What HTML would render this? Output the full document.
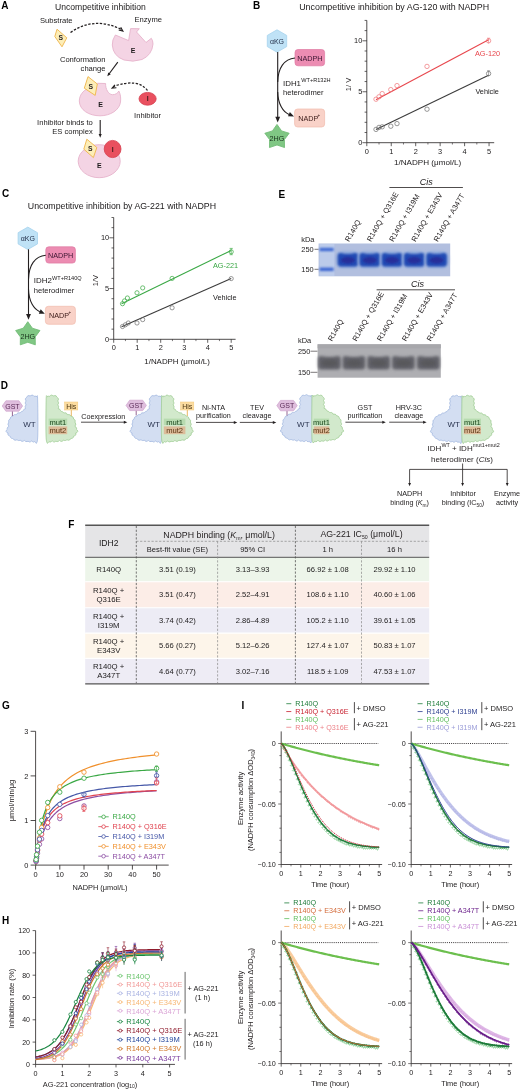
<!DOCTYPE html>
<html><head><meta charset="utf-8"><style>
html,body{margin:0;padding:0;background:#fff;}
body{width:520px;height:1090px;overflow:hidden;}
svg{display:block;filter:blur(0.3px);font-family:"Liberation Sans",sans-serif;}
</style></head><body>
<svg width="520" height="1090" viewBox="0 0 520 1090">
<rect width="520" height="1090" fill="#fff"/>
<text x="1.20" y="9.00" font-size="10" text-anchor="start" fill="#000" font-weight="bold" font-style="normal" >A</text>
<text x="55.00" y="10.20" font-size="8.6" text-anchor="start" fill="#1c1a1b" font-weight="normal" font-style="normal" >Uncompetitive inhibition</text>
<text x="40.00" y="23.20" font-size="7.6" text-anchor="start" fill="#1c1a1b" font-weight="normal" font-style="normal" >Substrate</text>
<text x="134.50" y="22.30" font-size="7.6" text-anchor="start" fill="#1c1a1b" font-weight="normal" font-style="normal" >Enzyme</text>
<path d="M57.0,29.2 L66.8,37.8 L62.0,46.8 L54.8,36.5 Z" fill="#fdeeb8" stroke="#eeb44a" stroke-width="0.9" />
<text x="60.80" y="40.40" font-size="6.8" text-anchor="middle" fill="#231f20" font-weight="bold" font-style="normal" >S</text>
<path d="M70.5,32.5 Q94,16 121.5,29.5" fill="none" stroke="#231f20" stroke-width="1.25" stroke-dasharray="2.4,1.5"/>
<path d="M118.72,29.99 L122.80,31.00 L120.69,27.37" fill="none" stroke="#231f20" stroke-width="1.2" />
<path d="M115.4,35 Q112,40 112.3,45 Q113,56 124,60 Q133,62.5 142,59.5 Q152,55 153,44 Q153,40.5 151.3,38.3 L146,42.5 L136.5,32 L139.3,28.7 L130.6,28.6 L128.6,40.6 Z" fill="#f4d4e4" stroke="#e6b3cc" stroke-width="0.9" />
<text x="133.00" y="53.30" font-size="7" text-anchor="middle" fill="#1c1a1b" font-weight="bold" font-style="normal" >E</text>
<text x="105.50" y="62.00" font-size="7.6" text-anchor="end" fill="#1c1a1b" font-weight="normal" font-style="normal" >Conformation</text>
<text x="105.50" y="70.60" font-size="7.6" text-anchor="end" fill="#1c1a1b" font-weight="normal" font-style="normal" >change</text>
<line x1="117.80" y1="62.20" x2="108.60" y2="74.50" stroke="#231f20" stroke-width="1.1" />
<path d="M108.25,72.41 L107.30,76.30 L110.75,74.28 Z" fill="#231f20" stroke="none"/>
<path d="M79.3,101 C79.5,95 83,91 87,89 L96.6,84 Q97,83.3 98,83.3 L105.6,83.5 C105.3,89 108.5,94.6 112.5,94.7 C115.5,94.8 117.8,93 118.8,91 C120.5,94 121,98 120.5,102 C119.5,110 110.5,115.8 100,115.8 C89,115.8 79.5,110 79.3,101 Z" fill="#f4d4e4" stroke="#e6b3cc" stroke-width="0.9" />
<path d="M88.0,76.6 L97.3,84.0 L95.2,95.4 L84.3,88.2 Z" fill="#fdeeb8" stroke="#eeb44a" stroke-width="0.9" />
<text x="90.80" y="88.60" font-size="6.8" text-anchor="middle" fill="#231f20" font-weight="bold" font-style="normal" >S</text>
<text x="100.50" y="106.80" font-size="7" text-anchor="middle" fill="#1c1a1b" font-weight="bold" font-style="normal" >E</text>
<path d="M147.5,90.5 Q138,78 114,86.3" fill="none" stroke="#231f20" stroke-width="1.25" stroke-dasharray="2.4,1.5"/>
<path d="M114.93,84.81 L112.20,88.00 L116.39,87.73" fill="none" stroke="#231f20" stroke-width="1.2" />
<ellipse cx="147.6" cy="98.8" rx="8.6" ry="6.4" fill="#e9505f" stroke="#d63c4c" stroke-width="0.8"/>
<text x="147.60" y="101.30" font-size="6.8" text-anchor="middle" fill="#3a1a1a" font-weight="bold" font-style="normal" >I</text>
<text x="147.60" y="118.00" font-size="7.6" text-anchor="middle" fill="#1c1a1b" font-weight="normal" font-style="normal" >Inhibitor</text>
<text x="92.80" y="125.20" font-size="7.6" text-anchor="end" fill="#1c1a1b" font-weight="normal" font-style="normal" >Inhibitor binds to</text>
<text x="92.80" y="134.00" font-size="7.6" text-anchor="end" fill="#1c1a1b" font-weight="normal" font-style="normal" >ES complex</text>
<line x1="100.20" y1="120.00" x2="100.20" y2="135.30" stroke="#231f20" stroke-width="1.1" />
<path d="M98.64,134.12 L100.20,137.80 L101.76,134.12 Z" fill="#231f20" stroke="none"/>
<ellipse cx="99.2" cy="161.2" rx="21" ry="16.5" fill="#f4d4e4" stroke="#e6b3cc" stroke-width="0.9"/>
<path d="M86.8,139.2 L96.8,147.5 L93.4,157.6 L83.8,149.2 Z" fill="#fdeeb8" stroke="#eeb44a" stroke-width="0.9" />
<text x="90.20" y="150.60" font-size="6.8" text-anchor="middle" fill="#231f20" font-weight="bold" font-style="normal" >S</text>
<ellipse cx="112.6" cy="149" rx="8.4" ry="8.6" fill="#e9505f" stroke="#d63c4c" stroke-width="0.8"/>
<text x="112.60" y="151.50" font-size="6.8" text-anchor="middle" fill="#3a1a1a" font-weight="bold" font-style="normal" >I</text>
<text x="99.40" y="168.20" font-size="7" text-anchor="middle" fill="#1c1a1b" font-weight="bold" font-style="normal" >E</text>
<text x="253.00" y="9.20" font-size="10" text-anchor="start" fill="#000" font-weight="bold" font-style="normal" >B</text>
<text x="299.20" y="9.50" font-size="8.9" text-anchor="start" fill="#1c1a1b" font-weight="normal" font-style="normal" >Uncompetitive inhibition by AG-120 with NADPH</text>
<path d="M277.00,29.80 L286.70,35.40 L286.70,46.60 L277.00,52.20 L267.30,46.60 L267.30,35.40 Z" fill="#bfe2f6" stroke="#a6d3ee" stroke-width="0.8" />
<text x="277.00" y="43.60" font-size="7" text-anchor="middle" fill="#1f2a44" font-weight="normal" font-style="normal" >αKG</text>
<rect x="295.00" y="49.50" width="29.60" height="16.30" rx="3" fill="#ec8cb2" stroke="#df78a2" stroke-width="0.7"/>
<text x="309.80" y="60.60" font-size="7.2" text-anchor="middle" fill="#3a1530" font-weight="normal" font-style="normal" >NADPH</text>
<line x1="277.70" y1="52.00" x2="277.70" y2="117.00" stroke="#231f20" stroke-width="1.1" />
<path d="M275.29,116.69 L277.70,122.40 L280.11,116.69 Z" fill="#231f20" stroke="none"/>
<path d="M295.00,58.00 C284.00,59.00 278.00,68.00 277.70,82.00" fill="none" stroke="#231f20" stroke-width="1.1" />
<path d="M277.70,92.00 C278.00,104.00 283.00,112.00 289.00,114.40" fill="none" stroke="#231f20" stroke-width="1.1" />
<path d="M288.00,116.35 L294.00,116.40 L289.86,112.06 Z" fill="#231f20" stroke="none"/>
<text x="283.00" y="86.00" font-size="7.9" text-anchor="start" fill="#1c1a1b" font-weight="normal" font-style="normal" >IDH1</text>
<text x="301.20" y="82.20" font-size="5.6" text-anchor="start" fill="#1c1a1b" font-weight="normal" font-style="normal" >WT+R132H</text>
<text x="283.00" y="95.40" font-size="7.6" text-anchor="start" fill="#1c1a1b" font-weight="normal" font-style="normal" >heterodimer</text>
<rect x="294.60" y="109.00" width="30.00" height="18.00" rx="3" fill="#f9d2c8" stroke="#f1bcae" stroke-width="0.7"/>
<text x="308.20" y="120.60" font-size="7.2" text-anchor="middle" fill="#3a1a18" font-weight="normal" font-style="normal" >NADP</text>
<text x="317.60" y="116.80" font-size="4.6" text-anchor="start" fill="#3a1a18" font-weight="normal" font-style="normal" >+</text>
<path d="M277.00,124.40 L281.58,130.89 L289.17,133.24 L284.42,139.61 L284.52,147.56 L277.00,145.00 L269.48,147.56 L269.58,139.61 L264.83,133.24 L272.42,130.89 Z" fill="#80c784" stroke="#6bb970" stroke-width="0.8" stroke-linejoin="round"/>
<text x="277.00" y="141.20" font-size="7.2" text-anchor="middle" fill="#17301a" font-weight="normal" font-style="normal" >2HG</text>
<line x1="366.80" y1="142.70" x2="366.80" y2="20.42" stroke="#231f20" stroke-width="0.8" />
<line x1="362.50" y1="142.70" x2="366.80" y2="142.70" stroke="#231f20" stroke-width="0.7" />
<line x1="364.60" y1="132.51" x2="366.80" y2="132.51" stroke="#231f20" stroke-width="0.7" />
<line x1="364.60" y1="122.32" x2="366.80" y2="122.32" stroke="#231f20" stroke-width="0.7" />
<line x1="364.60" y1="112.13" x2="366.80" y2="112.13" stroke="#231f20" stroke-width="0.7" />
<line x1="364.60" y1="101.94" x2="366.80" y2="101.94" stroke="#231f20" stroke-width="0.7" />
<line x1="362.50" y1="91.75" x2="366.80" y2="91.75" stroke="#231f20" stroke-width="0.7" />
<line x1="364.60" y1="81.56" x2="366.80" y2="81.56" stroke="#231f20" stroke-width="0.7" />
<line x1="364.60" y1="71.37" x2="366.80" y2="71.37" stroke="#231f20" stroke-width="0.7" />
<line x1="364.60" y1="61.18" x2="366.80" y2="61.18" stroke="#231f20" stroke-width="0.7" />
<line x1="364.60" y1="50.99" x2="366.80" y2="50.99" stroke="#231f20" stroke-width="0.7" />
<line x1="362.50" y1="40.80" x2="366.80" y2="40.80" stroke="#231f20" stroke-width="0.7" />
<line x1="364.60" y1="30.61" x2="366.80" y2="30.61" stroke="#231f20" stroke-width="0.7" />
<line x1="364.60" y1="20.42" x2="366.80" y2="20.42" stroke="#231f20" stroke-width="0.7" />
<text x="362.30" y="145.30" font-size="7.4" text-anchor="end" fill="#1c1a1b" font-weight="normal" font-style="normal" >0</text>
<text x="362.30" y="94.35" font-size="7.4" text-anchor="end" fill="#1c1a1b" font-weight="normal" font-style="normal" >5</text>
<text x="362.30" y="43.40" font-size="7.4" text-anchor="end" fill="#1c1a1b" font-weight="normal" font-style="normal" >10</text>
<line x1="366.80" y1="142.70" x2="494.20" y2="142.70" stroke="#231f20" stroke-width="0.8" />
<line x1="366.80" y1="142.70" x2="366.80" y2="146.20" stroke="#231f20" stroke-width="0.7" />
<text x="366.80" y="153.50" font-size="7.4" text-anchor="middle" fill="#1c1a1b" font-weight="normal" font-style="normal" >0</text>
<line x1="391.25" y1="142.70" x2="391.25" y2="146.20" stroke="#231f20" stroke-width="0.7" />
<text x="391.25" y="153.50" font-size="7.4" text-anchor="middle" fill="#1c1a1b" font-weight="normal" font-style="normal" >1</text>
<line x1="415.70" y1="142.70" x2="415.70" y2="146.20" stroke="#231f20" stroke-width="0.7" />
<text x="415.70" y="153.50" font-size="7.4" text-anchor="middle" fill="#1c1a1b" font-weight="normal" font-style="normal" >2</text>
<line x1="440.15" y1="142.70" x2="440.15" y2="146.20" stroke="#231f20" stroke-width="0.7" />
<text x="440.15" y="153.50" font-size="7.4" text-anchor="middle" fill="#1c1a1b" font-weight="normal" font-style="normal" >3</text>
<line x1="464.60" y1="142.70" x2="464.60" y2="146.20" stroke="#231f20" stroke-width="0.7" />
<text x="464.60" y="153.50" font-size="7.4" text-anchor="middle" fill="#1c1a1b" font-weight="normal" font-style="normal" >4</text>
<line x1="489.05" y1="142.70" x2="489.05" y2="146.20" stroke="#231f20" stroke-width="0.7" />
<text x="489.05" y="153.50" font-size="7.4" text-anchor="middle" fill="#1c1a1b" font-weight="normal" font-style="normal" >5</text>
<line x1="379.03" y1="142.70" x2="379.03" y2="144.50" stroke="#231f20" stroke-width="0.6" />
<line x1="403.48" y1="142.70" x2="403.48" y2="144.50" stroke="#231f20" stroke-width="0.6" />
<line x1="427.93" y1="142.70" x2="427.93" y2="144.50" stroke="#231f20" stroke-width="0.6" />
<line x1="452.38" y1="142.70" x2="452.38" y2="144.50" stroke="#231f20" stroke-width="0.6" />
<line x1="476.82" y1="142.70" x2="476.82" y2="144.50" stroke="#231f20" stroke-width="0.6" />
<text x="427.60" y="165.30" font-size="8.1" text-anchor="middle" fill="#1c1a1b" font-weight="normal" font-style="normal" >1/NADPH (μmol/L)</text>
<text transform="translate(351.40,84.40) rotate(-90)" font-size="7.6" text-anchor="middle" fill="#231f20">1/ V</text>
<line x1="376.00" y1="129.60" x2="488.60" y2="75.20" stroke="#3c3c3c" stroke-width="1.1" />
<line x1="376.00" y1="99.80" x2="488.60" y2="39.80" stroke="#e8464c" stroke-width="1.1" />
<circle cx="376.00" cy="129.40" r="2.2" fill="none" stroke="#6d6d6d" stroke-width="0.7" />
<circle cx="379.00" cy="127.40" r="2.2" fill="none" stroke="#6d6d6d" stroke-width="0.7" />
<circle cx="382.20" cy="126.80" r="2.2" fill="none" stroke="#6d6d6d" stroke-width="0.7" />
<circle cx="390.80" cy="126.20" r="2.2" fill="none" stroke="#6d6d6d" stroke-width="0.7" />
<circle cx="397.00" cy="123.60" r="2.2" fill="none" stroke="#6d6d6d" stroke-width="0.7" />
<circle cx="427.00" cy="109.20" r="2.2" fill="none" stroke="#6d6d6d" stroke-width="0.7" />
<circle cx="488.60" cy="73.60" r="2.2" fill="none" stroke="#6d6d6d" stroke-width="0.7" />
<circle cx="376.00" cy="99.20" r="2.2" fill="none" stroke="#ee7277" stroke-width="0.7" />
<circle cx="379.00" cy="96.80" r="2.2" fill="none" stroke="#ee7277" stroke-width="0.7" />
<circle cx="382.20" cy="93.60" r="2.2" fill="none" stroke="#ee7277" stroke-width="0.7" />
<circle cx="390.80" cy="89.60" r="2.2" fill="none" stroke="#ee7277" stroke-width="0.7" />
<circle cx="397.00" cy="85.60" r="2.2" fill="none" stroke="#ee7277" stroke-width="0.7" />
<circle cx="427.00" cy="66.40" r="2.2" fill="none" stroke="#ee7277" stroke-width="0.7" />
<circle cx="488.60" cy="40.80" r="2.2" fill="none" stroke="#ee7277" stroke-width="0.7" />
<line x1="488.60" y1="70.80" x2="488.60" y2="76.40" stroke="#6d6d6d" stroke-width="0.6" />
<line x1="487.00" y1="70.80" x2="490.20" y2="70.80" stroke="#6d6d6d" stroke-width="0.6" />
<line x1="488.60" y1="38.20" x2="488.60" y2="43.40" stroke="#ee7277" stroke-width="0.6" />
<line x1="487.00" y1="38.20" x2="490.20" y2="38.20" stroke="#ee7277" stroke-width="0.6" />
<text x="475.00" y="56.20" font-size="7.3" text-anchor="start" fill="#e8464c" font-weight="normal" font-style="normal" >AG-120</text>
<text x="475.40" y="94.20" font-size="7.3" text-anchor="start" fill="#1c1a1b" font-weight="normal" font-style="normal" >Vehicle</text>
<text x="2.00" y="197.40" font-size="10" text-anchor="start" fill="#000" font-weight="bold" font-style="normal" >C</text>
<text x="27.80" y="208.90" font-size="8.8" text-anchor="start" fill="#1c1a1b" font-weight="normal" font-style="normal" >Uncompetitive inhibition by AG-221 with NADPH</text>
<path d="M27.80,227.10 L37.50,232.70 L37.50,243.90 L27.80,249.50 L18.10,243.90 L18.10,232.70 Z" fill="#bfe2f6" stroke="#a6d3ee" stroke-width="0.8" />
<text x="27.80" y="240.90" font-size="7" text-anchor="middle" fill="#1f2a44" font-weight="normal" font-style="normal" >αKG</text>
<rect x="45.80" y="246.80" width="29.60" height="16.30" rx="3" fill="#ec8cb2" stroke="#df78a2" stroke-width="0.7"/>
<text x="60.60" y="257.90" font-size="7.2" text-anchor="middle" fill="#3a1530" font-weight="normal" font-style="normal" >NADPH</text>
<line x1="28.50" y1="249.30" x2="28.50" y2="314.30" stroke="#231f20" stroke-width="1.1" />
<path d="M26.09,313.99 L28.50,319.70 L30.91,313.99 Z" fill="#231f20" stroke="none"/>
<path d="M45.80,255.30 C34.80,256.30 28.80,265.30 28.50,279.30" fill="none" stroke="#231f20" stroke-width="1.1" />
<path d="M28.50,289.30 C28.80,301.30 33.80,309.30 39.80,311.70" fill="none" stroke="#231f20" stroke-width="1.1" />
<path d="M38.80,313.65 L44.80,313.70 L40.66,309.36 Z" fill="#231f20" stroke="none"/>
<text x="33.80" y="283.30" font-size="7.9" text-anchor="start" fill="#1c1a1b" font-weight="normal" font-style="normal" >IDH2</text>
<text x="52.00" y="279.50" font-size="5.6" text-anchor="start" fill="#1c1a1b" font-weight="normal" font-style="normal" >WT+R140Q</text>
<text x="33.80" y="292.70" font-size="7.6" text-anchor="start" fill="#1c1a1b" font-weight="normal" font-style="normal" >heterodimer</text>
<rect x="45.40" y="306.30" width="30.00" height="18.00" rx="3" fill="#f9d2c8" stroke="#f1bcae" stroke-width="0.7"/>
<text x="59.00" y="317.90" font-size="7.2" text-anchor="middle" fill="#3a1a18" font-weight="normal" font-style="normal" >NADP</text>
<text x="68.40" y="314.10" font-size="4.6" text-anchor="start" fill="#3a1a18" font-weight="normal" font-style="normal" >+</text>
<path d="M27.80,321.70 L32.38,328.19 L39.97,330.54 L35.22,336.91 L35.32,344.86 L27.80,342.30 L20.28,344.86 L20.38,336.91 L15.63,330.54 L23.22,328.19 Z" fill="#80c784" stroke="#6bb970" stroke-width="0.8" stroke-linejoin="round"/>
<text x="27.80" y="338.50" font-size="7.2" text-anchor="middle" fill="#17301a" font-weight="normal" font-style="normal" >2HG</text>
<line x1="113.70" y1="339.30" x2="113.70" y2="217.50" stroke="#231f20" stroke-width="0.8" />
<line x1="109.40" y1="339.30" x2="113.70" y2="339.30" stroke="#231f20" stroke-width="0.7" />
<line x1="111.50" y1="329.15" x2="113.70" y2="329.15" stroke="#231f20" stroke-width="0.7" />
<line x1="111.50" y1="319.00" x2="113.70" y2="319.00" stroke="#231f20" stroke-width="0.7" />
<line x1="111.50" y1="308.85" x2="113.70" y2="308.85" stroke="#231f20" stroke-width="0.7" />
<line x1="111.50" y1="298.70" x2="113.70" y2="298.70" stroke="#231f20" stroke-width="0.7" />
<line x1="109.40" y1="288.55" x2="113.70" y2="288.55" stroke="#231f20" stroke-width="0.7" />
<line x1="111.50" y1="278.40" x2="113.70" y2="278.40" stroke="#231f20" stroke-width="0.7" />
<line x1="111.50" y1="268.25" x2="113.70" y2="268.25" stroke="#231f20" stroke-width="0.7" />
<line x1="111.50" y1="258.10" x2="113.70" y2="258.10" stroke="#231f20" stroke-width="0.7" />
<line x1="111.50" y1="247.95" x2="113.70" y2="247.95" stroke="#231f20" stroke-width="0.7" />
<line x1="109.40" y1="237.80" x2="113.70" y2="237.80" stroke="#231f20" stroke-width="0.7" />
<line x1="111.50" y1="227.65" x2="113.70" y2="227.65" stroke="#231f20" stroke-width="0.7" />
<line x1="111.50" y1="217.50" x2="113.70" y2="217.50" stroke="#231f20" stroke-width="0.7" />
<text x="109.20" y="341.90" font-size="7.4" text-anchor="end" fill="#1c1a1b" font-weight="normal" font-style="normal" >0</text>
<text x="109.20" y="291.15" font-size="7.4" text-anchor="end" fill="#1c1a1b" font-weight="normal" font-style="normal" >5</text>
<text x="109.20" y="240.40" font-size="7.4" text-anchor="end" fill="#1c1a1b" font-weight="normal" font-style="normal" >10</text>
<line x1="113.70" y1="339.30" x2="235.60" y2="339.30" stroke="#231f20" stroke-width="0.8" />
<line x1="113.70" y1="339.30" x2="113.70" y2="342.80" stroke="#231f20" stroke-width="0.7" />
<text x="113.70" y="350.10" font-size="7.4" text-anchor="middle" fill="#1c1a1b" font-weight="normal" font-style="normal" >0</text>
<line x1="137.20" y1="339.30" x2="137.20" y2="342.80" stroke="#231f20" stroke-width="0.7" />
<text x="137.20" y="350.10" font-size="7.4" text-anchor="middle" fill="#1c1a1b" font-weight="normal" font-style="normal" >1</text>
<line x1="160.70" y1="339.30" x2="160.70" y2="342.80" stroke="#231f20" stroke-width="0.7" />
<text x="160.70" y="350.10" font-size="7.4" text-anchor="middle" fill="#1c1a1b" font-weight="normal" font-style="normal" >2</text>
<line x1="184.20" y1="339.30" x2="184.20" y2="342.80" stroke="#231f20" stroke-width="0.7" />
<text x="184.20" y="350.10" font-size="7.4" text-anchor="middle" fill="#1c1a1b" font-weight="normal" font-style="normal" >3</text>
<line x1="207.70" y1="339.30" x2="207.70" y2="342.80" stroke="#231f20" stroke-width="0.7" />
<text x="207.70" y="350.10" font-size="7.4" text-anchor="middle" fill="#1c1a1b" font-weight="normal" font-style="normal" >4</text>
<line x1="231.20" y1="339.30" x2="231.20" y2="342.80" stroke="#231f20" stroke-width="0.7" />
<text x="231.20" y="350.10" font-size="7.4" text-anchor="middle" fill="#1c1a1b" font-weight="normal" font-style="normal" >5</text>
<line x1="125.45" y1="339.30" x2="125.45" y2="341.10" stroke="#231f20" stroke-width="0.6" />
<line x1="148.95" y1="339.30" x2="148.95" y2="341.10" stroke="#231f20" stroke-width="0.6" />
<line x1="172.45" y1="339.30" x2="172.45" y2="341.10" stroke="#231f20" stroke-width="0.6" />
<line x1="195.95" y1="339.30" x2="195.95" y2="341.10" stroke="#231f20" stroke-width="0.6" />
<line x1="219.45" y1="339.30" x2="219.45" y2="341.10" stroke="#231f20" stroke-width="0.6" />
<text x="177.10" y="364.30" font-size="7.9" text-anchor="middle" fill="#1c1a1b" font-weight="normal" font-style="normal" >1/NADPH (μmol/L)</text>
<text transform="translate(98.20,280.60) rotate(-90)" font-size="7.6" text-anchor="middle" fill="#231f20">1/V</text>
<line x1="121.60" y1="326.80" x2="231.20" y2="278.60" stroke="#3c3c3c" stroke-width="1.1" />
<line x1="121.60" y1="303.70" x2="231.20" y2="250.40" stroke="#3aa845" stroke-width="1.1" />
<circle cx="122.50" cy="326.50" r="2.1" fill="none" stroke="#6d6d6d" stroke-width="0.7" />
<circle cx="125.40" cy="324.80" r="2.1" fill="none" stroke="#6d6d6d" stroke-width="0.7" />
<circle cx="128.30" cy="323.00" r="2.1" fill="none" stroke="#6d6d6d" stroke-width="0.7" />
<circle cx="137.00" cy="323.00" r="2.1" fill="none" stroke="#6d6d6d" stroke-width="0.7" />
<circle cx="142.70" cy="319.60" r="2.1" fill="none" stroke="#6d6d6d" stroke-width="0.7" />
<circle cx="172.10" cy="307.80" r="2.1" fill="none" stroke="#6d6d6d" stroke-width="0.7" />
<circle cx="231.20" cy="278.60" r="2.1" fill="none" stroke="#6d6d6d" stroke-width="0.7" />
<circle cx="122.50" cy="303.70" r="2.1" fill="none" stroke="#49b050" stroke-width="0.8" />
<circle cx="124.50" cy="300.90" r="2.1" fill="none" stroke="#49b050" stroke-width="0.8" />
<circle cx="127.40" cy="298.00" r="2.1" fill="none" stroke="#49b050" stroke-width="0.8" />
<circle cx="137.00" cy="292.80" r="2.1" fill="none" stroke="#49b050" stroke-width="0.8" />
<circle cx="142.70" cy="287.90" r="2.1" fill="none" stroke="#49b050" stroke-width="0.8" />
<circle cx="172.10" cy="278.40" r="2.1" fill="none" stroke="#49b050" stroke-width="0.8" />
<circle cx="231.20" cy="251.80" r="2.1" fill="none" stroke="#49b050" stroke-width="0.8" />
<line x1="231.20" y1="248.40" x2="231.20" y2="254.70" stroke="#49b050" stroke-width="0.7" />
<line x1="229.60" y1="248.40" x2="232.80" y2="248.40" stroke="#49b050" stroke-width="0.7" />
<line x1="229.60" y1="254.70" x2="232.80" y2="254.70" stroke="#49b050" stroke-width="0.7" />
<text x="213.00" y="267.50" font-size="7.3" text-anchor="start" fill="#3aa845" font-weight="normal" font-style="normal" >AG-221</text>
<text x="213.00" y="300.10" font-size="7.3" text-anchor="start" fill="#1c1a1b" font-weight="normal" font-style="normal" >Vehicle</text>
<text x="278.50" y="198.00" font-size="10" text-anchor="start" fill="#000" font-weight="bold" font-style="normal" >E</text>
<text transform="translate(349.10,242.20) rotate(-60)" font-size="7.5" fill="#231f20">R140Q</text>
<text transform="translate(370.90,242.20) rotate(-60)" font-size="7.5" fill="#231f20">R140Q + Q316E</text>
<text transform="translate(393.20,242.20) rotate(-60)" font-size="7.5" fill="#231f20">R140Q + I319M</text>
<text transform="translate(415.40,242.20) rotate(-60)" font-size="7.5" fill="#231f20">R140Q + E343V</text>
<text transform="translate(437.80,242.20) rotate(-60)" font-size="7.5" fill="#231f20">R140Q + A347T</text>
<line x1="389.40" y1="187.50" x2="462.90" y2="187.50" stroke="#231f20" stroke-width="0.8" />
<text x="426.30" y="184.60" font-size="9" text-anchor="middle" fill="#1c1a1b" font-weight="normal" font-style="italic" >Cis</text>
<text x="301.30" y="242.20" font-size="7.4" text-anchor="start" fill="#1c1a1b" font-weight="normal" font-style="normal" >kDa</text>
<text x="301.30" y="252.00" font-size="7.4" text-anchor="start" fill="#1c1a1b" font-weight="normal" font-style="normal" >250</text>
<text x="301.30" y="272.00" font-size="7.4" text-anchor="start" fill="#1c1a1b" font-weight="normal" font-style="normal" >150</text>
<line x1="314.50" y1="249.30" x2="318.80" y2="249.30" stroke="#231f20" stroke-width="0.6" />
<line x1="314.50" y1="269.30" x2="318.80" y2="269.30" stroke="#231f20" stroke-width="0.6" />
<defs><filter id="blur1" x="-20%" y="-50%" width="140%" height="200%"><feGaussianBlur stdDeviation="0.9"/></filter><filter id="blur2" x="-20%" y="-50%" width="140%" height="200%"><feGaussianBlur stdDeviation="1.5"/></filter></defs>
<rect x="318.6" y="243.5" width="131.6" height="32.8" fill="#b2bfdf"/>
<rect x="319.4" y="244" width="15" height="32" fill="#bccbea"/>
<rect x="319.6" y="247.9" width="14" height="3.2" fill="#3e68d2" filter="url(#blur1)"/>
<rect x="319.6" y="267.6" width="14" height="3.4" fill="#3e68d2" filter="url(#blur1)"/>
<rect x="336.1" y="251.6" width="23.6" height="16.4" rx="6" fill="#8ea9dc" filter="url(#blur2)"/>
<path d="M337.7,256 Q337.7,253 340.7,253 Q347.9,255.2 355.1,253 Q358.1,253 358.1,256 L358.1,263 Q358.1,266.4 355.1,266.4 L340.7,266.4 Q337.7,266.4 337.7,263 Z" fill="#214cb4" filter="url(#blur1)"/>
<ellipse cx="347.9" cy="260.2" rx="7" ry="3.2" fill="#272e9a" filter="url(#blur1)"/>
<rect x="357.9" y="251.6" width="23.6" height="16.4" rx="6" fill="#8ea9dc" filter="url(#blur2)"/>
<path d="M359.5,256 Q359.5,253 362.5,253 Q369.7,255.2 376.9,253 Q379.9,253 379.9,256 L379.9,263 Q379.9,266.4 376.9,266.4 L362.5,266.4 Q359.5,266.4 359.5,263 Z" fill="#214cb4" filter="url(#blur1)"/>
<ellipse cx="369.7" cy="260.2" rx="7" ry="3.2" fill="#272e9a" filter="url(#blur1)"/>
<rect x="380.2" y="251.6" width="23.6" height="16.4" rx="6" fill="#8ea9dc" filter="url(#blur2)"/>
<path d="M381.8,256 Q381.8,253 384.8,253 Q392.0,255.2 399.2,253 Q402.2,253 402.2,256 L402.2,263 Q402.2,266.4 399.2,266.4 L384.8,266.4 Q381.8,266.4 381.8,263 Z" fill="#214cb4" filter="url(#blur1)"/>
<ellipse cx="392.0" cy="260.2" rx="7" ry="3.2" fill="#272e9a" filter="url(#blur1)"/>
<rect x="402.4" y="251.6" width="23.6" height="16.4" rx="6" fill="#8ea9dc" filter="url(#blur2)"/>
<path d="M404.0,256 Q404.0,253 407.0,253 Q414.2,255.2 421.4,253 Q424.4,253 424.4,256 L424.4,263 Q424.4,266.4 421.4,266.4 L407.0,266.4 Q404.0,266.4 404.0,263 Z" fill="#214cb4" filter="url(#blur1)"/>
<ellipse cx="414.2" cy="260.2" rx="7" ry="3.2" fill="#272e9a" filter="url(#blur1)"/>
<rect x="424.8" y="251.6" width="23.6" height="16.4" rx="6" fill="#8ea9dc" filter="url(#blur2)"/>
<path d="M426.4,256 Q426.4,253 429.4,253 Q436.6,255.2 443.8,253 Q446.8,253 446.8,256 L446.8,263 Q446.8,266.4 443.8,266.4 L429.4,266.4 Q426.4,266.4 426.4,263 Z" fill="#214cb4" filter="url(#blur1)"/>
<ellipse cx="436.6" cy="260.2" rx="7" ry="3.2" fill="#272e9a" filter="url(#blur1)"/>
<text transform="translate(331.90,341.80) rotate(-60)" font-size="7.5" fill="#231f20">R140Q</text>
<text transform="translate(356.40,341.80) rotate(-60)" font-size="7.5" fill="#231f20">R140Q + Q316E</text>
<text transform="translate(381.10,341.80) rotate(-60)" font-size="7.5" fill="#231f20">R140Q + I319M</text>
<text transform="translate(405.90,341.80) rotate(-60)" font-size="7.5" fill="#231f20">R140Q + E343V</text>
<text transform="translate(430.80,341.80) rotate(-60)" font-size="7.5" fill="#231f20">R140Q + A347T</text>
<line x1="376.60" y1="289.80" x2="455.00" y2="289.80" stroke="#231f20" stroke-width="0.8" />
<text x="417.50" y="286.60" font-size="9" text-anchor="middle" fill="#1c1a1b" font-weight="normal" font-style="italic" >Cis</text>
<text x="298.00" y="343.00" font-size="7.4" text-anchor="start" fill="#1c1a1b" font-weight="normal" font-style="normal" >kDa</text>
<text x="298.00" y="353.80" font-size="7.4" text-anchor="start" fill="#1c1a1b" font-weight="normal" font-style="normal" >250</text>
<text x="298.00" y="375.00" font-size="7.4" text-anchor="start" fill="#1c1a1b" font-weight="normal" font-style="normal" >150</text>
<line x1="310.50" y1="351.20" x2="317.60" y2="351.20" stroke="#231f20" stroke-width="0.6" />
<line x1="310.50" y1="372.30" x2="317.60" y2="372.30" stroke="#231f20" stroke-width="0.6" />
<rect x="317.6" y="344.3" width="123.2" height="33.4" fill="#aeaeb2"/>
<rect x="317.6" y="344.3" width="123.2" height="4" fill="#a7a7ab"/>
<path d="M318.1,359 Q318.1,356 321.1,356 Q329.4,358.2 337.7,356 Q340.7,356 340.7,359 L340.7,366 Q340.7,369.4 337.7,369.4 L321.1,369.4 Q318.1,369.4 318.1,366 Z" fill="#606168" filter="url(#blur2)"/>
<ellipse cx="329.4" cy="363.2" rx="8" ry="3.4" fill="#58585b" filter="url(#blur2)"/>
<path d="M342.6,359 Q342.6,356 345.6,356 Q353.9,358.2 362.2,356 Q365.2,356 365.2,359 L365.2,366 Q365.2,369.4 362.2,369.4 L345.6,369.4 Q342.6,369.4 342.6,366 Z" fill="#606168" filter="url(#blur2)"/>
<ellipse cx="353.9" cy="363.2" rx="8" ry="3.4" fill="#58585b" filter="url(#blur2)"/>
<path d="M367.3,359 Q367.3,356 370.3,356 Q378.6,358.2 386.9,356 Q389.9,356 389.9,359 L389.9,366 Q389.9,369.4 386.9,369.4 L370.3,369.4 Q367.3,369.4 367.3,366 Z" fill="#606168" filter="url(#blur2)"/>
<ellipse cx="378.6" cy="363.2" rx="8" ry="3.4" fill="#58585b" filter="url(#blur2)"/>
<path d="M392.1,359 Q392.1,356 395.1,356 Q403.4,358.2 411.7,356 Q414.7,356 414.7,359 L414.7,366 Q414.7,369.4 411.7,369.4 L395.1,369.4 Q392.1,369.4 392.1,366 Z" fill="#606168" filter="url(#blur2)"/>
<ellipse cx="403.4" cy="363.2" rx="8" ry="3.4" fill="#58585b" filter="url(#blur2)"/>
<path d="M417.0,359 Q417.0,356 420.0,356 Q428.3,358.2 436.6,356 Q439.6,356 439.6,359 L439.6,366 Q439.6,369.4 436.6,369.4 L420.0,369.4 Q417.0,369.4 417.0,366 Z" fill="#606168" filter="url(#blur2)"/>
<ellipse cx="428.3" cy="363.2" rx="8" ry="3.4" fill="#58585b" filter="url(#blur2)"/>
<text x="0.80" y="388.60" font-size="10" text-anchor="start" fill="#000" font-weight="bold" font-style="normal" >D</text>
<path d="M37.60,398.90 L37.62,399.90 L37.65,400.90 L37.67,401.90 L37.69,402.90 L37.71,403.90 L37.72,404.90 L37.74,405.90 L37.75,406.90 L37.76,407.90 L37.78,408.90 L37.79,409.90 L37.80,410.90 L37.81,411.90 L37.82,412.90 L37.83,413.90 L37.84,414.90 L37.84,415.90 L37.85,416.90 L37.86,417.90 L37.86,418.90 L37.87,419.90 L37.87,420.90 L37.87,421.90 L37.87,422.90 L37.87,423.90 L37.87,424.90 L37.87,425.90 L37.86,426.90 L37.86,427.90 L37.85,428.90 L37.84,429.90 L37.83,430.90 L37.82,431.90 L37.80,432.90 L37.78,433.90 L37.75,434.90 L37.73,435.90 L37.69,436.90 L37.64,437.89 L37.58,438.89 L37.48,439.89 L37.34,440.88 L37.11,441.84 L36.33,443.42 L35.37,442.27 L34.77,441.52 L33.84,442.11 L32.70,441.80 L32.01,440.97 L31.16,441.10 L30.39,441.80 L29.25,441.95 L28.13,441.31 L27.02,441.49 L25.96,441.55 L25.14,441.11 L24.25,440.36 L23.29,441.10 L22.23,441.38 L21.13,440.91 L20.25,440.23 L19.12,440.54 L18.27,440.49 L17.40,440.05 L16.35,439.93 L15.13,440.26 L14.10,439.86 L13.42,438.90 L12.45,438.49 L11.32,438.26 L10.60,437.47 L10.31,436.29 L9.31,435.83 L8.35,435.28 L7.92,434.21 L8.09,432.97 L6.98,432.59 L6.07,431.57 L6.46,430.14 L7.29,429.35 L7.21,428.19 L7.74,427.15 L8.57,426.72 L8.81,425.92 L8.13,425.03 L8.01,423.98 L8.64,422.87 L8.72,421.82 L8.57,420.69 L9.07,419.74 L10.12,419.07 L10.44,417.97 L10.86,417.01 L11.65,416.42 L12.95,416.23 L13.62,415.16 L14.50,414.59 L15.54,414.61 L16.57,414.58 L17.08,413.52 L17.98,412.87 L19.17,412.92 L20.18,412.78 L20.90,411.96 L21.53,411.60 L22.58,411.38 L23.24,410.55 L23.77,409.55 L24.52,409.09 L25.52,408.76 L25.37,407.78 L25.12,406.80 L25.42,405.86 L26.15,404.89 L25.48,403.87 L25.26,402.86 L25.64,401.89 L26.07,400.89 L25.45,399.86 L25.40,398.79 L26.15,397.75 L27.03,396.92 L27.68,395.87 L28.91,395.60 L29.95,395.97 L30.93,395.63 L32.01,395.08 L33.19,395.39 L33.98,396.32 L35.04,396.23 L36.18,396.21 L36.00,396.87 L36.94,396.23 L37.36,395.67 L37.49,396.66 Z" fill="#d3def2" stroke="#a9bde2" stroke-width="0.9" stroke-linejoin="round"/>
<line x1="12.40" y1="411.00" x2="12.40" y2="416.00" stroke="#7a3f78" stroke-width="0.8" />
<path d="M2.20,406.00 L5.90,400.80 L18.90,400.80 L22.60,406.00 L18.90,411.20 L5.90,411.20 Z" fill="#dfbedd" stroke="#cfa3cd" stroke-width="0.7" />
<text x="12.40" y="408.50" font-size="7" text-anchor="middle" fill="#5b2b58" font-weight="normal" font-style="normal" >GST</text>
<text x="29.40" y="426.50" font-size="8" text-anchor="middle" fill="#2a3450" font-weight="normal" font-style="normal" >WT</text>
<path d="M46.20,398.90 L46.18,399.90 L46.15,400.90 L46.13,401.90 L46.11,402.90 L46.09,403.90 L46.08,404.90 L46.06,405.90 L46.05,406.90 L46.04,407.90 L46.02,408.90 L46.01,409.90 L46.00,410.90 L45.99,411.90 L45.98,412.90 L45.97,413.90 L45.96,414.90 L45.96,415.90 L45.95,416.90 L45.94,417.90 L45.94,418.90 L45.93,419.90 L45.93,420.90 L45.93,421.90 L45.93,422.90 L45.93,423.90 L45.93,424.90 L45.93,425.90 L45.94,426.90 L45.94,427.90 L45.95,428.90 L45.96,429.90 L45.97,430.90 L45.98,431.90 L46.00,432.90 L46.02,433.90 L46.05,434.90 L46.07,435.90 L46.11,436.90 L46.16,437.89 L46.22,438.89 L46.32,439.89 L46.46,440.88 L46.69,441.84 L47.47,443.42 L48.43,442.27 L49.03,441.52 L49.96,442.11 L51.10,441.80 L51.79,440.97 L52.64,441.10 L53.41,441.80 L54.55,441.95 L55.67,441.31 L56.78,441.49 L57.84,441.55 L58.66,441.11 L59.55,440.36 L60.51,441.10 L61.57,441.38 L62.67,440.91 L63.55,440.23 L64.68,440.54 L65.53,440.49 L66.40,440.05 L67.45,439.93 L68.67,440.26 L69.70,439.86 L70.38,438.90 L71.35,438.49 L72.48,438.26 L73.20,437.47 L73.49,436.29 L74.49,435.83 L75.45,435.28 L75.88,434.21 L75.71,432.97 L76.82,432.59 L77.73,431.57 L77.34,430.14 L76.51,429.35 L76.59,428.19 L76.06,427.15 L75.23,426.72 L74.99,425.92 L75.67,425.03 L75.79,423.98 L75.16,422.87 L75.08,421.82 L75.23,420.69 L74.73,419.74 L73.68,419.07 L73.36,417.97 L72.94,417.01 L72.15,416.42 L70.85,416.23 L70.18,415.16 L69.30,414.59 L68.26,414.61 L67.23,414.58 L66.72,413.52 L65.82,412.87 L64.63,412.92 L63.62,412.78 L62.90,411.96 L62.27,411.60 L61.22,411.38 L60.56,410.55 L60.03,409.55 L59.28,409.09 L58.28,408.76 L58.43,407.78 L58.68,406.80 L58.38,405.86 L57.65,404.89 L58.32,403.87 L58.54,402.86 L58.16,401.89 L57.73,400.89 L58.35,399.86 L58.40,398.79 L57.65,397.75 L56.77,396.92 L56.12,395.87 L54.89,395.60 L53.85,395.97 L52.87,395.63 L51.79,395.08 L50.61,395.39 L49.82,396.32 L48.76,396.23 L47.62,396.21 L47.80,396.87 L46.86,396.23 L46.44,395.67 L46.31,396.66 Z" fill="#d2e9cc" stroke="#a6d09c" stroke-width="0.9" stroke-linejoin="round"/>
<line x1="71.30" y1="410.00" x2="71.30" y2="416.00" stroke="#e5a43a" stroke-width="0.8" />
<rect x="64.60" y="402.00" width="13.2" height="8" fill="#fcdca0" stroke="#f3c878" stroke-width="0.5"/>
<text x="71.20" y="408.50" font-size="7" text-anchor="middle" fill="#4a3410" font-weight="normal" font-style="normal" >His</text>
<rect x="48.60" y="418.6" width="18.6" height="6.4" fill="#b7dbb0"/>
<rect x="48.60" y="426.4" width="18.6" height="7.8" fill="#dcbc9a"/>
<text x="57.90" y="424.80" font-size="7.6" text-anchor="middle" fill="#1f4a22" font-weight="normal" font-style="normal" >mut1</text>
<text x="57.90" y="433.10" font-size="7.6" text-anchor="middle" fill="#5b3614" font-weight="normal" font-style="normal" >mut2</text>
<text x="103.30" y="419.40" font-size="7.2" text-anchor="middle" fill="#1c1a1b" font-weight="normal" font-style="normal" >Coexpression</text>
<line x1="81.00" y1="422.20" x2="124.50" y2="422.20" stroke="#231f20" stroke-width="0.8" />
<path d="M123.80,423.68 L127.30,422.20 L123.80,420.72 Z" fill="#231f20" stroke="none"/>
<path d="M161.60,398.90 L161.62,399.90 L161.65,400.90 L161.67,401.90 L161.69,402.90 L161.71,403.90 L161.72,404.90 L161.74,405.90 L161.75,406.90 L161.76,407.90 L161.78,408.90 L161.79,409.90 L161.80,410.90 L161.81,411.90 L161.82,412.90 L161.83,413.90 L161.84,414.90 L161.84,415.90 L161.85,416.90 L161.86,417.90 L161.86,418.90 L161.87,419.90 L161.87,420.90 L161.87,421.90 L161.87,422.90 L161.87,423.90 L161.87,424.90 L161.87,425.90 L161.86,426.90 L161.86,427.90 L161.85,428.90 L161.84,429.90 L161.83,430.90 L161.82,431.90 L161.80,432.90 L161.78,433.90 L161.75,434.90 L161.73,435.90 L161.69,436.90 L161.64,437.89 L161.58,438.89 L161.48,439.89 L161.34,440.88 L161.11,441.84 L160.33,443.42 L159.37,442.27 L158.77,441.52 L157.84,442.11 L156.70,441.80 L156.01,440.97 L155.16,441.10 L154.39,441.80 L153.25,441.95 L152.13,441.31 L151.02,441.49 L149.96,441.55 L149.14,441.11 L148.25,440.36 L147.29,441.10 L146.23,441.38 L145.13,440.91 L144.25,440.23 L143.12,440.54 L142.27,440.49 L141.40,440.05 L140.35,439.93 L139.13,440.26 L138.10,439.86 L137.42,438.90 L136.45,438.49 L135.32,438.26 L134.60,437.47 L134.31,436.29 L133.31,435.83 L132.35,435.28 L131.92,434.21 L132.09,432.97 L130.98,432.59 L130.07,431.57 L130.46,430.14 L131.29,429.35 L131.21,428.19 L131.74,427.15 L132.57,426.72 L132.81,425.92 L132.13,425.03 L132.01,423.98 L132.64,422.87 L132.72,421.82 L132.57,420.69 L133.07,419.74 L134.12,419.07 L134.44,417.97 L134.86,417.01 L135.65,416.42 L136.95,416.23 L137.62,415.16 L138.50,414.59 L139.54,414.61 L140.57,414.58 L141.08,413.52 L141.98,412.87 L143.17,412.92 L144.18,412.78 L144.90,411.96 L145.53,411.60 L146.58,411.38 L147.24,410.55 L147.77,409.55 L148.52,409.09 L149.52,408.76 L149.37,407.78 L149.12,406.80 L149.42,405.86 L150.15,404.89 L149.48,403.87 L149.26,402.86 L149.64,401.89 L150.07,400.89 L149.45,399.86 L149.40,398.79 L150.15,397.75 L151.03,396.92 L151.68,395.87 L152.91,395.60 L153.95,395.97 L154.93,395.63 L156.01,395.08 L157.19,395.39 L157.98,396.32 L159.04,396.23 L160.18,396.21 L160.00,396.87 L160.94,396.23 L161.36,395.67 L161.49,396.66 Z" fill="#d3def2" stroke="#a9bde2" stroke-width="0.9" stroke-linejoin="round"/>
<path d="M161.60,398.90 L161.58,399.90 L161.55,400.90 L161.53,401.90 L161.51,402.90 L161.49,403.90 L161.48,404.90 L161.46,405.90 L161.45,406.90 L161.44,407.90 L161.42,408.90 L161.41,409.90 L161.40,410.90 L161.39,411.90 L161.38,412.90 L161.37,413.90 L161.36,414.90 L161.36,415.90 L161.35,416.90 L161.34,417.90 L161.34,418.90 L161.33,419.90 L161.33,420.90 L161.33,421.90 L161.33,422.90 L161.33,423.90 L161.33,424.90 L161.33,425.90 L161.34,426.90 L161.34,427.90 L161.35,428.90 L161.36,429.90 L161.37,430.90 L161.38,431.90 L161.40,432.90 L161.42,433.90 L161.45,434.90 L161.47,435.90 L161.51,436.90 L161.56,437.89 L161.62,438.89 L161.72,439.89 L161.86,440.88 L162.09,441.84 L162.87,443.42 L163.83,442.27 L164.43,441.52 L165.36,442.11 L166.50,441.80 L167.19,440.97 L168.04,441.10 L168.81,441.80 L169.95,441.95 L171.07,441.31 L172.18,441.49 L173.24,441.55 L174.06,441.11 L174.95,440.36 L175.91,441.10 L176.97,441.38 L178.07,440.91 L178.95,440.23 L180.08,440.54 L180.93,440.49 L181.80,440.05 L182.85,439.93 L184.07,440.26 L185.10,439.86 L185.78,438.90 L186.75,438.49 L187.88,438.26 L188.60,437.47 L188.89,436.29 L189.89,435.83 L190.85,435.28 L191.28,434.21 L191.11,432.97 L192.22,432.59 L193.13,431.57 L192.74,430.14 L191.91,429.35 L191.99,428.19 L191.46,427.15 L190.63,426.72 L190.39,425.92 L191.07,425.03 L191.19,423.98 L190.56,422.87 L190.48,421.82 L190.63,420.69 L190.13,419.74 L189.08,419.07 L188.76,417.97 L188.34,417.01 L187.55,416.42 L186.25,416.23 L185.58,415.16 L184.70,414.59 L183.66,414.61 L182.63,414.58 L182.12,413.52 L181.22,412.87 L180.03,412.92 L179.02,412.78 L178.30,411.96 L177.67,411.60 L176.62,411.38 L175.96,410.55 L175.43,409.55 L174.68,409.09 L173.68,408.76 L173.83,407.78 L174.08,406.80 L173.78,405.86 L173.05,404.89 L173.72,403.87 L173.94,402.86 L173.56,401.89 L173.13,400.89 L173.75,399.86 L173.80,398.79 L173.05,397.75 L172.17,396.92 L171.52,395.87 L170.29,395.60 L169.25,395.97 L168.27,395.63 L167.19,395.08 L166.01,395.39 L165.22,396.32 L164.16,396.23 L163.02,396.21 L163.20,396.87 L162.26,396.23 L161.84,395.67 L161.71,396.66 Z" fill="#d2e9cc" stroke="#a6d09c" stroke-width="0.9" stroke-linejoin="round"/>
<line x1="136.20" y1="410.40" x2="136.20" y2="415.40" stroke="#7a3f78" stroke-width="0.8" />
<path d="M126.00,405.40 L129.70,400.20 L142.70,400.20 L146.40,405.40 L142.70,410.60 L129.70,410.60 Z" fill="#dfbedd" stroke="#cfa3cd" stroke-width="0.7" />
<text x="136.20" y="407.90" font-size="7" text-anchor="middle" fill="#5b2b58" font-weight="normal" font-style="normal" >GST</text>
<line x1="187.30" y1="410.00" x2="187.30" y2="416.00" stroke="#e5a43a" stroke-width="0.8" />
<rect x="180.60" y="402.00" width="13.2" height="8" fill="#fcdca0" stroke="#f3c878" stroke-width="0.5"/>
<text x="187.20" y="408.50" font-size="7" text-anchor="middle" fill="#4a3410" font-weight="normal" font-style="normal" >His</text>
<text x="153.70" y="426.50" font-size="8" text-anchor="middle" fill="#2a3450" font-weight="normal" font-style="normal" >WT</text>
<rect x="163.80" y="418.6" width="21.6" height="6.4" fill="#b7dbb0"/>
<rect x="163.80" y="426.4" width="21.6" height="7.8" fill="#dcbc9a"/>
<text x="174.60" y="424.80" font-size="7.6" text-anchor="middle" fill="#1f4a22" font-weight="normal" font-style="normal" >mut1</text>
<text x="174.60" y="433.10" font-size="7.6" text-anchor="middle" fill="#5b3614" font-weight="normal" font-style="normal" >mut2</text>
<text x="213.50" y="410.20" font-size="7.2" text-anchor="middle" fill="#1c1a1b" font-weight="normal" font-style="normal" >Ni-NTA</text>
<text x="213.50" y="417.80" font-size="7.2" text-anchor="middle" fill="#1c1a1b" font-weight="normal" font-style="normal" >purification</text>
<line x1="196.00" y1="422.40" x2="234.50" y2="422.40" stroke="#231f20" stroke-width="0.8" />
<path d="M233.80,423.88 L237.30,422.40 L233.80,420.92 Z" fill="#231f20" stroke="none"/>
<text x="257.00" y="410.20" font-size="7.2" text-anchor="middle" fill="#1c1a1b" font-weight="normal" font-style="normal" >TEV</text>
<text x="257.00" y="417.80" font-size="7.2" text-anchor="middle" fill="#1c1a1b" font-weight="normal" font-style="normal" >cleavage</text>
<line x1="239.80" y1="422.40" x2="273.50" y2="422.40" stroke="#231f20" stroke-width="0.8" />
<path d="M272.80,423.88 L276.30,422.40 L272.80,420.92 Z" fill="#231f20" stroke="none"/>
<path d="M312.00,398.50 L312.02,399.50 L312.05,400.50 L312.07,401.50 L312.09,402.50 L312.11,403.50 L312.12,404.50 L312.14,405.50 L312.15,406.50 L312.16,407.50 L312.18,408.50 L312.19,409.50 L312.20,410.50 L312.21,411.50 L312.22,412.50 L312.23,413.50 L312.24,414.50 L312.24,415.50 L312.25,416.50 L312.26,417.50 L312.26,418.50 L312.27,419.50 L312.27,420.50 L312.27,421.50 L312.27,422.50 L312.27,423.50 L312.27,424.50 L312.27,425.50 L312.26,426.50 L312.26,427.50 L312.25,428.50 L312.24,429.50 L312.23,430.50 L312.22,431.50 L312.20,432.50 L312.18,433.50 L312.15,434.50 L312.13,435.50 L312.09,436.50 L312.04,437.49 L311.98,438.49 L311.88,439.49 L311.74,440.48 L311.51,441.44 L310.73,443.02 L309.77,441.87 L309.17,441.12 L308.24,441.71 L307.10,441.40 L306.41,440.57 L305.56,440.70 L304.79,441.40 L303.65,441.55 L302.53,440.91 L301.42,441.09 L300.36,441.15 L299.54,440.71 L298.65,439.96 L297.69,440.70 L296.63,440.98 L295.53,440.51 L294.65,439.83 L293.52,440.14 L292.67,440.09 L291.80,439.65 L290.75,439.53 L289.53,439.86 L288.50,439.46 L287.82,438.50 L286.85,438.09 L285.72,437.86 L285.00,437.07 L284.71,435.89 L283.71,435.43 L282.75,434.88 L282.32,433.81 L282.49,432.57 L281.38,432.19 L280.47,431.17 L280.86,429.74 L281.69,428.95 L281.61,427.79 L282.14,426.75 L282.97,426.32 L283.21,425.52 L282.53,424.63 L282.41,423.58 L283.04,422.47 L283.12,421.42 L282.97,420.29 L283.47,419.34 L284.52,418.67 L284.84,417.57 L285.26,416.61 L286.05,416.02 L287.35,415.83 L288.02,414.76 L288.90,414.19 L289.94,414.21 L290.97,414.18 L291.48,413.12 L292.38,412.47 L293.57,412.52 L294.58,412.38 L295.30,411.56 L295.93,411.20 L296.98,410.98 L297.64,410.15 L298.17,409.15 L298.92,408.69 L299.92,408.36 L299.77,407.38 L299.52,406.40 L299.82,405.46 L300.55,404.49 L299.88,403.47 L299.66,402.46 L300.04,401.49 L300.47,400.49 L299.85,399.46 L299.80,398.39 L300.55,397.35 L301.43,396.52 L302.08,395.47 L303.31,395.20 L304.35,395.57 L305.33,395.23 L306.41,394.68 L307.59,394.99 L308.38,395.92 L309.44,395.83 L310.58,395.81 L310.40,396.47 L311.34,395.83 L311.76,395.27 L311.89,396.26 Z" fill="#d3def2" stroke="#a9bde2" stroke-width="0.9" stroke-linejoin="round"/>
<path d="M312.00,398.50 L311.98,399.50 L311.95,400.50 L311.93,401.50 L311.91,402.50 L311.89,403.50 L311.88,404.50 L311.86,405.50 L311.85,406.50 L311.84,407.50 L311.82,408.50 L311.81,409.50 L311.80,410.50 L311.79,411.50 L311.78,412.50 L311.77,413.50 L311.76,414.50 L311.76,415.50 L311.75,416.50 L311.74,417.50 L311.74,418.50 L311.73,419.50 L311.73,420.50 L311.73,421.50 L311.73,422.50 L311.73,423.50 L311.73,424.50 L311.73,425.50 L311.74,426.50 L311.74,427.50 L311.75,428.50 L311.76,429.50 L311.77,430.50 L311.78,431.50 L311.80,432.50 L311.82,433.50 L311.85,434.50 L311.87,435.50 L311.91,436.50 L311.96,437.49 L312.02,438.49 L312.12,439.49 L312.26,440.48 L312.49,441.44 L313.27,443.02 L314.23,441.87 L314.83,441.12 L315.76,441.71 L316.90,441.40 L317.59,440.57 L318.44,440.70 L319.21,441.40 L320.35,441.55 L321.47,440.91 L322.58,441.09 L323.64,441.15 L324.46,440.71 L325.35,439.96 L326.31,440.70 L327.37,440.98 L328.47,440.51 L329.35,439.83 L330.48,440.14 L331.33,440.09 L332.20,439.65 L333.25,439.53 L334.47,439.86 L335.50,439.46 L336.18,438.50 L337.15,438.09 L338.28,437.86 L339.00,437.07 L339.29,435.89 L340.29,435.43 L341.25,434.88 L341.68,433.81 L341.51,432.57 L342.62,432.19 L343.53,431.17 L343.14,429.74 L342.31,428.95 L342.39,427.79 L341.86,426.75 L341.03,426.32 L340.79,425.52 L341.47,424.63 L341.59,423.58 L340.96,422.47 L340.88,421.42 L341.03,420.29 L340.53,419.34 L339.48,418.67 L339.16,417.57 L338.74,416.61 L337.95,416.02 L336.65,415.83 L335.98,414.76 L335.10,414.19 L334.06,414.21 L333.03,414.18 L332.52,413.12 L331.62,412.47 L330.43,412.52 L329.42,412.38 L328.70,411.56 L328.07,411.20 L327.02,410.98 L326.36,410.15 L325.83,409.15 L325.08,408.69 L324.08,408.36 L324.23,407.38 L324.48,406.40 L324.18,405.46 L323.45,404.49 L324.12,403.47 L324.34,402.46 L323.96,401.49 L323.53,400.49 L324.15,399.46 L324.20,398.39 L323.45,397.35 L322.57,396.52 L321.92,395.47 L320.69,395.20 L319.65,395.57 L318.67,395.23 L317.59,394.68 L316.41,394.99 L315.62,395.92 L314.56,395.83 L313.42,395.81 L313.60,396.47 L312.66,395.83 L312.24,395.27 L312.11,396.26 Z" fill="#d2e9cc" stroke="#a6d09c" stroke-width="0.9" stroke-linejoin="round"/>
<line x1="287.00" y1="410.60" x2="287.00" y2="415.60" stroke="#7a3f78" stroke-width="0.8" />
<path d="M276.80,405.60 L280.50,400.40 L293.50,400.40 L297.20,405.60 L293.50,410.80 L280.50,410.80 Z" fill="#dfbedd" stroke="#cfa3cd" stroke-width="0.7" />
<text x="287.00" y="408.10" font-size="7" text-anchor="middle" fill="#5b2b58" font-weight="normal" font-style="normal" >GST</text>
<text x="303.30" y="426.50" font-size="8" text-anchor="middle" fill="#2a3450" font-weight="normal" font-style="normal" >WT</text>
<rect x="313.80" y="418.6" width="15.4" height="6.4" fill="#b7dbb0"/>
<rect x="313.80" y="426.4" width="15.4" height="7.8" fill="#dcbc9a"/>
<text x="321.50" y="424.80" font-size="7.6" text-anchor="middle" fill="#1f4a22" font-weight="normal" font-style="normal" >mut1</text>
<text x="321.50" y="433.10" font-size="7.6" text-anchor="middle" fill="#5b3614" font-weight="normal" font-style="normal" >mut2</text>
<text x="365.00" y="410.20" font-size="7.2" text-anchor="middle" fill="#1c1a1b" font-weight="normal" font-style="normal" >GST</text>
<text x="365.00" y="417.60" font-size="7.2" text-anchor="middle" fill="#1c1a1b" font-weight="normal" font-style="normal" >purification</text>
<line x1="345.40" y1="422.20" x2="383.00" y2="422.20" stroke="#231f20" stroke-width="0.8" />
<path d="M382.30,423.68 L385.80,422.20 L382.30,420.72 Z" fill="#231f20" stroke="none"/>
<text x="408.80" y="410.20" font-size="7.2" text-anchor="middle" fill="#1c1a1b" font-weight="normal" font-style="normal" >HRV-3C</text>
<text x="408.80" y="417.60" font-size="7.2" text-anchor="middle" fill="#1c1a1b" font-weight="normal" font-style="normal" >cleavage</text>
<line x1="389.20" y1="422.20" x2="423.80" y2="422.20" stroke="#231f20" stroke-width="0.8" />
<path d="M423.10,423.68 L426.60,422.20 L423.10,420.72 Z" fill="#231f20" stroke="none"/>
<path d="M462.00,399.10 L462.02,400.10 L462.05,401.10 L462.07,402.10 L462.09,403.10 L462.11,404.10 L462.12,405.10 L462.14,406.10 L462.15,407.10 L462.16,408.10 L462.18,409.10 L462.19,410.10 L462.20,411.10 L462.21,412.10 L462.22,413.10 L462.23,414.10 L462.24,415.10 L462.24,416.10 L462.25,417.10 L462.26,418.10 L462.26,419.10 L462.27,420.10 L462.27,421.10 L462.27,422.10 L462.27,423.10 L462.27,424.10 L462.27,425.10 L462.27,426.10 L462.26,427.10 L462.26,428.10 L462.25,429.10 L462.24,430.10 L462.23,431.10 L462.22,432.10 L462.20,433.10 L462.18,434.10 L462.15,435.10 L462.13,436.10 L462.09,437.10 L462.04,438.09 L461.98,439.09 L461.88,440.09 L461.74,441.08 L461.51,442.04 L460.73,443.62 L459.77,442.47 L459.17,441.72 L458.24,442.31 L457.10,442.00 L456.41,441.17 L455.56,441.30 L454.79,442.00 L453.65,442.15 L452.53,441.51 L451.42,441.69 L450.36,441.75 L449.54,441.31 L448.65,440.56 L447.69,441.30 L446.63,441.58 L445.53,441.11 L444.65,440.43 L443.52,440.74 L442.67,440.69 L441.80,440.25 L440.75,440.13 L439.53,440.46 L438.50,440.06 L437.82,439.10 L436.85,438.69 L435.72,438.46 L435.00,437.67 L434.71,436.49 L433.71,436.03 L432.75,435.48 L432.32,434.41 L432.49,433.17 L431.38,432.79 L430.47,431.77 L430.86,430.34 L431.69,429.55 L431.61,428.39 L432.14,427.35 L432.97,426.92 L433.21,426.12 L432.53,425.23 L432.41,424.18 L433.04,423.07 L433.12,422.02 L432.97,420.89 L433.47,419.94 L434.52,419.27 L434.84,418.17 L435.26,417.21 L436.05,416.62 L437.35,416.43 L438.02,415.36 L438.90,414.79 L439.94,414.81 L440.97,414.78 L441.48,413.72 L442.38,413.07 L443.57,413.12 L444.58,412.98 L445.30,412.16 L445.93,411.80 L446.98,411.58 L447.64,410.75 L448.17,409.75 L448.92,409.29 L449.92,408.96 L449.77,407.98 L449.52,407.00 L449.82,406.06 L450.55,405.09 L449.88,404.07 L449.66,403.06 L450.04,402.09 L450.47,401.09 L449.85,400.06 L449.80,398.99 L450.55,397.95 L451.43,397.12 L452.08,396.07 L453.31,395.80 L454.35,396.17 L455.33,395.83 L456.41,395.28 L457.59,395.59 L458.38,396.52 L459.44,396.43 L460.58,396.41 L460.40,397.07 L461.34,396.43 L461.76,395.87 L461.89,396.86 Z" fill="#d3def2" stroke="#a9bde2" stroke-width="0.9" stroke-linejoin="round"/>
<path d="M462.00,399.10 L461.98,400.10 L461.95,401.10 L461.93,402.10 L461.91,403.10 L461.89,404.10 L461.88,405.10 L461.86,406.10 L461.85,407.10 L461.84,408.10 L461.82,409.10 L461.81,410.10 L461.80,411.10 L461.79,412.10 L461.78,413.10 L461.77,414.10 L461.76,415.10 L461.76,416.10 L461.75,417.10 L461.74,418.10 L461.74,419.10 L461.73,420.10 L461.73,421.10 L461.73,422.10 L461.73,423.10 L461.73,424.10 L461.73,425.10 L461.73,426.10 L461.74,427.10 L461.74,428.10 L461.75,429.10 L461.76,430.10 L461.77,431.10 L461.78,432.10 L461.80,433.10 L461.82,434.10 L461.85,435.10 L461.87,436.10 L461.91,437.10 L461.96,438.09 L462.02,439.09 L462.12,440.09 L462.26,441.08 L462.49,442.04 L463.27,443.62 L464.23,442.47 L464.83,441.72 L465.76,442.31 L466.90,442.00 L467.59,441.17 L468.44,441.30 L469.21,442.00 L470.35,442.15 L471.47,441.51 L472.58,441.69 L473.64,441.75 L474.46,441.31 L475.35,440.56 L476.31,441.30 L477.37,441.58 L478.47,441.11 L479.35,440.43 L480.48,440.74 L481.33,440.69 L482.20,440.25 L483.25,440.13 L484.47,440.46 L485.50,440.06 L486.18,439.10 L487.15,438.69 L488.28,438.46 L489.00,437.67 L489.29,436.49 L490.29,436.03 L491.25,435.48 L491.68,434.41 L491.51,433.17 L492.62,432.79 L493.53,431.77 L493.14,430.34 L492.31,429.55 L492.39,428.39 L491.86,427.35 L491.03,426.92 L490.79,426.12 L491.47,425.23 L491.59,424.18 L490.96,423.07 L490.88,422.02 L491.03,420.89 L490.53,419.94 L489.48,419.27 L489.16,418.17 L488.74,417.21 L487.95,416.62 L486.65,416.43 L485.98,415.36 L485.10,414.79 L484.06,414.81 L483.03,414.78 L482.52,413.72 L481.62,413.07 L480.43,413.12 L479.42,412.98 L478.70,412.16 L478.07,411.80 L477.02,411.58 L476.36,410.75 L475.83,409.75 L475.08,409.29 L474.08,408.96 L474.23,407.98 L474.48,407.00 L474.18,406.06 L473.45,405.09 L474.12,404.07 L474.34,403.06 L473.96,402.09 L473.53,401.09 L474.15,400.06 L474.20,398.99 L473.45,397.95 L472.57,397.12 L471.92,396.07 L470.69,395.80 L469.65,396.17 L468.67,395.83 L467.59,395.28 L466.41,395.59 L465.62,396.52 L464.56,396.43 L463.42,396.41 L463.60,397.07 L462.66,396.43 L462.24,395.87 L462.11,396.86 Z" fill="#d2e9cc" stroke="#a6d09c" stroke-width="0.9" stroke-linejoin="round"/>
<text x="453.60" y="426.50" font-size="8" text-anchor="middle" fill="#2a3450" font-weight="normal" font-style="normal" >WT</text>
<rect x="463.80" y="418.6" width="17.2" height="6.4" fill="#b7dbb0"/>
<rect x="463.80" y="426.4" width="17.2" height="7.8" fill="#dcbc9a"/>
<text x="472.40" y="424.80" font-size="7.6" text-anchor="middle" fill="#1f4a22" font-weight="normal" font-style="normal" >mut1</text>
<text x="472.40" y="433.10" font-size="7.6" text-anchor="middle" fill="#5b3614" font-weight="normal" font-style="normal" >mut2</text>
<text x="427.6" y="450.8" font-size="8" fill="#231f20">IDH<tspan font-size="5.4" dy="-3.6">WT</tspan><tspan dy="3.6"> + IDH</tspan><tspan font-size="5.4" dy="-3.6">mut1+mut2</tspan></text>
<text x="462" y="461.6" font-size="8" text-anchor="middle" fill="#231f20">heterodimer (<tspan font-style="italic">Cis</tspan>)</text>
<line x1="462.60" y1="463.50" x2="462.60" y2="469.40" stroke="#231f20" stroke-width="0.8" />
<line x1="409.60" y1="469.40" x2="507.20" y2="469.40" stroke="#231f20" stroke-width="0.8" />
<line x1="409.60" y1="469.40" x2="409.60" y2="483.50" stroke="#231f20" stroke-width="0.8" />
<path d="M408.20,482.88 L409.60,486.20 L411.00,482.88 Z" fill="#231f20" stroke="none"/>
<line x1="462.60" y1="469.40" x2="462.60" y2="483.50" stroke="#231f20" stroke-width="0.8" />
<path d="M461.20,482.88 L462.60,486.20 L464.00,482.88 Z" fill="#231f20" stroke="none"/>
<line x1="507.20" y1="469.40" x2="507.20" y2="483.50" stroke="#231f20" stroke-width="0.8" />
<path d="M505.80,482.88 L507.20,486.20 L508.60,482.88 Z" fill="#231f20" stroke="none"/>
<text x="409.60" y="495.60" font-size="7.2" text-anchor="middle" fill="#1c1a1b" font-weight="normal" font-style="normal" >NADPH</text>
<text x="409.6" y="505.4" font-size="7.2" text-anchor="middle" fill="#231f20">binding (<tspan font-style="italic">K</tspan><tspan font-size="4.8" dy="1.6">m</tspan><tspan dy="-1.6">)</tspan></text>
<text x="463.00" y="495.60" font-size="7.2" text-anchor="middle" fill="#1c1a1b" font-weight="normal" font-style="normal" >Inhibitor</text>
<text x="463" y="505.4" font-size="7.2" text-anchor="middle" fill="#231f20">binding (IC<tspan font-size="4.8" dy="1.6">50</tspan><tspan dy="-1.6">)</tspan></text>
<text x="507.00" y="495.60" font-size="7.2" text-anchor="middle" fill="#1c1a1b" font-weight="normal" font-style="normal" >Enzyme</text>
<text x="507.00" y="505.40" font-size="7.2" text-anchor="middle" fill="#1c1a1b" font-weight="normal" font-style="normal" >activity</text>
<text x="68.20" y="528.00" font-size="10" text-anchor="start" fill="#000" font-weight="bold" font-style="normal" >F</text>
<rect x="85.2" y="525.2" width="344.0" height="32.09999999999991" fill="#e5e5e7"/>
<rect x="85.2" y="557.3" width="344.0" height="24.40" fill="#edf5ea"/>
<rect x="85.2" y="581.7" width="344.0" height="26.00" fill="#fcede7"/>
<rect x="85.2" y="607.7" width="344.0" height="25.40" fill="#edecf5"/>
<rect x="85.2" y="633.1" width="344.0" height="25.30" fill="#fdf5ea"/>
<rect x="85.2" y="658.4" width="344.0" height="25.40" fill="#eeecf5"/>
<line x1="85.20" y1="581.70" x2="429.20" y2="581.70" stroke="#ffffff" stroke-width="1.1" />
<line x1="85.20" y1="607.70" x2="429.20" y2="607.70" stroke="#ffffff" stroke-width="1.1" />
<line x1="85.20" y1="633.10" x2="429.20" y2="633.10" stroke="#ffffff" stroke-width="1.1" />
<line x1="85.20" y1="658.40" x2="429.20" y2="658.40" stroke="#ffffff" stroke-width="1.1" />
<line x1="85.20" y1="525.20" x2="429.20" y2="525.20" stroke="#555" stroke-width="1.4" />
<line x1="85.20" y1="557.30" x2="429.20" y2="557.30" stroke="#555" stroke-width="1.0" />
<line x1="85.20" y1="683.80" x2="429.20" y2="683.80" stroke="#555" stroke-width="1.2" />
<line x1="136.30" y1="525.90" x2="136.30" y2="683.20" stroke="#555" stroke-width="0.8" stroke-dasharray="2.2,1.6"/>
<line x1="295.40" y1="525.90" x2="295.40" y2="683.20" stroke="#555" stroke-width="0.8" stroke-dasharray="2.2,1.6"/>
<line x1="217.60" y1="541.30" x2="217.60" y2="683.20" stroke="#888" stroke-width="0.7" stroke-dasharray="2.2,1.6"/>
<line x1="361.50" y1="541.30" x2="361.50" y2="683.20" stroke="#888" stroke-width="0.7" stroke-dasharray="2.2,1.6"/>
<line x1="136.30" y1="541.30" x2="429.20" y2="541.30" stroke="#888" stroke-width="0.7" stroke-dasharray="2.2,1.6"/>
<text x="108.70" y="545.80" font-size="8.6" text-anchor="middle" fill="#1c1a1b" font-weight="normal" font-style="normal" >IDH2</text>
<text x="219.1" y="537.7" font-size="8.8" text-anchor="middle" fill="#231f20">NADPH binding (<tspan font-style="italic">K</tspan><tspan font-size="5.2" dy="1.8">m</tspan><tspan dy="-1.8">, μmol/L)</tspan></text>
<text x="361.5" y="537.2" font-size="8.8" text-anchor="middle" fill="#231f20">AG-221 IC<tspan font-size="5.2" dy="1.8">50</tspan><tspan dy="-1.8"> (μmol/L)</tspan></text>
<text x="177.40" y="552.40" font-size="7.6" text-anchor="middle" fill="#1c1a1b" font-weight="normal" font-style="normal" >Best-fit value (SE)</text>
<text x="252.60" y="552.40" font-size="7.6" text-anchor="middle" fill="#1c1a1b" font-weight="normal" font-style="normal" >95% CI</text>
<text x="327.70" y="552.40" font-size="7.6" text-anchor="middle" fill="#1c1a1b" font-weight="normal" font-style="normal" >1 h</text>
<text x="394.50" y="552.40" font-size="7.6" text-anchor="middle" fill="#1c1a1b" font-weight="normal" font-style="normal" >16 h</text>
<text x="108.70" y="572.20" font-size="7.8" text-anchor="middle" fill="#1c1a1b" font-weight="normal" font-style="normal" >R140Q</text>
<text x="177.40" y="572.20" font-size="7.6" text-anchor="middle" fill="#1c1a1b" font-weight="normal" font-style="normal" >3.51 (0.19)</text>
<text x="252.60" y="572.20" font-size="7.6" text-anchor="middle" fill="#1c1a1b" font-weight="normal" font-style="normal" >3.13–3.93</text>
<text x="327.70" y="572.20" font-size="7.6" text-anchor="middle" fill="#1c1a1b" font-weight="normal" font-style="normal" >66.92 ± 1.08</text>
<text x="394.50" y="572.20" font-size="7.6" text-anchor="middle" fill="#1c1a1b" font-weight="normal" font-style="normal" >29.92 ± 1.10</text>
<text x="108.70" y="592.80" font-size="7.8" text-anchor="middle" fill="#1c1a1b" font-weight="normal" font-style="normal" >R140Q +</text>
<text x="108.70" y="601.90" font-size="7.8" text-anchor="middle" fill="#1c1a1b" font-weight="normal" font-style="normal" >Q316E</text>
<text x="177.40" y="597.40" font-size="7.6" text-anchor="middle" fill="#1c1a1b" font-weight="normal" font-style="normal" >3.51 (0.47)</text>
<text x="252.60" y="597.40" font-size="7.6" text-anchor="middle" fill="#1c1a1b" font-weight="normal" font-style="normal" >2.52–4.91</text>
<text x="327.70" y="597.40" font-size="7.6" text-anchor="middle" fill="#1c1a1b" font-weight="normal" font-style="normal" >108.6 ± 1.10</text>
<text x="394.50" y="597.40" font-size="7.6" text-anchor="middle" fill="#1c1a1b" font-weight="normal" font-style="normal" >40.60 ± 1.06</text>
<text x="108.70" y="618.50" font-size="7.8" text-anchor="middle" fill="#1c1a1b" font-weight="normal" font-style="normal" >R140Q +</text>
<text x="108.70" y="627.60" font-size="7.8" text-anchor="middle" fill="#1c1a1b" font-weight="normal" font-style="normal" >I319M</text>
<text x="177.40" y="623.10" font-size="7.6" text-anchor="middle" fill="#1c1a1b" font-weight="normal" font-style="normal" >3.74 (0.42)</text>
<text x="252.60" y="623.10" font-size="7.6" text-anchor="middle" fill="#1c1a1b" font-weight="normal" font-style="normal" >2.86–4.89</text>
<text x="327.70" y="623.10" font-size="7.6" text-anchor="middle" fill="#1c1a1b" font-weight="normal" font-style="normal" >105.2 ± 1.10</text>
<text x="394.50" y="623.10" font-size="7.6" text-anchor="middle" fill="#1c1a1b" font-weight="normal" font-style="normal" >39.61 ± 1.05</text>
<text x="108.70" y="643.85" font-size="7.8" text-anchor="middle" fill="#1c1a1b" font-weight="normal" font-style="normal" >R140Q +</text>
<text x="108.70" y="652.95" font-size="7.8" text-anchor="middle" fill="#1c1a1b" font-weight="normal" font-style="normal" >E343V</text>
<text x="177.40" y="648.45" font-size="7.6" text-anchor="middle" fill="#1c1a1b" font-weight="normal" font-style="normal" >5.66 (0.27)</text>
<text x="252.60" y="648.45" font-size="7.6" text-anchor="middle" fill="#1c1a1b" font-weight="normal" font-style="normal" >5.12–6.26</text>
<text x="327.70" y="648.45" font-size="7.6" text-anchor="middle" fill="#1c1a1b" font-weight="normal" font-style="normal" >127.4 ± 1.07</text>
<text x="394.50" y="648.45" font-size="7.6" text-anchor="middle" fill="#1c1a1b" font-weight="normal" font-style="normal" >50.83 ± 1.07</text>
<text x="108.70" y="669.20" font-size="7.8" text-anchor="middle" fill="#1c1a1b" font-weight="normal" font-style="normal" >R140Q +</text>
<text x="108.70" y="678.30" font-size="7.8" text-anchor="middle" fill="#1c1a1b" font-weight="normal" font-style="normal" >A347T</text>
<text x="177.40" y="673.80" font-size="7.6" text-anchor="middle" fill="#1c1a1b" font-weight="normal" font-style="normal" >4.64 (0.77)</text>
<text x="252.60" y="673.80" font-size="7.6" text-anchor="middle" fill="#1c1a1b" font-weight="normal" font-style="normal" >3.02–7.16</text>
<text x="327.70" y="673.80" font-size="7.6" text-anchor="middle" fill="#1c1a1b" font-weight="normal" font-style="normal" >118.5 ± 1.09</text>
<text x="394.50" y="673.80" font-size="7.6" text-anchor="middle" fill="#1c1a1b" font-weight="normal" font-style="normal" >47.53 ± 1.07</text>
<text x="2.00" y="708.80" font-size="10" text-anchor="start" fill="#000" font-weight="bold" font-style="normal" >G</text>
<line x1="35.60" y1="865.10" x2="35.60" y2="731.30" stroke="#231f20" stroke-width="0.8" />
<line x1="30.60" y1="865.10" x2="35.60" y2="865.10" stroke="#231f20" stroke-width="0.8" />
<text x="28.40" y="867.70" font-size="7.4" text-anchor="end" fill="#1c1a1b" font-weight="normal" font-style="normal" >0</text>
<line x1="30.60" y1="820.50" x2="35.60" y2="820.50" stroke="#231f20" stroke-width="0.8" />
<text x="28.40" y="823.10" font-size="7.4" text-anchor="end" fill="#1c1a1b" font-weight="normal" font-style="normal" >1</text>
<line x1="30.60" y1="775.90" x2="35.60" y2="775.90" stroke="#231f20" stroke-width="0.8" />
<text x="28.40" y="778.50" font-size="7.4" text-anchor="end" fill="#1c1a1b" font-weight="normal" font-style="normal" >2</text>
<line x1="30.60" y1="731.30" x2="35.60" y2="731.30" stroke="#231f20" stroke-width="0.8" />
<text x="28.40" y="733.90" font-size="7.4" text-anchor="end" fill="#1c1a1b" font-weight="normal" font-style="normal" >3</text>
<line x1="35.60" y1="865.10" x2="168.70" y2="865.10" stroke="#231f20" stroke-width="0.8" />
<line x1="35.60" y1="865.10" x2="35.60" y2="869.60" stroke="#231f20" stroke-width="0.8" />
<text x="35.60" y="876.70" font-size="7.4" text-anchor="middle" fill="#1c1a1b" font-weight="normal" font-style="normal" >0</text>
<line x1="59.80" y1="865.10" x2="59.80" y2="869.60" stroke="#231f20" stroke-width="0.8" />
<text x="59.80" y="876.70" font-size="7.4" text-anchor="middle" fill="#1c1a1b" font-weight="normal" font-style="normal" >10</text>
<line x1="84.00" y1="865.10" x2="84.00" y2="869.60" stroke="#231f20" stroke-width="0.8" />
<text x="84.00" y="876.70" font-size="7.4" text-anchor="middle" fill="#1c1a1b" font-weight="normal" font-style="normal" >20</text>
<line x1="108.20" y1="865.10" x2="108.20" y2="869.60" stroke="#231f20" stroke-width="0.8" />
<text x="108.20" y="876.70" font-size="7.4" text-anchor="middle" fill="#1c1a1b" font-weight="normal" font-style="normal" >30</text>
<line x1="132.40" y1="865.10" x2="132.40" y2="869.60" stroke="#231f20" stroke-width="0.8" />
<text x="132.40" y="876.70" font-size="7.4" text-anchor="middle" fill="#1c1a1b" font-weight="normal" font-style="normal" >40</text>
<line x1="156.60" y1="865.10" x2="156.60" y2="869.60" stroke="#231f20" stroke-width="0.8" />
<text x="156.60" y="876.70" font-size="7.4" text-anchor="middle" fill="#1c1a1b" font-weight="normal" font-style="normal" >50</text>
<text x="100.00" y="889.80" font-size="7.4" text-anchor="middle" fill="#1c1a1b" font-weight="normal" font-style="normal" >NADPH (μmol/L)</text>
<text transform="translate(14,800.5) rotate(-90)" font-size="7.6" text-anchor="middle" fill="#231f20">μmol/min/μg</text>
<path d="M35.60,865.10 L36.20,860.95 L36.81,857.20 L37.41,853.81 L38.02,850.71 L38.62,847.87 L39.23,845.27 L39.84,842.87 L40.44,840.65 L41.05,838.59 L41.65,836.68 L42.26,834.89 L42.86,833.23 L43.47,831.66 L44.07,830.20 L44.67,828.82 L45.28,827.52 L45.89,826.29 L46.49,825.14 L47.09,824.04 L47.70,823.00 L48.30,822.01 L48.91,821.07 L49.52,820.18 L50.12,819.33 L50.73,818.51 L51.33,817.74 L51.94,817.00 L52.54,816.29 L53.14,815.60 L53.75,814.95 L54.36,814.33 L54.96,813.73 L55.56,813.15 L56.17,812.59 L56.78,812.06 L57.38,811.54 L57.98,811.04 L58.59,810.56 L59.20,810.10 L59.80,809.65 L62.22,808.01 L64.64,806.56 L67.06,805.28 L69.48,804.13 L71.90,803.11 L74.32,802.18 L76.74,801.33 L79.16,800.56 L81.58,799.86 L84.00,799.21 L86.42,798.62 L88.84,798.07 L91.26,797.55 L93.68,797.08 L96.10,796.64 L98.52,796.22 L100.94,795.83 L103.36,795.47 L105.78,795.12 L108.20,794.80 L110.62,794.50 L113.04,794.21 L115.46,793.93 L117.88,793.68 L120.30,793.43 L122.72,793.20 L125.14,792.97 L127.56,792.76 L129.98,792.56 L132.40,792.37 L134.82,792.18 L137.24,792.00 L139.66,791.83 L142.08,791.67 L144.50,791.52 L146.92,791.37 L149.34,791.22 L151.76,791.08 L154.18,790.95 L156.60,790.82" fill="none" stroke="#8c4ea3" stroke-width="1.2" />
<path d="M35.60,865.10 L36.20,859.79 L36.81,855.15 L37.41,851.04 L38.02,847.40 L38.62,844.14 L39.23,841.20 L39.84,838.54 L40.44,836.12 L41.05,833.91 L41.65,831.89 L42.26,830.03 L42.86,828.31 L43.47,826.72 L44.07,825.24 L44.67,823.86 L45.28,822.58 L45.89,821.38 L46.49,820.25 L47.09,819.19 L47.70,818.19 L48.30,817.25 L48.91,816.37 L49.52,815.53 L50.12,814.73 L50.73,813.98 L51.33,813.26 L51.94,812.58 L52.54,811.93 L53.14,811.31 L53.75,810.72 L54.36,810.15 L54.96,809.61 L55.56,809.09 L56.17,808.60 L56.78,808.12 L57.38,807.67 L57.98,807.23 L58.59,806.80 L59.20,806.40 L59.80,806.01 L62.22,804.58 L64.64,803.33 L67.06,802.24 L69.48,801.27 L71.90,800.40 L74.32,799.63 L76.74,798.93 L79.16,798.29 L81.58,797.71 L84.00,797.19 L86.42,796.70 L88.84,796.25 L91.26,795.84 L93.68,795.45 L96.10,795.09 L98.52,794.76 L100.94,794.45 L103.36,794.16 L105.78,793.89 L108.20,793.63 L110.62,793.39 L113.04,793.16 L115.46,792.94 L117.88,792.74 L120.30,792.54 L122.72,792.36 L125.14,792.18 L127.56,792.02 L129.98,791.86 L132.40,791.71 L134.82,791.56 L137.24,791.42 L139.66,791.29 L142.08,791.16 L144.50,791.04 L146.92,790.93 L149.34,790.81 L151.76,790.71 L154.18,790.60 L156.60,790.50" fill="none" stroke="#e0434f" stroke-width="1.2" />
<path d="M35.60,865.10 L36.20,859.68 L36.81,854.90 L37.41,850.65 L38.02,846.85 L38.62,843.43 L39.23,840.33 L39.84,837.52 L40.44,834.95 L41.05,832.60 L41.65,830.43 L42.26,828.44 L42.86,826.59 L43.47,824.87 L44.07,823.27 L44.67,821.78 L45.28,820.38 L45.89,819.08 L46.49,817.85 L47.09,816.69 L47.70,815.60 L48.30,814.57 L48.91,813.60 L49.52,812.68 L50.12,811.80 L50.73,810.97 L51.33,810.18 L51.94,809.42 L52.54,808.71 L53.14,808.02 L53.75,807.37 L54.36,806.74 L54.96,806.14 L55.56,805.57 L56.17,805.01 L56.78,804.48 L57.38,803.98 L57.98,803.49 L58.59,803.02 L59.20,802.56 L59.80,802.13 L62.22,800.53 L64.64,799.14 L67.06,797.91 L69.48,796.82 L71.90,795.84 L74.32,794.97 L76.74,794.18 L79.16,793.46 L81.58,792.81 L84.00,792.21 L86.42,791.66 L88.84,791.15 L91.26,790.68 L93.68,790.24 L96.10,789.84 L98.52,789.46 L100.94,789.10 L103.36,788.77 L105.78,788.46 L108.20,788.17 L110.62,787.89 L113.04,787.63 L115.46,787.38 L117.88,787.15 L120.30,786.93 L122.72,786.72 L125.14,786.52 L127.56,786.33 L129.98,786.15 L132.40,785.97 L134.82,785.81 L137.24,785.65 L139.66,785.50 L142.08,785.35 L144.50,785.22 L146.92,785.08 L149.34,784.95 L151.76,784.83 L154.18,784.71 L156.60,784.60" fill="none" stroke="#4658a8" stroke-width="1.2" />
<path d="M35.60,865.10 L36.20,859.91 L36.81,855.14 L37.41,850.75 L38.02,846.68 L38.62,842.91 L39.23,839.41 L39.84,836.13 L40.44,833.08 L41.05,830.21 L41.65,827.52 L42.26,824.99 L42.86,822.61 L43.47,820.36 L44.07,818.24 L44.67,816.22 L45.28,814.31 L45.89,812.50 L46.49,810.78 L47.09,809.14 L47.70,807.57 L48.30,806.08 L48.91,804.65 L49.52,803.29 L50.12,801.99 L50.73,800.74 L51.33,799.54 L51.94,798.39 L52.54,797.28 L53.14,796.22 L53.75,795.20 L54.36,794.22 L54.96,793.27 L55.56,792.36 L56.17,791.48 L56.78,790.62 L57.38,789.80 L57.98,789.01 L58.59,788.24 L59.20,787.50 L59.80,786.78 L62.22,784.12 L64.64,781.76 L67.06,779.65 L69.48,777.76 L71.90,776.05 L74.32,774.50 L76.74,773.09 L79.16,771.79 L81.58,770.60 L84.00,769.50 L86.42,768.49 L88.84,767.55 L91.26,766.67 L93.68,765.86 L96.10,765.09 L98.52,764.38 L100.94,763.71 L103.36,763.07 L105.78,762.48 L108.20,761.92 L110.62,761.39 L113.04,760.88 L115.46,760.41 L117.88,759.95 L120.30,759.52 L122.72,759.11 L125.14,758.72 L127.56,758.35 L129.98,757.99 L132.40,757.65 L134.82,757.33 L137.24,757.02 L139.66,756.72 L142.08,756.43 L144.50,756.15 L146.92,755.89 L149.34,755.63 L151.76,755.39 L154.18,755.15 L156.60,754.92" fill="none" stroke="#f0902c" stroke-width="1.2" />
<path d="M35.60,865.10 L36.20,858.31 L36.81,852.37 L37.41,847.12 L38.02,842.45 L38.62,838.28 L39.23,834.52 L39.84,831.12 L40.44,828.03 L41.05,825.20 L41.65,822.61 L42.26,820.23 L42.86,818.03 L43.47,816.00 L44.07,814.11 L44.67,812.34 L45.28,810.70 L45.89,809.16 L46.49,807.72 L47.09,806.37 L47.70,805.09 L48.30,803.89 L48.91,802.75 L49.52,801.68 L50.12,800.66 L50.73,799.70 L51.33,798.78 L51.94,797.91 L52.54,797.08 L53.14,796.28 L53.75,795.53 L54.36,794.80 L54.96,794.11 L55.56,793.45 L56.17,792.82 L56.78,792.21 L57.38,791.62 L57.98,791.06 L58.59,790.52 L59.20,790.00 L59.80,789.50 L62.22,787.67 L64.64,786.08 L67.06,784.68 L69.48,783.44 L71.90,782.33 L74.32,781.34 L76.74,780.44 L79.16,779.63 L81.58,778.89 L84.00,778.21 L86.42,777.59 L88.84,777.02 L91.26,776.49 L93.68,776.00 L96.10,775.54 L98.52,775.11 L100.94,774.72 L103.36,774.34 L105.78,773.99 L108.20,773.66 L110.62,773.35 L113.04,773.06 L115.46,772.78 L117.88,772.52 L120.30,772.28 L122.72,772.04 L125.14,771.82 L127.56,771.60 L129.98,771.40 L132.40,771.21 L134.82,771.02 L137.24,770.84 L139.66,770.67 L142.08,770.51 L144.50,770.36 L146.92,770.21 L149.34,770.06 L151.76,769.93 L154.18,769.79 L156.60,769.67" fill="none" stroke="#3aa845" stroke-width="1.2" />
<circle cx="36.08" cy="860.91" r="2.2" fill="#fff" stroke="#f0902c" stroke-width="0.85" />
<circle cx="36.57" cy="857.00" r="2.2" fill="#fff" stroke="#f0902c" stroke-width="0.85" />
<circle cx="37.54" cy="849.91" r="2.2" fill="#fff" stroke="#f0902c" stroke-width="0.85" />
<circle cx="39.47" cy="838.07" r="2.2" fill="#fff" stroke="#f0902c" stroke-width="0.85" />
<circle cx="41.65" cy="827.52" r="2.2" fill="#fff" stroke="#f0902c" stroke-width="0.85" />
<circle cx="47.70" cy="807.57" r="2.2" fill="#fff" stroke="#f0902c" stroke-width="0.85" />
<circle cx="59.80" cy="786.78" r="2.2" fill="#fff" stroke="#f0902c" stroke-width="0.85" />
<circle cx="84.00" cy="772.18" r="2.2" fill="#fff" stroke="#f0902c" stroke-width="0.85" />
<circle cx="156.60" cy="754.03" r="2.2" fill="#fff" stroke="#f0902c" stroke-width="0.85" />
<circle cx="36.08" cy="861.75" r="2.2" fill="#fff" stroke="#8c4ea3" stroke-width="0.85" />
<circle cx="36.57" cy="858.66" r="2.2" fill="#fff" stroke="#8c4ea3" stroke-width="0.85" />
<circle cx="37.54" cy="853.16" r="2.2" fill="#fff" stroke="#8c4ea3" stroke-width="0.85" />
<circle cx="39.47" cy="844.29" r="2.2" fill="#fff" stroke="#8c4ea3" stroke-width="0.85" />
<circle cx="41.65" cy="838.91" r="2.2" fill="#fff" stroke="#8c4ea3" stroke-width="0.85" />
<circle cx="47.70" cy="827.46" r="2.2" fill="#fff" stroke="#8c4ea3" stroke-width="0.85" />
<circle cx="59.80" cy="818.57" r="2.2" fill="#fff" stroke="#8c4ea3" stroke-width="0.85" />
<circle cx="84.00" cy="805.90" r="2.2" fill="#fff" stroke="#8c4ea3" stroke-width="0.85" />
<circle cx="156.60" cy="781.90" r="2.2" fill="#fff" stroke="#8c4ea3" stroke-width="0.85" />
<circle cx="36.08" cy="860.80" r="2.2" fill="#fff" stroke="#e0434f" stroke-width="0.85" />
<circle cx="36.57" cy="856.93" r="2.2" fill="#fff" stroke="#e0434f" stroke-width="0.85" />
<circle cx="37.54" cy="850.28" r="2.2" fill="#fff" stroke="#e0434f" stroke-width="0.85" />
<circle cx="39.47" cy="840.10" r="2.2" fill="#fff" stroke="#e0434f" stroke-width="0.85" />
<circle cx="41.65" cy="834.12" r="2.2" fill="#fff" stroke="#e0434f" stroke-width="0.85" />
<circle cx="47.70" cy="822.65" r="2.2" fill="#fff" stroke="#e0434f" stroke-width="0.85" />
<circle cx="59.80" cy="815.82" r="2.2" fill="#fff" stroke="#e0434f" stroke-width="0.85" />
<circle cx="84.00" cy="808.34" r="2.2" fill="#fff" stroke="#e0434f" stroke-width="0.85" />
<circle cx="156.60" cy="782.92" r="2.2" fill="#fff" stroke="#e0434f" stroke-width="0.85" />
<circle cx="36.08" cy="860.71" r="2.2" fill="#fff" stroke="#4658a8" stroke-width="0.85" />
<circle cx="36.57" cy="856.74" r="2.2" fill="#fff" stroke="#4658a8" stroke-width="0.85" />
<circle cx="37.54" cy="849.85" r="2.2" fill="#fff" stroke="#4658a8" stroke-width="0.85" />
<circle cx="39.47" cy="839.18" r="2.2" fill="#fff" stroke="#4658a8" stroke-width="0.85" />
<circle cx="41.65" cy="830.43" r="2.2" fill="#fff" stroke="#4658a8" stroke-width="0.85" />
<circle cx="47.70" cy="815.60" r="2.2" fill="#fff" stroke="#4658a8" stroke-width="0.85" />
<circle cx="59.80" cy="804.36" r="2.2" fill="#fff" stroke="#4658a8" stroke-width="0.85" />
<circle cx="84.00" cy="794.44" r="2.2" fill="#fff" stroke="#4658a8" stroke-width="0.85" />
<circle cx="156.60" cy="775.68" r="2.2" fill="#fff" stroke="#4658a8" stroke-width="0.85" />
<circle cx="36.08" cy="859.59" r="2.2" fill="#fff" stroke="#3aa845" stroke-width="0.85" />
<circle cx="36.57" cy="854.65" r="2.2" fill="#fff" stroke="#3aa845" stroke-width="0.85" />
<circle cx="37.54" cy="846.14" r="2.2" fill="#fff" stroke="#3aa845" stroke-width="0.85" />
<circle cx="39.47" cy="832.23" r="2.2" fill="#fff" stroke="#3aa845" stroke-width="0.85" />
<circle cx="41.65" cy="820.38" r="2.2" fill="#fff" stroke="#3aa845" stroke-width="0.85" />
<circle cx="47.70" cy="802.42" r="2.2" fill="#fff" stroke="#3aa845" stroke-width="0.85" />
<circle cx="59.80" cy="792.18" r="2.2" fill="#fff" stroke="#3aa845" stroke-width="0.85" />
<circle cx="84.00" cy="778.21" r="2.2" fill="#fff" stroke="#3aa845" stroke-width="0.85" />
<circle cx="156.60" cy="768.33" r="2.2" fill="#fff" stroke="#3aa845" stroke-width="0.85" />
<line x1="156.50" y1="766.00" x2="156.50" y2="771.50" stroke="#3aa845" stroke-width="0.6" />
<line x1="155.00" y1="766.00" x2="158.00" y2="766.00" stroke="#3aa845" stroke-width="0.6" />
<line x1="155.00" y1="771.50" x2="158.00" y2="771.50" stroke="#3aa845" stroke-width="0.6" />
<line x1="83.80" y1="805.00" x2="83.80" y2="811.50" stroke="#e0434f" stroke-width="0.6" />
<line x1="82.30" y1="805.00" x2="85.30" y2="805.00" stroke="#e0434f" stroke-width="0.6" />
<line x1="82.30" y1="811.50" x2="85.30" y2="811.50" stroke="#e0434f" stroke-width="0.6" />
<line x1="83.80" y1="793.00" x2="83.80" y2="797.00" stroke="#4658a8" stroke-width="0.6" />
<line x1="82.30" y1="793.00" x2="85.30" y2="793.00" stroke="#4658a8" stroke-width="0.6" />
<line x1="82.30" y1="797.00" x2="85.30" y2="797.00" stroke="#4658a8" stroke-width="0.6" />
<line x1="156.50" y1="772.00" x2="156.50" y2="777.00" stroke="#4658a8" stroke-width="0.6" />
<line x1="155.00" y1="772.00" x2="158.00" y2="772.00" stroke="#4658a8" stroke-width="0.6" />
<line x1="155.00" y1="777.00" x2="158.00" y2="777.00" stroke="#4658a8" stroke-width="0.6" />
<line x1="156.50" y1="778.00" x2="156.50" y2="784.00" stroke="#e0434f" stroke-width="0.6" />
<line x1="155.00" y1="778.00" x2="158.00" y2="778.00" stroke="#e0434f" stroke-width="0.6" />
<line x1="155.00" y1="784.00" x2="158.00" y2="784.00" stroke="#e0434f" stroke-width="0.6" />
<line x1="98.30" y1="816.80" x2="108.70" y2="816.80" stroke="#3aa845" stroke-width="0.8" />
<circle cx="103.60" cy="816.80" r="1.8" fill="#fff" stroke="#3aa845" stroke-width="0.8" />
<text x="112.50" y="819.40" font-size="7.3" text-anchor="start" fill="#3aa845" font-weight="normal" font-style="normal" >R140Q</text>
<line x1="98.30" y1="826.65" x2="108.70" y2="826.65" stroke="#e0434f" stroke-width="0.8" />
<circle cx="103.60" cy="826.65" r="1.8" fill="#fff" stroke="#e0434f" stroke-width="0.8" />
<text x="112.50" y="829.25" font-size="7.3" text-anchor="start" fill="#e0434f" font-weight="normal" font-style="normal" >R140Q + Q316E</text>
<line x1="98.30" y1="836.50" x2="108.70" y2="836.50" stroke="#4658a8" stroke-width="0.8" />
<circle cx="103.60" cy="836.50" r="1.8" fill="#fff" stroke="#4658a8" stroke-width="0.8" />
<text x="112.50" y="839.10" font-size="7.3" text-anchor="start" fill="#4658a8" font-weight="normal" font-style="normal" >R140Q + I319M</text>
<line x1="98.30" y1="846.35" x2="108.70" y2="846.35" stroke="#f0902c" stroke-width="0.8" />
<circle cx="103.60" cy="846.35" r="1.8" fill="#fff" stroke="#f0902c" stroke-width="0.8" />
<text x="112.50" y="848.95" font-size="7.3" text-anchor="start" fill="#f0902c" font-weight="normal" font-style="normal" >R140Q + E343V</text>
<line x1="98.30" y1="856.20" x2="108.70" y2="856.20" stroke="#8c4ea3" stroke-width="0.8" />
<circle cx="103.60" cy="856.20" r="1.8" fill="#fff" stroke="#8c4ea3" stroke-width="0.8" />
<text x="112.50" y="858.80" font-size="7.3" text-anchor="start" fill="#8c4ea3" font-weight="normal" font-style="normal" >R140Q + A347T</text>
<text x="2.00" y="924.20" font-size="10" text-anchor="start" fill="#000" font-weight="bold" font-style="normal" >H</text>
<line x1="35.60" y1="1064.40" x2="35.60" y2="930.60" stroke="#231f20" stroke-width="0.8" />
<line x1="32.60" y1="1064.40" x2="35.60" y2="1064.40" stroke="#231f20" stroke-width="0.7" />
<text x="30.00" y="1066.90" font-size="7.0" text-anchor="end" fill="#1c1a1b" font-weight="normal" font-style="normal" >0</text>
<line x1="32.60" y1="1042.10" x2="35.60" y2="1042.10" stroke="#231f20" stroke-width="0.7" />
<text x="30.00" y="1044.60" font-size="7.0" text-anchor="end" fill="#1c1a1b" font-weight="normal" font-style="normal" >20</text>
<line x1="32.60" y1="1019.80" x2="35.60" y2="1019.80" stroke="#231f20" stroke-width="0.7" />
<text x="30.00" y="1022.30" font-size="7.0" text-anchor="end" fill="#1c1a1b" font-weight="normal" font-style="normal" >40</text>
<line x1="32.60" y1="997.50" x2="35.60" y2="997.50" stroke="#231f20" stroke-width="0.7" />
<text x="30.00" y="1000.00" font-size="7.0" text-anchor="end" fill="#1c1a1b" font-weight="normal" font-style="normal" >60</text>
<line x1="32.60" y1="975.20" x2="35.60" y2="975.20" stroke="#231f20" stroke-width="0.7" />
<text x="30.00" y="977.70" font-size="7.0" text-anchor="end" fill="#1c1a1b" font-weight="normal" font-style="normal" >80</text>
<line x1="32.60" y1="952.90" x2="35.60" y2="952.90" stroke="#231f20" stroke-width="0.7" />
<text x="30.00" y="955.40" font-size="7.0" text-anchor="end" fill="#1c1a1b" font-weight="normal" font-style="normal" >100</text>
<line x1="32.60" y1="930.60" x2="35.60" y2="930.60" stroke="#231f20" stroke-width="0.7" />
<text x="30.00" y="933.10" font-size="7.0" text-anchor="end" fill="#1c1a1b" font-weight="normal" font-style="normal" >120</text>
<line x1="35.60" y1="1064.40" x2="174.96" y2="1064.40" stroke="#231f20" stroke-width="0.8" />
<line x1="35.60" y1="1064.40" x2="35.60" y2="1067.40" stroke="#231f20" stroke-width="0.7" />
<text x="35.60" y="1075.60" font-size="7.2" text-anchor="middle" fill="#1c1a1b" font-weight="normal" font-style="normal" >0</text>
<line x1="62.40" y1="1064.40" x2="62.40" y2="1067.40" stroke="#231f20" stroke-width="0.7" />
<text x="62.40" y="1075.60" font-size="7.2" text-anchor="middle" fill="#1c1a1b" font-weight="normal" font-style="normal" >1</text>
<line x1="89.20" y1="1064.40" x2="89.20" y2="1067.40" stroke="#231f20" stroke-width="0.7" />
<text x="89.20" y="1075.60" font-size="7.2" text-anchor="middle" fill="#1c1a1b" font-weight="normal" font-style="normal" >2</text>
<line x1="116.00" y1="1064.40" x2="116.00" y2="1067.40" stroke="#231f20" stroke-width="0.7" />
<text x="116.00" y="1075.60" font-size="7.2" text-anchor="middle" fill="#1c1a1b" font-weight="normal" font-style="normal" >3</text>
<line x1="142.80" y1="1064.40" x2="142.80" y2="1067.40" stroke="#231f20" stroke-width="0.7" />
<text x="142.80" y="1075.60" font-size="7.2" text-anchor="middle" fill="#1c1a1b" font-weight="normal" font-style="normal" >4</text>
<line x1="169.60" y1="1064.40" x2="169.60" y2="1067.40" stroke="#231f20" stroke-width="0.7" />
<text x="169.60" y="1075.60" font-size="7.2" text-anchor="middle" fill="#1c1a1b" font-weight="normal" font-style="normal" >5</text>
<text x="90" y="1086.6" font-size="7.4" text-anchor="middle" fill="#231f20">AG-221 concentration (log<tspan font-size="5" dy="1.6">10</tspan><tspan dy="-1.6">)</tspan></text>
<text transform="translate(14.2,998.6) rotate(-90)" font-size="7.6" text-anchor="middle" fill="#231f20">Inhibition rate (%)</text>
<path d="M35.60,1059.38 L36.94,1059.30 L38.28,1059.22 L39.62,1059.12 L40.96,1059.01 L42.30,1058.89 L43.64,1058.74 L44.98,1058.58 L46.32,1058.40 L47.66,1058.20 L49.00,1057.97 L50.34,1057.71 L51.68,1057.42 L53.02,1057.08 L54.36,1056.71 L55.70,1056.29 L57.04,1055.81 L58.38,1055.28 L59.72,1054.68 L61.06,1054.01 L62.40,1053.26 L63.74,1052.42 L65.08,1051.49 L66.42,1050.45 L67.76,1049.30 L69.10,1048.02 L70.44,1046.61 L71.78,1045.06 L73.12,1043.36 L74.46,1041.51 L75.80,1039.50 L77.14,1037.32 L78.48,1034.98 L79.82,1032.48 L81.16,1029.81 L82.50,1027.00 L83.84,1024.04 L85.18,1020.96 L86.52,1017.77 L87.86,1014.49 L89.20,1011.15 L90.54,1007.78 L91.88,1004.39 L93.22,1001.02 L94.56,997.69 L95.90,994.43 L97.24,991.26 L98.58,988.20 L99.92,985.27 L101.26,982.48 L102.60,979.85 L103.94,977.38 L105.28,975.07 L106.62,972.93 L107.96,970.95 L109.30,969.12 L110.64,967.46 L111.98,965.94 L113.32,964.55 L114.66,963.30 L116.00,962.17 L117.34,961.15 L118.68,960.24 L120.02,959.42 L121.36,958.69 L122.70,958.03 L124.04,957.45 L125.38,956.93 L126.72,956.46 L128.06,956.05 L129.40,955.69 L130.74,955.36 L132.08,955.08 L133.42,954.82 L134.76,954.60 L136.10,954.40 L137.44,954.22 L138.78,954.07 L140.12,953.93 L141.46,953.81 L142.80,953.70 L144.14,953.61 L145.48,953.52 L146.82,953.45 L148.16,953.38 L149.50,953.33 L150.84,953.28 L152.18,953.23 L153.52,953.19 L154.86,953.16 L156.20,953.13 L157.54,953.10 L158.88,953.08 L160.22,953.06 L161.56,953.04" fill="none" stroke="#dba6d6" stroke-width="1.2" />
<path d="M35.60,1059.42 L36.94,1059.35 L38.28,1059.28 L39.62,1059.19 L40.96,1059.09 L42.30,1058.97 L43.64,1058.84 L44.98,1058.70 L46.32,1058.53 L47.66,1058.34 L49.00,1058.13 L50.34,1057.89 L51.68,1057.62 L53.02,1057.32 L54.36,1056.97 L55.70,1056.58 L57.04,1056.15 L58.38,1055.65 L59.72,1055.10 L61.06,1054.48 L62.40,1053.79 L63.74,1053.01 L65.08,1052.15 L66.42,1051.18 L67.76,1050.11 L69.10,1048.92 L70.44,1047.60 L71.78,1046.15 L73.12,1044.56 L74.46,1042.82 L75.80,1040.93 L77.14,1038.87 L78.48,1036.65 L79.82,1034.27 L81.16,1031.73 L82.50,1029.03 L83.84,1026.18 L85.18,1023.21 L86.52,1020.11 L87.86,1016.92 L89.20,1013.65 L90.54,1010.33 L91.88,1006.98 L93.22,1003.63 L94.56,1000.31 L95.90,997.04 L97.24,993.84 L98.58,990.75 L99.92,987.77 L101.26,984.93 L102.60,982.23 L103.94,979.69 L105.28,977.30 L106.62,975.09 L107.96,973.03 L109.30,971.13 L110.64,969.39 L111.98,967.80 L113.32,966.35 L114.66,965.04 L116.00,963.85 L117.34,962.78 L118.68,961.81 L120.02,960.94 L121.36,960.17 L122.70,959.47 L124.04,958.85 L125.38,958.30 L126.72,957.81 L128.06,957.37 L129.40,956.98 L130.74,956.64 L132.08,956.33 L133.42,956.06 L134.76,955.82 L136.10,955.61 L137.44,955.42 L138.78,955.26 L140.12,955.11 L141.46,954.98 L142.80,954.87 L144.14,954.77 L145.48,954.68 L146.82,954.60 L148.16,954.53 L149.50,954.47 L150.84,954.42 L152.18,954.37 L153.52,954.33 L154.86,954.29 L156.20,954.26 L157.54,954.23 L158.88,954.20 L160.22,954.18 L161.56,954.16" fill="none" stroke="#f7b774" stroke-width="1.2" />
<path d="M35.60,1059.30 L36.94,1059.22 L38.28,1059.12 L39.62,1059.01 L40.96,1058.89 L42.30,1058.74 L43.64,1058.58 L44.98,1058.40 L46.32,1058.20 L47.66,1057.97 L49.00,1057.71 L50.34,1057.42 L51.68,1057.08 L53.02,1056.71 L54.36,1056.29 L55.70,1055.81 L57.04,1055.28 L58.38,1054.68 L59.72,1054.01 L61.06,1053.26 L62.40,1052.42 L63.74,1051.49 L65.08,1050.45 L66.42,1049.30 L67.76,1048.02 L69.10,1046.61 L70.44,1045.06 L71.78,1043.36 L73.12,1041.51 L74.46,1039.50 L75.80,1037.32 L77.14,1034.98 L78.48,1032.48 L79.82,1029.81 L81.16,1027.00 L82.50,1024.04 L83.84,1020.96 L85.18,1017.77 L86.52,1014.49 L87.86,1011.15 L89.20,1007.78 L90.54,1004.39 L91.88,1001.02 L93.22,997.69 L94.56,994.43 L95.90,991.26 L97.24,988.20 L98.58,985.27 L99.92,982.48 L101.26,979.85 L102.60,977.38 L103.94,975.07 L105.28,972.93 L106.62,970.95 L107.96,969.12 L109.30,967.46 L110.64,965.94 L111.98,964.55 L113.32,963.30 L114.66,962.17 L116.00,961.15 L117.34,960.24 L118.68,959.42 L120.02,958.69 L121.36,958.03 L122.70,957.45 L124.04,956.93 L125.38,956.46 L126.72,956.05 L128.06,955.69 L129.40,955.36 L130.74,955.08 L132.08,954.82 L133.42,954.60 L134.76,954.40 L136.10,954.22 L137.44,954.07 L138.78,953.93 L140.12,953.81 L141.46,953.70 L142.80,953.61 L144.14,953.52 L145.48,953.45 L146.82,953.38 L148.16,953.33 L149.50,953.28 L150.84,953.23 L152.18,953.19 L153.52,953.16 L154.86,953.13 L156.20,953.10 L157.54,953.08 L158.88,953.06 L160.22,953.04 L161.56,953.02" fill="none" stroke="#a9b3e2" stroke-width="1.2" />
<path d="M35.60,1059.33 L36.94,1059.24 L38.28,1059.15 L39.62,1059.05 L40.96,1058.93 L42.30,1058.79 L43.64,1058.64 L44.98,1058.46 L46.32,1058.27 L47.66,1058.05 L49.00,1057.80 L50.34,1057.51 L51.68,1057.19 L53.02,1056.83 L54.36,1056.43 L55.70,1055.97 L57.04,1055.46 L58.38,1054.88 L59.72,1054.23 L61.06,1053.51 L62.40,1052.70 L63.74,1051.79 L65.08,1050.79 L66.42,1049.67 L67.76,1048.43 L69.10,1047.06 L70.44,1045.55 L71.78,1043.90 L73.12,1042.09 L74.46,1040.12 L75.80,1037.99 L77.14,1035.69 L78.48,1033.22 L79.82,1030.59 L81.16,1027.81 L82.50,1024.88 L83.84,1021.81 L85.18,1018.63 L86.52,1015.35 L87.86,1012.00 L89.20,1008.60 L90.54,1005.18 L91.88,1001.76 L93.22,998.38 L94.56,995.05 L95.90,991.81 L97.24,988.67 L98.58,985.66 L99.92,982.79 L101.26,980.06 L102.60,977.50 L103.94,975.10 L105.28,972.87 L106.62,970.80 L107.96,968.90 L109.30,967.15 L110.64,965.55 L111.98,964.10 L113.32,962.79 L114.66,961.60 L116.00,960.52 L117.34,959.56 L118.68,958.69 L120.02,957.92 L121.36,957.23 L122.70,956.61 L124.04,956.06 L125.38,955.57 L126.72,955.13 L128.06,954.74 L129.40,954.40 L130.74,954.10 L132.08,953.83 L133.42,953.59 L134.76,953.38 L136.10,953.19 L137.44,953.02 L138.78,952.88 L140.12,952.75 L141.46,952.64 L142.80,952.53 L144.14,952.45 L145.48,952.37 L146.82,952.30 L148.16,952.24 L149.50,952.18 L150.84,952.14 L152.18,952.10 L153.52,952.06 L154.86,952.03 L156.20,952.00 L157.54,951.97 L158.88,951.95 L160.22,951.93 L161.56,951.91" fill="none" stroke="#f19a98" stroke-width="1.2" />
<path d="M35.60,1058.92 L36.94,1058.79 L38.28,1058.63 L39.62,1058.46 L40.96,1058.26 L42.30,1058.04 L43.64,1057.79 L44.98,1057.50 L46.32,1057.18 L47.66,1056.82 L49.00,1056.41 L50.34,1055.96 L51.68,1055.44 L53.02,1054.86 L54.36,1054.21 L55.70,1053.49 L57.04,1052.68 L58.38,1051.77 L59.72,1050.76 L61.06,1049.65 L62.40,1048.41 L63.74,1047.04 L65.08,1045.53 L66.42,1043.88 L67.76,1042.08 L69.10,1040.12 L70.44,1038.00 L71.78,1035.72 L73.12,1033.27 L74.46,1030.66 L75.80,1027.91 L77.14,1025.01 L78.48,1021.98 L79.82,1018.85 L81.16,1015.62 L82.50,1012.33 L83.84,1008.99 L85.18,1005.64 L86.52,1002.29 L87.86,998.99 L89.20,995.75 L90.54,992.59 L91.88,989.54 L93.22,986.62 L94.56,983.83 L95.90,981.19 L97.24,978.71 L98.58,976.40 L99.92,974.24 L101.26,972.25 L102.60,970.42 L103.94,968.74 L105.28,967.20 L106.62,965.81 L107.96,964.55 L109.30,963.41 L110.64,962.38 L111.98,961.45 L113.32,960.62 L114.66,959.88 L116.00,959.22 L117.34,958.62 L118.68,958.10 L120.02,957.63 L121.36,957.21 L122.70,956.84 L124.04,956.51 L125.38,956.22 L126.72,955.96 L128.06,955.74 L129.40,955.53 L130.74,955.36 L132.08,955.20 L133.42,955.06 L134.76,954.94 L136.10,954.83 L137.44,954.73 L138.78,954.65 L140.12,954.57 L141.46,954.51 L142.80,954.45 L144.14,954.40 L145.48,954.35 L146.82,954.31 L148.16,954.28 L149.50,954.25 L150.84,954.22 L152.18,954.19 L153.52,954.17 L154.86,954.15 L156.20,954.14 L157.54,954.12 L158.88,954.11 L160.22,954.10 L161.56,954.09" fill="none" stroke="#6cc56e" stroke-width="1.2" />
<path d="M35.60,1058.41 L36.94,1058.21 L38.28,1057.98 L39.62,1057.72 L40.96,1057.43 L42.30,1057.10 L43.64,1056.72 L44.98,1056.30 L46.32,1055.83 L47.66,1055.30 L49.00,1054.70 L50.34,1054.03 L51.68,1053.28 L53.02,1052.45 L54.36,1051.51 L55.70,1050.47 L57.04,1049.32 L58.38,1048.04 L59.72,1046.63 L61.06,1045.08 L62.40,1043.38 L63.74,1041.52 L65.08,1039.50 L66.42,1037.31 L67.76,1034.95 L69.10,1032.43 L70.44,1029.74 L71.78,1026.90 L73.12,1023.91 L74.46,1020.78 L75.80,1017.55 L77.14,1014.22 L78.48,1010.82 L79.82,1007.38 L81.16,1003.92 L82.50,1000.47 L83.84,997.07 L85.18,993.72 L86.52,990.47 L87.86,987.32 L89.20,984.30 L90.54,981.43 L91.88,978.71 L93.22,976.15 L94.56,973.76 L95.90,971.54 L97.24,969.48 L98.58,967.59 L99.92,965.86 L101.26,964.28 L102.60,962.84 L103.94,961.53 L105.28,960.36 L106.62,959.30 L107.96,958.34 L109.30,957.49 L110.64,956.72 L111.98,956.04 L113.32,955.43 L114.66,954.88 L116.00,954.40 L117.34,953.97 L118.68,953.59 L120.02,953.25 L121.36,952.95 L122.70,952.68 L124.04,952.45 L125.38,952.24 L126.72,952.05 L128.06,951.89 L129.40,951.75 L130.74,951.62 L132.08,951.51 L133.42,951.41 L134.76,951.32 L136.10,951.24 L137.44,951.18 L138.78,951.12 L140.12,951.06 L141.46,951.02 L142.80,950.98 L144.14,950.94 L145.48,950.91 L146.82,950.88 L148.16,950.85 L149.50,950.83 L150.84,950.81 L152.18,950.80 L153.52,950.78 L154.86,950.77 L156.20,950.76 L157.54,950.75 L158.88,950.74 L160.22,950.73 L161.56,950.72" fill="none" stroke="#7a3a9c" stroke-width="1.2" />
<path d="M35.60,1059.62 L36.94,1059.42 L38.28,1059.21 L39.62,1058.96 L40.96,1058.69 L42.30,1058.37 L43.64,1058.02 L44.98,1057.63 L46.32,1057.18 L47.66,1056.68 L49.00,1056.11 L50.34,1055.48 L51.68,1054.77 L53.02,1053.98 L54.36,1053.10 L55.70,1052.11 L57.04,1051.01 L58.38,1049.80 L59.72,1048.46 L61.06,1046.98 L62.40,1045.35 L63.74,1043.58 L65.08,1041.64 L66.42,1039.54 L67.76,1037.27 L69.10,1034.84 L70.44,1032.25 L71.78,1029.49 L73.12,1026.59 L74.46,1023.55 L75.80,1020.39 L77.14,1017.13 L78.48,1013.79 L79.82,1010.40 L81.16,1006.98 L82.50,1003.56 L83.84,1000.17 L85.18,996.83 L86.52,993.57 L87.86,990.41 L89.20,987.37 L90.54,984.46 L91.88,981.71 L93.22,979.11 L94.56,976.68 L95.90,974.41 L97.24,972.31 L98.58,970.38 L99.92,968.60 L101.26,966.98 L102.60,965.50 L103.94,964.15 L105.28,962.94 L106.62,961.84 L107.96,960.86 L109.30,959.97 L110.64,959.18 L111.98,958.47 L113.32,957.84 L114.66,957.28 L116.00,956.77 L117.34,956.33 L118.68,955.93 L120.02,955.58 L121.36,955.27 L122.70,954.99 L124.04,954.75 L125.38,954.53 L126.72,954.34 L128.06,954.17 L129.40,954.02 L130.74,953.89 L132.08,953.77 L133.42,953.67 L134.76,953.58 L136.10,953.50 L137.44,953.43 L138.78,953.36 L140.12,953.31 L141.46,953.26 L142.80,953.22 L144.14,953.18 L145.48,953.15 L146.82,953.12 L148.16,953.09 L149.50,953.07 L150.84,953.05 L152.18,953.03 L153.52,953.02 L154.86,953.00 L156.20,952.99 L157.54,952.98 L158.88,952.97 L160.22,952.96 L161.56,952.95" fill="none" stroke="#d0772a" stroke-width="1.2" />
<path d="M35.60,1057.00 L36.94,1056.75 L38.28,1056.48 L39.62,1056.17 L40.96,1055.82 L42.30,1055.43 L43.64,1054.99 L44.98,1054.49 L46.32,1053.94 L47.66,1053.31 L49.00,1052.61 L50.34,1051.82 L51.68,1050.95 L53.02,1049.97 L54.36,1048.89 L55.70,1047.69 L57.04,1046.36 L58.38,1044.89 L59.72,1043.29 L61.06,1041.53 L62.40,1039.61 L63.74,1037.53 L65.08,1035.29 L66.42,1032.88 L67.76,1030.31 L69.10,1027.59 L70.44,1024.71 L71.78,1021.71 L73.12,1018.58 L74.46,1015.35 L75.80,1012.05 L77.14,1008.69 L78.48,1005.31 L79.82,1001.92 L81.16,998.56 L82.50,995.26 L83.84,992.03 L85.18,988.90 L86.52,985.90 L87.86,983.02 L89.20,980.30 L90.54,977.73 L91.88,975.32 L93.22,973.08 L94.56,971.00 L95.90,969.08 L97.24,967.32 L98.58,965.72 L99.92,964.25 L101.26,962.92 L102.60,961.72 L103.94,960.64 L105.28,959.66 L106.62,958.79 L107.96,958.00 L109.30,957.30 L110.64,956.67 L111.98,956.12 L113.32,955.62 L114.66,955.18 L116.00,954.79 L117.34,954.44 L118.68,954.13 L120.02,953.86 L121.36,953.61 L122.70,953.40 L124.04,953.21 L125.38,953.04 L126.72,952.89 L128.06,952.76 L129.40,952.65 L130.74,952.55 L132.08,952.46 L133.42,952.38 L134.76,952.31 L136.10,952.24 L137.44,952.19 L138.78,952.14 L140.12,952.10 L141.46,952.06 L142.80,952.03 L144.14,952.00 L145.48,951.98 L146.82,951.95 L148.16,951.93 L149.50,951.92 L150.84,951.90 L152.18,951.89 L153.52,951.87 L154.86,951.86 L156.20,951.85 L157.54,951.85 L158.88,951.84 L160.22,951.83 L161.56,951.83" fill="none" stroke="#24479c" stroke-width="1.2" />
<path d="M35.60,1057.00 L36.94,1056.76 L38.28,1056.49 L39.62,1056.18 L40.96,1055.84 L42.30,1055.45 L43.64,1055.01 L44.98,1054.51 L46.32,1053.95 L47.66,1053.33 L49.00,1052.63 L50.34,1051.85 L51.68,1050.97 L53.02,1050.00 L54.36,1048.91 L55.70,1047.71 L57.04,1046.38 L58.38,1044.91 L59.72,1043.30 L61.06,1041.54 L62.40,1039.61 L63.74,1037.53 L65.08,1035.27 L66.42,1032.85 L67.76,1030.26 L69.10,1027.51 L70.44,1024.60 L71.78,1021.56 L73.12,1018.39 L74.46,1015.11 L75.80,1011.75 L77.14,1008.33 L78.48,1004.88 L79.82,1001.42 L81.16,997.99 L82.50,994.60 L83.84,991.29 L85.18,988.08 L86.52,984.98 L87.86,982.02 L89.20,979.20 L90.54,976.55 L91.88,974.06 L93.22,971.74 L94.56,969.58 L95.90,967.59 L97.24,965.76 L98.58,964.09 L99.92,962.57 L101.26,961.19 L102.60,959.93 L103.94,958.80 L105.28,957.79 L106.62,956.87 L107.96,956.05 L109.30,955.32 L110.64,954.67 L111.98,954.09 L113.32,953.57 L114.66,953.10 L116.00,952.69 L117.34,952.33 L118.68,952.01 L120.02,951.72 L121.36,951.47 L122.70,951.24 L124.04,951.05 L125.38,950.87 L126.72,950.72 L128.06,950.58 L129.40,950.46 L130.74,950.35 L132.08,950.26 L133.42,950.17 L134.76,950.10 L136.10,950.04 L137.44,949.98 L138.78,949.93 L140.12,949.88 L141.46,949.85 L142.80,949.81 L144.14,949.78 L145.48,949.75 L146.82,949.73 L148.16,949.71 L149.50,949.69 L150.84,949.67 L152.18,949.66 L153.52,949.65 L154.86,949.64 L156.20,949.63 L157.54,949.62 L158.88,949.61 L160.22,949.60 L161.56,949.60" fill="none" stroke="#8e1b2c" stroke-width="1.2" />
<path d="M35.60,1050.99 L36.94,1050.70 L38.28,1050.36 L39.62,1049.98 L40.96,1049.56 L42.30,1049.08 L43.64,1048.55 L44.98,1047.95 L46.32,1047.27 L47.66,1046.52 L49.00,1045.68 L50.34,1044.75 L51.68,1043.71 L53.02,1042.57 L54.36,1041.30 L55.70,1039.91 L57.04,1038.38 L58.38,1036.71 L59.72,1034.89 L61.06,1032.93 L62.40,1030.81 L63.74,1028.55 L65.08,1026.13 L66.42,1023.58 L67.76,1020.89 L69.10,1018.09 L70.44,1015.18 L71.78,1012.19 L73.12,1009.14 L74.46,1006.05 L75.80,1002.95 L77.14,999.85 L78.48,996.79 L79.82,993.79 L81.16,990.86 L82.50,988.04 L83.84,985.33 L85.18,982.75 L86.52,980.31 L87.86,978.01 L89.20,975.86 L90.54,973.87 L91.88,972.02 L93.22,970.32 L94.56,968.77 L95.90,967.35 L97.24,966.06 L98.58,964.89 L99.92,963.83 L101.26,962.88 L102.60,962.02 L103.94,961.25 L105.28,960.56 L106.62,959.95 L107.96,959.40 L109.30,958.91 L110.64,958.48 L111.98,958.09 L113.32,957.75 L114.66,957.44 L116.00,957.17 L117.34,956.94 L118.68,956.72 L120.02,956.54 L121.36,956.37 L122.70,956.23 L124.04,956.10 L125.38,955.98 L126.72,955.88 L128.06,955.79 L129.40,955.72 L130.74,955.65 L132.08,955.58 L133.42,955.53 L134.76,955.48 L136.10,955.44 L137.44,955.40 L138.78,955.37 L140.12,955.34 L141.46,955.32 L142.80,955.30 L144.14,955.28 L145.48,955.26 L146.82,955.24 L148.16,955.23 L149.50,955.22 L150.84,955.21 L152.18,955.20 L153.52,955.19 L154.86,955.18 L156.20,955.18 L157.54,955.17 L158.88,955.17 L160.22,955.16 L161.56,955.16" fill="none" stroke="#17843f" stroke-width="1.2" />
<circle cx="54.36" cy="1057.13" r="1.6" fill="#fff" stroke="#dba6d6" stroke-width="0.8" />
<circle cx="62.40" cy="1052.73" r="1.6" fill="#fff" stroke="#dba6d6" stroke-width="0.8" />
<circle cx="70.44" cy="1042.83" r="1.6" fill="#fff" stroke="#dba6d6" stroke-width="0.8" />
<circle cx="75.80" cy="1039.80" r="1.6" fill="#fff" stroke="#dba6d6" stroke-width="0.8" />
<circle cx="81.16" cy="1029.74" r="1.6" fill="#fff" stroke="#dba6d6" stroke-width="0.8" />
<circle cx="86.52" cy="1016.99" r="1.6" fill="#fff" stroke="#dba6d6" stroke-width="0.8" />
<circle cx="89.20" cy="1013.96" r="1.6" fill="#fff" stroke="#dba6d6" stroke-width="0.8" />
<circle cx="97.24" cy="991.15" r="1.6" fill="#fff" stroke="#dba6d6" stroke-width="0.8" />
<line x1="102.60" y1="973.36" x2="102.60" y2="984.02" stroke="#dba6d6" stroke-width="0.6" />
<line x1="101.30" y1="973.36" x2="103.90" y2="973.36" stroke="#dba6d6" stroke-width="0.6" />
<circle cx="102.60" cy="978.69" r="1.6" fill="#fff" stroke="#dba6d6" stroke-width="0.8" />
<line x1="107.96" y1="970.87" x2="107.96" y2="978.26" stroke="#dba6d6" stroke-width="0.6" />
<line x1="106.66" y1="970.87" x2="109.26" y2="970.87" stroke="#dba6d6" stroke-width="0.6" />
<circle cx="107.96" cy="974.57" r="1.6" fill="#fff" stroke="#dba6d6" stroke-width="0.8" />
<line x1="116.00" y1="960.44" x2="116.00" y2="971.21" stroke="#dba6d6" stroke-width="0.6" />
<line x1="114.70" y1="960.44" x2="117.30" y2="960.44" stroke="#dba6d6" stroke-width="0.6" />
<circle cx="116.00" cy="965.82" r="1.6" fill="#fff" stroke="#dba6d6" stroke-width="0.8" />
<line x1="124.04" y1="952.91" x2="124.04" y2="958.54" stroke="#dba6d6" stroke-width="0.6" />
<line x1="122.74" y1="952.91" x2="125.34" y2="952.91" stroke="#dba6d6" stroke-width="0.6" />
<circle cx="124.04" cy="955.72" r="1.6" fill="#fff" stroke="#dba6d6" stroke-width="0.8" />
<line x1="134.76" y1="944.39" x2="134.76" y2="956.20" stroke="#dba6d6" stroke-width="0.6" />
<line x1="133.46" y1="944.39" x2="136.06" y2="944.39" stroke="#dba6d6" stroke-width="0.6" />
<circle cx="134.76" cy="950.30" r="1.6" fill="#fff" stroke="#dba6d6" stroke-width="0.8" />
<line x1="161.56" y1="946.93" x2="161.56" y2="956.40" stroke="#dba6d6" stroke-width="0.6" />
<line x1="160.26" y1="946.93" x2="162.86" y2="946.93" stroke="#dba6d6" stroke-width="0.6" />
<circle cx="161.56" cy="951.66" r="1.6" fill="#fff" stroke="#dba6d6" stroke-width="0.8" />
<circle cx="54.36" cy="1060.03" r="1.6" fill="#fff" stroke="#f7b774" stroke-width="0.8" />
<circle cx="62.40" cy="1058.11" r="1.6" fill="#fff" stroke="#f7b774" stroke-width="0.8" />
<circle cx="70.44" cy="1047.35" r="1.6" fill="#fff" stroke="#f7b774" stroke-width="0.8" />
<circle cx="75.80" cy="1044.85" r="1.6" fill="#fff" stroke="#f7b774" stroke-width="0.8" />
<circle cx="81.16" cy="1034.49" r="1.6" fill="#fff" stroke="#f7b774" stroke-width="0.8" />
<circle cx="86.52" cy="1022.41" r="1.6" fill="#fff" stroke="#f7b774" stroke-width="0.8" />
<circle cx="89.20" cy="1017.84" r="1.6" fill="#fff" stroke="#f7b774" stroke-width="0.8" />
<circle cx="97.24" cy="994.16" r="1.6" fill="#fff" stroke="#f7b774" stroke-width="0.8" />
<line x1="102.60" y1="977.27" x2="102.60" y2="988.25" stroke="#f7b774" stroke-width="0.6" />
<line x1="101.30" y1="977.27" x2="103.90" y2="977.27" stroke="#f7b774" stroke-width="0.6" />
<circle cx="102.60" cy="982.76" r="1.6" fill="#fff" stroke="#f7b774" stroke-width="0.8" />
<line x1="107.96" y1="968.04" x2="107.96" y2="977.68" stroke="#f7b774" stroke-width="0.6" />
<line x1="106.66" y1="968.04" x2="109.26" y2="968.04" stroke="#f7b774" stroke-width="0.6" />
<circle cx="107.96" cy="972.86" r="1.6" fill="#fff" stroke="#f7b774" stroke-width="0.8" />
<line x1="116.00" y1="958.96" x2="116.00" y2="968.74" stroke="#f7b774" stroke-width="0.6" />
<line x1="114.70" y1="958.96" x2="117.30" y2="958.96" stroke="#f7b774" stroke-width="0.6" />
<circle cx="116.00" cy="963.85" r="1.6" fill="#fff" stroke="#f7b774" stroke-width="0.8" />
<line x1="124.04" y1="955.63" x2="124.04" y2="962.84" stroke="#f7b774" stroke-width="0.6" />
<line x1="122.74" y1="955.63" x2="125.34" y2="955.63" stroke="#f7b774" stroke-width="0.6" />
<circle cx="124.04" cy="959.23" r="1.6" fill="#fff" stroke="#f7b774" stroke-width="0.8" />
<line x1="134.76" y1="945.38" x2="134.76" y2="957.39" stroke="#f7b774" stroke-width="0.6" />
<line x1="133.46" y1="945.38" x2="136.06" y2="945.38" stroke="#f7b774" stroke-width="0.6" />
<circle cx="134.76" cy="951.39" r="1.6" fill="#fff" stroke="#f7b774" stroke-width="0.8" />
<line x1="161.56" y1="946.08" x2="161.56" y2="956.17" stroke="#f7b774" stroke-width="0.6" />
<line x1="160.26" y1="946.08" x2="162.86" y2="946.08" stroke="#f7b774" stroke-width="0.6" />
<circle cx="161.56" cy="951.13" r="1.6" fill="#fff" stroke="#f7b774" stroke-width="0.8" />
<circle cx="54.36" cy="1057.94" r="1.6" fill="#fff" stroke="#a9b3e2" stroke-width="0.8" />
<circle cx="62.40" cy="1054.84" r="1.6" fill="#fff" stroke="#a9b3e2" stroke-width="0.8" />
<circle cx="70.44" cy="1046.94" r="1.6" fill="#fff" stroke="#a9b3e2" stroke-width="0.8" />
<circle cx="75.80" cy="1041.16" r="1.6" fill="#fff" stroke="#a9b3e2" stroke-width="0.8" />
<circle cx="81.16" cy="1024.62" r="1.6" fill="#fff" stroke="#a9b3e2" stroke-width="0.8" />
<circle cx="86.52" cy="1015.38" r="1.6" fill="#fff" stroke="#a9b3e2" stroke-width="0.8" />
<circle cx="89.20" cy="1004.68" r="1.6" fill="#fff" stroke="#a9b3e2" stroke-width="0.8" />
<circle cx="97.24" cy="989.21" r="1.6" fill="#fff" stroke="#a9b3e2" stroke-width="0.8" />
<line x1="102.60" y1="967.78" x2="102.60" y2="978.80" stroke="#a9b3e2" stroke-width="0.6" />
<line x1="101.30" y1="967.78" x2="103.90" y2="967.78" stroke="#a9b3e2" stroke-width="0.6" />
<circle cx="102.60" cy="973.29" r="1.6" fill="#fff" stroke="#a9b3e2" stroke-width="0.8" />
<line x1="107.96" y1="970.20" x2="107.96" y2="976.96" stroke="#a9b3e2" stroke-width="0.6" />
<line x1="106.66" y1="970.20" x2="109.26" y2="970.20" stroke="#a9b3e2" stroke-width="0.6" />
<circle cx="107.96" cy="973.58" r="1.6" fill="#fff" stroke="#a9b3e2" stroke-width="0.8" />
<line x1="116.00" y1="953.25" x2="116.00" y2="961.74" stroke="#a9b3e2" stroke-width="0.6" />
<line x1="114.70" y1="953.25" x2="117.30" y2="953.25" stroke="#a9b3e2" stroke-width="0.6" />
<circle cx="116.00" cy="957.49" r="1.6" fill="#fff" stroke="#a9b3e2" stroke-width="0.8" />
<line x1="124.04" y1="948.64" x2="124.04" y2="956.65" stroke="#a9b3e2" stroke-width="0.6" />
<line x1="122.74" y1="948.64" x2="125.34" y2="948.64" stroke="#a9b3e2" stroke-width="0.6" />
<circle cx="124.04" cy="952.64" r="1.6" fill="#fff" stroke="#a9b3e2" stroke-width="0.8" />
<line x1="134.76" y1="953.42" x2="134.76" y2="962.99" stroke="#a9b3e2" stroke-width="0.6" />
<line x1="133.46" y1="953.42" x2="136.06" y2="953.42" stroke="#a9b3e2" stroke-width="0.6" />
<circle cx="134.76" cy="958.21" r="1.6" fill="#fff" stroke="#a9b3e2" stroke-width="0.8" />
<line x1="161.56" y1="946.96" x2="161.56" y2="954.11" stroke="#a9b3e2" stroke-width="0.6" />
<line x1="160.26" y1="946.96" x2="162.86" y2="946.96" stroke="#a9b3e2" stroke-width="0.6" />
<circle cx="161.56" cy="950.54" r="1.6" fill="#fff" stroke="#a9b3e2" stroke-width="0.8" />
<circle cx="54.36" cy="1060.11" r="1.6" fill="#fff" stroke="#f19a98" stroke-width="0.8" />
<circle cx="62.40" cy="1054.19" r="1.6" fill="#fff" stroke="#f19a98" stroke-width="0.8" />
<circle cx="70.44" cy="1041.41" r="1.6" fill="#fff" stroke="#f19a98" stroke-width="0.8" />
<circle cx="75.80" cy="1035.68" r="1.6" fill="#fff" stroke="#f19a98" stroke-width="0.8" />
<circle cx="81.16" cy="1031.22" r="1.6" fill="#fff" stroke="#f19a98" stroke-width="0.8" />
<circle cx="86.52" cy="1017.61" r="1.6" fill="#fff" stroke="#f19a98" stroke-width="0.8" />
<circle cx="89.20" cy="1012.16" r="1.6" fill="#fff" stroke="#f19a98" stroke-width="0.8" />
<circle cx="97.24" cy="992.60" r="1.6" fill="#fff" stroke="#f19a98" stroke-width="0.8" />
<line x1="102.60" y1="971.58" x2="102.60" y2="978.12" stroke="#f19a98" stroke-width="0.6" />
<line x1="101.30" y1="971.58" x2="103.90" y2="971.58" stroke="#f19a98" stroke-width="0.6" />
<circle cx="102.60" cy="974.85" r="1.6" fill="#fff" stroke="#f19a98" stroke-width="0.8" />
<line x1="107.96" y1="964.19" x2="107.96" y2="972.54" stroke="#f19a98" stroke-width="0.6" />
<line x1="106.66" y1="964.19" x2="109.26" y2="964.19" stroke="#f19a98" stroke-width="0.6" />
<circle cx="107.96" cy="968.37" r="1.6" fill="#fff" stroke="#f19a98" stroke-width="0.8" />
<line x1="116.00" y1="958.16" x2="116.00" y2="968.41" stroke="#f19a98" stroke-width="0.6" />
<line x1="114.70" y1="958.16" x2="117.30" y2="958.16" stroke="#f19a98" stroke-width="0.6" />
<circle cx="116.00" cy="963.28" r="1.6" fill="#fff" stroke="#f19a98" stroke-width="0.8" />
<line x1="124.04" y1="954.52" x2="124.04" y2="964.18" stroke="#f19a98" stroke-width="0.6" />
<line x1="122.74" y1="954.52" x2="125.34" y2="954.52" stroke="#f19a98" stroke-width="0.6" />
<circle cx="124.04" cy="959.35" r="1.6" fill="#fff" stroke="#f19a98" stroke-width="0.8" />
<line x1="134.76" y1="952.71" x2="134.76" y2="960.88" stroke="#f19a98" stroke-width="0.6" />
<line x1="133.46" y1="952.71" x2="136.06" y2="952.71" stroke="#f19a98" stroke-width="0.6" />
<circle cx="134.76" cy="956.80" r="1.6" fill="#fff" stroke="#f19a98" stroke-width="0.8" />
<line x1="161.56" y1="950.90" x2="161.56" y2="958.05" stroke="#f19a98" stroke-width="0.6" />
<line x1="160.26" y1="950.90" x2="162.86" y2="950.90" stroke="#f19a98" stroke-width="0.6" />
<circle cx="161.56" cy="954.47" r="1.6" fill="#fff" stroke="#f19a98" stroke-width="0.8" />
<circle cx="54.36" cy="1050.01" r="1.6" fill="#fff" stroke="#6cc56e" stroke-width="0.8" />
<circle cx="62.40" cy="1045.70" r="1.6" fill="#fff" stroke="#6cc56e" stroke-width="0.8" />
<circle cx="70.44" cy="1039.75" r="1.6" fill="#fff" stroke="#6cc56e" stroke-width="0.8" />
<circle cx="75.80" cy="1024.47" r="1.6" fill="#fff" stroke="#6cc56e" stroke-width="0.8" />
<circle cx="81.16" cy="1018.20" r="1.6" fill="#fff" stroke="#6cc56e" stroke-width="0.8" />
<circle cx="86.52" cy="1003.24" r="1.6" fill="#fff" stroke="#6cc56e" stroke-width="0.8" />
<circle cx="89.20" cy="992.59" r="1.6" fill="#fff" stroke="#6cc56e" stroke-width="0.8" />
<circle cx="97.24" cy="977.45" r="1.6" fill="#fff" stroke="#6cc56e" stroke-width="0.8" />
<line x1="102.60" y1="968.00" x2="102.60" y2="979.97" stroke="#6cc56e" stroke-width="0.6" />
<line x1="101.30" y1="968.00" x2="103.90" y2="968.00" stroke="#6cc56e" stroke-width="0.6" />
<circle cx="102.60" cy="973.98" r="1.6" fill="#fff" stroke="#6cc56e" stroke-width="0.8" />
<line x1="107.96" y1="963.57" x2="107.96" y2="970.64" stroke="#6cc56e" stroke-width="0.6" />
<line x1="106.66" y1="963.57" x2="109.26" y2="963.57" stroke="#6cc56e" stroke-width="0.6" />
<circle cx="107.96" cy="967.10" r="1.6" fill="#fff" stroke="#6cc56e" stroke-width="0.8" />
<line x1="116.00" y1="953.01" x2="116.00" y2="960.56" stroke="#6cc56e" stroke-width="0.6" />
<line x1="114.70" y1="953.01" x2="117.30" y2="953.01" stroke="#6cc56e" stroke-width="0.6" />
<circle cx="116.00" cy="956.78" r="1.6" fill="#fff" stroke="#6cc56e" stroke-width="0.8" />
<line x1="124.04" y1="955.41" x2="124.04" y2="961.25" stroke="#6cc56e" stroke-width="0.6" />
<line x1="122.74" y1="955.41" x2="125.34" y2="955.41" stroke="#6cc56e" stroke-width="0.6" />
<circle cx="124.04" cy="958.33" r="1.6" fill="#fff" stroke="#6cc56e" stroke-width="0.8" />
<line x1="134.76" y1="953.97" x2="134.76" y2="963.22" stroke="#6cc56e" stroke-width="0.6" />
<line x1="133.46" y1="953.97" x2="136.06" y2="953.97" stroke="#6cc56e" stroke-width="0.6" />
<circle cx="134.76" cy="958.59" r="1.6" fill="#fff" stroke="#6cc56e" stroke-width="0.8" />
<line x1="161.56" y1="951.69" x2="161.56" y2="961.07" stroke="#6cc56e" stroke-width="0.6" />
<line x1="160.26" y1="951.69" x2="162.86" y2="951.69" stroke="#6cc56e" stroke-width="0.6" />
<circle cx="161.56" cy="956.38" r="1.6" fill="#fff" stroke="#6cc56e" stroke-width="0.8" />
<circle cx="54.36" cy="1052.66" r="1.6" fill="#fff" stroke="#7a3a9c" stroke-width="0.8" />
<circle cx="62.40" cy="1043.80" r="1.6" fill="#fff" stroke="#7a3a9c" stroke-width="0.8" />
<circle cx="70.44" cy="1025.64" r="1.6" fill="#fff" stroke="#7a3a9c" stroke-width="0.8" />
<circle cx="75.80" cy="1017.69" r="1.6" fill="#fff" stroke="#7a3a9c" stroke-width="0.8" />
<circle cx="81.16" cy="1003.26" r="1.6" fill="#fff" stroke="#7a3a9c" stroke-width="0.8" />
<circle cx="86.52" cy="987.20" r="1.6" fill="#fff" stroke="#7a3a9c" stroke-width="0.8" />
<circle cx="89.20" cy="987.13" r="1.6" fill="#fff" stroke="#7a3a9c" stroke-width="0.8" />
<circle cx="97.24" cy="972.57" r="1.6" fill="#fff" stroke="#7a3a9c" stroke-width="0.8" />
<line x1="102.60" y1="953.78" x2="102.60" y2="964.61" stroke="#7a3a9c" stroke-width="0.6" />
<line x1="101.30" y1="953.78" x2="103.90" y2="953.78" stroke="#7a3a9c" stroke-width="0.6" />
<circle cx="102.60" cy="959.20" r="1.6" fill="#fff" stroke="#7a3a9c" stroke-width="0.8" />
<line x1="107.96" y1="957.27" x2="107.96" y2="963.89" stroke="#7a3a9c" stroke-width="0.6" />
<line x1="106.66" y1="957.27" x2="109.26" y2="957.27" stroke="#7a3a9c" stroke-width="0.6" />
<circle cx="107.96" cy="960.58" r="1.6" fill="#fff" stroke="#7a3a9c" stroke-width="0.8" />
<line x1="116.00" y1="946.44" x2="116.00" y2="958.08" stroke="#7a3a9c" stroke-width="0.6" />
<line x1="114.70" y1="946.44" x2="117.30" y2="946.44" stroke="#7a3a9c" stroke-width="0.6" />
<circle cx="116.00" cy="952.26" r="1.6" fill="#fff" stroke="#7a3a9c" stroke-width="0.8" />
<line x1="124.04" y1="949.30" x2="124.04" y2="961.01" stroke="#7a3a9c" stroke-width="0.6" />
<line x1="122.74" y1="949.30" x2="125.34" y2="949.30" stroke="#7a3a9c" stroke-width="0.6" />
<circle cx="124.04" cy="955.15" r="1.6" fill="#fff" stroke="#7a3a9c" stroke-width="0.8" />
<line x1="134.76" y1="943.22" x2="134.76" y2="952.61" stroke="#7a3a9c" stroke-width="0.6" />
<line x1="133.46" y1="943.22" x2="136.06" y2="943.22" stroke="#7a3a9c" stroke-width="0.6" />
<circle cx="134.76" cy="947.91" r="1.6" fill="#fff" stroke="#7a3a9c" stroke-width="0.8" />
<line x1="161.56" y1="948.40" x2="161.56" y2="954.45" stroke="#7a3a9c" stroke-width="0.6" />
<line x1="160.26" y1="948.40" x2="162.86" y2="948.40" stroke="#7a3a9c" stroke-width="0.6" />
<circle cx="161.56" cy="951.42" r="1.6" fill="#fff" stroke="#7a3a9c" stroke-width="0.8" />
<circle cx="54.36" cy="1057.21" r="1.6" fill="#fff" stroke="#d0772a" stroke-width="0.8" />
<circle cx="62.40" cy="1041.23" r="1.6" fill="#fff" stroke="#d0772a" stroke-width="0.8" />
<circle cx="70.44" cy="1034.58" r="1.6" fill="#fff" stroke="#d0772a" stroke-width="0.8" />
<circle cx="75.80" cy="1018.56" r="1.6" fill="#fff" stroke="#d0772a" stroke-width="0.8" />
<circle cx="81.16" cy="1009.15" r="1.6" fill="#fff" stroke="#d0772a" stroke-width="0.8" />
<circle cx="86.52" cy="990.68" r="1.6" fill="#fff" stroke="#d0772a" stroke-width="0.8" />
<circle cx="89.20" cy="986.51" r="1.6" fill="#fff" stroke="#d0772a" stroke-width="0.8" />
<circle cx="97.24" cy="974.16" r="1.6" fill="#fff" stroke="#d0772a" stroke-width="0.8" />
<line x1="102.60" y1="963.31" x2="102.60" y2="973.48" stroke="#d0772a" stroke-width="0.6" />
<line x1="101.30" y1="963.31" x2="103.90" y2="963.31" stroke="#d0772a" stroke-width="0.6" />
<circle cx="102.60" cy="968.39" r="1.6" fill="#fff" stroke="#d0772a" stroke-width="0.8" />
<line x1="107.96" y1="961.27" x2="107.96" y2="968.15" stroke="#d0772a" stroke-width="0.6" />
<line x1="106.66" y1="961.27" x2="109.26" y2="961.27" stroke="#d0772a" stroke-width="0.6" />
<circle cx="107.96" cy="964.71" r="1.6" fill="#fff" stroke="#d0772a" stroke-width="0.8" />
<line x1="116.00" y1="950.72" x2="116.00" y2="961.77" stroke="#d0772a" stroke-width="0.6" />
<line x1="114.70" y1="950.72" x2="117.30" y2="950.72" stroke="#d0772a" stroke-width="0.6" />
<circle cx="116.00" cy="956.24" r="1.6" fill="#fff" stroke="#d0772a" stroke-width="0.8" />
<line x1="124.04" y1="950.11" x2="124.04" y2="957.34" stroke="#d0772a" stroke-width="0.6" />
<line x1="122.74" y1="950.11" x2="125.34" y2="950.11" stroke="#d0772a" stroke-width="0.6" />
<circle cx="124.04" cy="953.73" r="1.6" fill="#fff" stroke="#d0772a" stroke-width="0.8" />
<line x1="134.76" y1="946.50" x2="134.76" y2="953.21" stroke="#d0772a" stroke-width="0.6" />
<line x1="133.46" y1="946.50" x2="136.06" y2="946.50" stroke="#d0772a" stroke-width="0.6" />
<circle cx="134.76" cy="949.86" r="1.6" fill="#fff" stroke="#d0772a" stroke-width="0.8" />
<line x1="161.56" y1="953.69" x2="161.56" y2="960.84" stroke="#d0772a" stroke-width="0.6" />
<line x1="160.26" y1="953.69" x2="162.86" y2="953.69" stroke="#d0772a" stroke-width="0.6" />
<circle cx="161.56" cy="957.27" r="1.6" fill="#fff" stroke="#d0772a" stroke-width="0.8" />
<circle cx="54.36" cy="1049.37" r="1.6" fill="#fff" stroke="#24479c" stroke-width="0.8" />
<circle cx="62.40" cy="1043.53" r="1.6" fill="#fff" stroke="#24479c" stroke-width="0.8" />
<circle cx="70.44" cy="1027.60" r="1.6" fill="#fff" stroke="#24479c" stroke-width="0.8" />
<circle cx="75.80" cy="1013.22" r="1.6" fill="#fff" stroke="#24479c" stroke-width="0.8" />
<circle cx="81.16" cy="997.92" r="1.6" fill="#fff" stroke="#24479c" stroke-width="0.8" />
<circle cx="86.52" cy="989.18" r="1.6" fill="#fff" stroke="#24479c" stroke-width="0.8" />
<circle cx="89.20" cy="981.53" r="1.6" fill="#fff" stroke="#24479c" stroke-width="0.8" />
<circle cx="97.24" cy="963.84" r="1.6" fill="#fff" stroke="#24479c" stroke-width="0.8" />
<line x1="102.60" y1="952.56" x2="102.60" y2="962.31" stroke="#24479c" stroke-width="0.6" />
<line x1="101.30" y1="952.56" x2="103.90" y2="952.56" stroke="#24479c" stroke-width="0.6" />
<circle cx="102.60" cy="957.44" r="1.6" fill="#fff" stroke="#24479c" stroke-width="0.8" />
<line x1="107.96" y1="951.67" x2="107.96" y2="960.93" stroke="#24479c" stroke-width="0.6" />
<line x1="106.66" y1="951.67" x2="109.26" y2="951.67" stroke="#24479c" stroke-width="0.6" />
<circle cx="107.96" cy="956.30" r="1.6" fill="#fff" stroke="#24479c" stroke-width="0.8" />
<line x1="116.00" y1="955.20" x2="116.00" y2="960.79" stroke="#24479c" stroke-width="0.6" />
<line x1="114.70" y1="955.20" x2="117.30" y2="955.20" stroke="#24479c" stroke-width="0.6" />
<circle cx="116.00" cy="957.99" r="1.6" fill="#fff" stroke="#24479c" stroke-width="0.8" />
<line x1="124.04" y1="951.79" x2="124.04" y2="963.23" stroke="#24479c" stroke-width="0.6" />
<line x1="122.74" y1="951.79" x2="125.34" y2="951.79" stroke="#24479c" stroke-width="0.6" />
<circle cx="124.04" cy="957.51" r="1.6" fill="#fff" stroke="#24479c" stroke-width="0.8" />
<line x1="134.76" y1="944.62" x2="134.76" y2="956.41" stroke="#24479c" stroke-width="0.6" />
<line x1="133.46" y1="944.62" x2="136.06" y2="944.62" stroke="#24479c" stroke-width="0.6" />
<circle cx="134.76" cy="950.51" r="1.6" fill="#fff" stroke="#24479c" stroke-width="0.8" />
<line x1="161.56" y1="951.29" x2="161.56" y2="960.90" stroke="#24479c" stroke-width="0.6" />
<line x1="160.26" y1="951.29" x2="162.86" y2="951.29" stroke="#24479c" stroke-width="0.6" />
<circle cx="161.56" cy="956.10" r="1.6" fill="#fff" stroke="#24479c" stroke-width="0.8" />
<circle cx="54.36" cy="1049.07" r="1.6" fill="#fff" stroke="#8e1b2c" stroke-width="0.8" />
<circle cx="62.40" cy="1037.56" r="1.6" fill="#fff" stroke="#8e1b2c" stroke-width="0.8" />
<circle cx="70.44" cy="1026.22" r="1.6" fill="#fff" stroke="#8e1b2c" stroke-width="0.8" />
<circle cx="75.80" cy="1007.30" r="1.6" fill="#fff" stroke="#8e1b2c" stroke-width="0.8" />
<circle cx="81.16" cy="1001.78" r="1.6" fill="#fff" stroke="#8e1b2c" stroke-width="0.8" />
<circle cx="86.52" cy="984.57" r="1.6" fill="#fff" stroke="#8e1b2c" stroke-width="0.8" />
<circle cx="89.20" cy="977.09" r="1.6" fill="#fff" stroke="#8e1b2c" stroke-width="0.8" />
<circle cx="97.24" cy="962.19" r="1.6" fill="#fff" stroke="#8e1b2c" stroke-width="0.8" />
<line x1="102.60" y1="952.79" x2="102.60" y2="962.85" stroke="#8e1b2c" stroke-width="0.6" />
<line x1="101.30" y1="952.79" x2="103.90" y2="952.79" stroke="#8e1b2c" stroke-width="0.6" />
<circle cx="102.60" cy="957.82" r="1.6" fill="#fff" stroke="#8e1b2c" stroke-width="0.8" />
<line x1="107.96" y1="947.70" x2="107.96" y2="959.18" stroke="#8e1b2c" stroke-width="0.6" />
<line x1="106.66" y1="947.70" x2="109.26" y2="947.70" stroke="#8e1b2c" stroke-width="0.6" />
<circle cx="107.96" cy="953.44" r="1.6" fill="#fff" stroke="#8e1b2c" stroke-width="0.8" />
<line x1="116.00" y1="949.05" x2="116.00" y2="958.98" stroke="#8e1b2c" stroke-width="0.6" />
<line x1="114.70" y1="949.05" x2="117.30" y2="949.05" stroke="#8e1b2c" stroke-width="0.6" />
<circle cx="116.00" cy="954.02" r="1.6" fill="#fff" stroke="#8e1b2c" stroke-width="0.8" />
<line x1="124.04" y1="941.88" x2="124.04" y2="953.06" stroke="#8e1b2c" stroke-width="0.6" />
<line x1="122.74" y1="941.88" x2="125.34" y2="941.88" stroke="#8e1b2c" stroke-width="0.6" />
<circle cx="124.04" cy="947.47" r="1.6" fill="#fff" stroke="#8e1b2c" stroke-width="0.8" />
<line x1="134.76" y1="945.52" x2="134.76" y2="956.16" stroke="#8e1b2c" stroke-width="0.6" />
<line x1="133.46" y1="945.52" x2="136.06" y2="945.52" stroke="#8e1b2c" stroke-width="0.6" />
<circle cx="134.76" cy="950.84" r="1.6" fill="#fff" stroke="#8e1b2c" stroke-width="0.8" />
<line x1="161.56" y1="941.76" x2="161.56" y2="950.95" stroke="#8e1b2c" stroke-width="0.6" />
<line x1="160.26" y1="941.76" x2="162.86" y2="941.76" stroke="#8e1b2c" stroke-width="0.6" />
<circle cx="161.56" cy="946.36" r="1.6" fill="#fff" stroke="#8e1b2c" stroke-width="0.8" />
<circle cx="54.36" cy="1040.19" r="1.6" fill="#fff" stroke="#17843f" stroke-width="0.8" />
<circle cx="62.40" cy="1031.86" r="1.6" fill="#fff" stroke="#17843f" stroke-width="0.8" />
<circle cx="70.44" cy="1014.45" r="1.6" fill="#fff" stroke="#17843f" stroke-width="0.8" />
<circle cx="75.80" cy="1001.98" r="1.6" fill="#fff" stroke="#17843f" stroke-width="0.8" />
<circle cx="81.16" cy="994.61" r="1.6" fill="#fff" stroke="#17843f" stroke-width="0.8" />
<circle cx="86.52" cy="979.06" r="1.6" fill="#fff" stroke="#17843f" stroke-width="0.8" />
<circle cx="89.20" cy="971.46" r="1.6" fill="#fff" stroke="#17843f" stroke-width="0.8" />
<circle cx="97.24" cy="962.67" r="1.6" fill="#fff" stroke="#17843f" stroke-width="0.8" />
<line x1="102.60" y1="956.01" x2="102.60" y2="963.96" stroke="#17843f" stroke-width="0.6" />
<line x1="101.30" y1="956.01" x2="103.90" y2="956.01" stroke="#17843f" stroke-width="0.6" />
<circle cx="102.60" cy="959.98" r="1.6" fill="#fff" stroke="#17843f" stroke-width="0.8" />
<line x1="107.96" y1="952.68" x2="107.96" y2="961.92" stroke="#17843f" stroke-width="0.6" />
<line x1="106.66" y1="952.68" x2="109.26" y2="952.68" stroke="#17843f" stroke-width="0.6" />
<circle cx="107.96" cy="957.30" r="1.6" fill="#fff" stroke="#17843f" stroke-width="0.8" />
<line x1="116.00" y1="952.22" x2="116.00" y2="963.19" stroke="#17843f" stroke-width="0.6" />
<line x1="114.70" y1="952.22" x2="117.30" y2="952.22" stroke="#17843f" stroke-width="0.6" />
<circle cx="116.00" cy="957.71" r="1.6" fill="#fff" stroke="#17843f" stroke-width="0.8" />
<line x1="124.04" y1="954.62" x2="124.04" y2="965.00" stroke="#17843f" stroke-width="0.6" />
<line x1="122.74" y1="954.62" x2="125.34" y2="954.62" stroke="#17843f" stroke-width="0.6" />
<circle cx="124.04" cy="959.81" r="1.6" fill="#fff" stroke="#17843f" stroke-width="0.8" />
<line x1="134.76" y1="954.99" x2="134.76" y2="964.36" stroke="#17843f" stroke-width="0.6" />
<line x1="133.46" y1="954.99" x2="136.06" y2="954.99" stroke="#17843f" stroke-width="0.6" />
<circle cx="134.76" cy="959.68" r="1.6" fill="#fff" stroke="#17843f" stroke-width="0.8" />
<line x1="161.56" y1="951.88" x2="161.56" y2="958.77" stroke="#17843f" stroke-width="0.6" />
<line x1="160.26" y1="951.88" x2="162.86" y2="951.88" stroke="#17843f" stroke-width="0.6" />
<circle cx="161.56" cy="955.33" r="1.6" fill="#fff" stroke="#17843f" stroke-width="0.8" />
<line x1="116.90" y1="975.80" x2="123.10" y2="975.80" stroke="#6cc56e" stroke-width="0.8" />
<circle cx="120.30" cy="975.80" r="1.5" fill="#fff" stroke="#6cc56e" stroke-width="0.8" />
<text x="126.20" y="978.50" font-size="7.55" text-anchor="start" fill="#6cc56e" font-weight="normal" font-style="normal" >R140Q</text>
<line x1="116.90" y1="984.55" x2="123.10" y2="984.55" stroke="#f19a98" stroke-width="0.8" />
<circle cx="120.30" cy="984.55" r="1.5" fill="#fff" stroke="#f19a98" stroke-width="0.8" />
<text x="126.20" y="987.25" font-size="7.55" text-anchor="start" fill="#f19a98" font-weight="normal" font-style="normal" >R140Q + Q316E</text>
<line x1="116.90" y1="993.30" x2="123.10" y2="993.30" stroke="#a9b3e2" stroke-width="0.8" />
<circle cx="120.30" cy="993.30" r="1.5" fill="#fff" stroke="#a9b3e2" stroke-width="0.8" />
<text x="126.20" y="996.00" font-size="7.55" text-anchor="start" fill="#a9b3e2" font-weight="normal" font-style="normal" >R140Q + I319M</text>
<line x1="116.90" y1="1002.05" x2="123.10" y2="1002.05" stroke="#f7b774" stroke-width="0.8" />
<circle cx="120.30" cy="1002.05" r="1.5" fill="#fff" stroke="#f7b774" stroke-width="0.8" />
<text x="126.20" y="1004.75" font-size="7.55" text-anchor="start" fill="#f7b774" font-weight="normal" font-style="normal" >R140Q + E343V</text>
<line x1="116.90" y1="1010.80" x2="123.10" y2="1010.80" stroke="#dba6d6" stroke-width="0.8" />
<circle cx="120.30" cy="1010.80" r="1.5" fill="#fff" stroke="#dba6d6" stroke-width="0.8" />
<text x="126.20" y="1013.50" font-size="7.55" text-anchor="start" fill="#dba6d6" font-weight="normal" font-style="normal" >R140Q + A347T</text>
<line x1="116.90" y1="1021.60" x2="123.10" y2="1021.60" stroke="#17843f" stroke-width="0.8" />
<circle cx="120.30" cy="1021.60" r="1.5" fill="#fff" stroke="#17843f" stroke-width="0.8" />
<text x="126.20" y="1024.30" font-size="7.55" text-anchor="start" fill="#17843f" font-weight="normal" font-style="normal" >R140Q</text>
<line x1="116.90" y1="1030.65" x2="123.10" y2="1030.65" stroke="#8e1b2c" stroke-width="0.8" />
<circle cx="120.30" cy="1030.65" r="1.5" fill="#fff" stroke="#8e1b2c" stroke-width="0.8" />
<text x="126.20" y="1033.35" font-size="7.55" text-anchor="start" fill="#8e1b2c" font-weight="normal" font-style="normal" >R140Q + Q316E</text>
<line x1="116.90" y1="1039.70" x2="123.10" y2="1039.70" stroke="#24479c" stroke-width="0.8" />
<circle cx="120.30" cy="1039.70" r="1.5" fill="#fff" stroke="#24479c" stroke-width="0.8" />
<text x="126.20" y="1042.40" font-size="7.55" text-anchor="start" fill="#24479c" font-weight="normal" font-style="normal" >R140Q + I319M</text>
<line x1="116.90" y1="1048.75" x2="123.10" y2="1048.75" stroke="#d0772a" stroke-width="0.8" />
<circle cx="120.30" cy="1048.75" r="1.5" fill="#fff" stroke="#d0772a" stroke-width="0.8" />
<text x="126.20" y="1051.45" font-size="7.55" text-anchor="start" fill="#d0772a" font-weight="normal" font-style="normal" >R140Q + E343V</text>
<line x1="116.90" y1="1057.80" x2="123.10" y2="1057.80" stroke="#7a3a9c" stroke-width="0.8" />
<circle cx="120.30" cy="1057.80" r="1.5" fill="#fff" stroke="#7a3a9c" stroke-width="0.8" />
<text x="126.20" y="1060.50" font-size="7.55" text-anchor="start" fill="#7a3a9c" font-weight="normal" font-style="normal" >R140Q + A347T</text>
<line x1="185.10" y1="971.90" x2="185.10" y2="1013.50" stroke="#555" stroke-width="0.9" />
<line x1="185.10" y1="1018.80" x2="185.10" y2="1059.60" stroke="#555" stroke-width="0.9" />
<text x="187.50" y="991.20" font-size="7.3" text-anchor="start" fill="#1c1a1b" font-weight="normal" font-style="normal" >+ AG-221</text>
<text x="202.60" y="1000.00" font-size="7.3" text-anchor="middle" fill="#1c1a1b" font-weight="normal" font-style="normal" >(1 h)</text>
<text x="187.50" y="1037.40" font-size="7.3" text-anchor="start" fill="#1c1a1b" font-weight="normal" font-style="normal" >+ AG-221</text>
<text x="202.60" y="1046.00" font-size="7.3" text-anchor="middle" fill="#1c1a1b" font-weight="normal" font-style="normal" >(16 h)</text>
<text x="241.60" y="708.60" font-size="10" text-anchor="start" fill="#000" font-weight="bold" font-style="normal" >I</text>
<line x1="281.20" y1="864.50" x2="281.20" y2="731.40" stroke="#231f20" stroke-width="0.8" />
<line x1="278.20" y1="864.50" x2="281.20" y2="864.50" stroke="#231f20" stroke-width="0.6" />
<line x1="279.40" y1="852.40" x2="281.20" y2="852.40" stroke="#231f20" stroke-width="0.6" />
<line x1="279.40" y1="840.30" x2="281.20" y2="840.30" stroke="#231f20" stroke-width="0.6" />
<line x1="279.40" y1="828.20" x2="281.20" y2="828.20" stroke="#231f20" stroke-width="0.6" />
<line x1="279.40" y1="816.10" x2="281.20" y2="816.10" stroke="#231f20" stroke-width="0.6" />
<line x1="278.20" y1="804.00" x2="281.20" y2="804.00" stroke="#231f20" stroke-width="0.6" />
<line x1="279.40" y1="791.90" x2="281.20" y2="791.90" stroke="#231f20" stroke-width="0.6" />
<line x1="279.40" y1="779.80" x2="281.20" y2="779.80" stroke="#231f20" stroke-width="0.6" />
<line x1="279.40" y1="767.70" x2="281.20" y2="767.70" stroke="#231f20" stroke-width="0.6" />
<line x1="279.40" y1="755.60" x2="281.20" y2="755.60" stroke="#231f20" stroke-width="0.6" />
<line x1="278.20" y1="743.50" x2="281.20" y2="743.50" stroke="#231f20" stroke-width="0.6" />
<text x="275.70" y="746.00" font-size="7.2" text-anchor="end" fill="#1c1a1b" font-weight="normal" font-style="normal" >0</text>
<text x="275.70" y="806.50" font-size="7.2" text-anchor="end" fill="#1c1a1b" font-weight="normal" font-style="normal" >−0.05</text>
<text x="275.70" y="867.00" font-size="7.2" text-anchor="end" fill="#1c1a1b" font-weight="normal" font-style="normal" >−0.10</text>
<line x1="281.20" y1="864.50" x2="382.14" y2="864.50" stroke="#231f20" stroke-width="0.8" />
<line x1="281.20" y1="864.50" x2="281.20" y2="867.50" stroke="#231f20" stroke-width="0.7" />
<text x="281.20" y="875.50" font-size="7.2" text-anchor="middle" fill="#1c1a1b" font-weight="normal" font-style="normal" >0</text>
<line x1="300.80" y1="864.50" x2="300.80" y2="867.50" stroke="#231f20" stroke-width="0.7" />
<text x="300.80" y="875.50" font-size="7.2" text-anchor="middle" fill="#1c1a1b" font-weight="normal" font-style="normal" >1</text>
<line x1="320.40" y1="864.50" x2="320.40" y2="867.50" stroke="#231f20" stroke-width="0.7" />
<text x="320.40" y="875.50" font-size="7.2" text-anchor="middle" fill="#1c1a1b" font-weight="normal" font-style="normal" >2</text>
<line x1="340.00" y1="864.50" x2="340.00" y2="867.50" stroke="#231f20" stroke-width="0.7" />
<text x="340.00" y="875.50" font-size="7.2" text-anchor="middle" fill="#1c1a1b" font-weight="normal" font-style="normal" >3</text>
<line x1="359.60" y1="864.50" x2="359.60" y2="867.50" stroke="#231f20" stroke-width="0.7" />
<text x="359.60" y="875.50" font-size="7.2" text-anchor="middle" fill="#1c1a1b" font-weight="normal" font-style="normal" >4</text>
<line x1="379.20" y1="864.50" x2="379.20" y2="867.50" stroke="#231f20" stroke-width="0.7" />
<text x="379.20" y="875.50" font-size="7.2" text-anchor="middle" fill="#1c1a1b" font-weight="normal" font-style="normal" >5</text>
<line x1="291.00" y1="864.50" x2="291.00" y2="866.30" stroke="#231f20" stroke-width="0.6" />
<line x1="310.60" y1="864.50" x2="310.60" y2="866.30" stroke="#231f20" stroke-width="0.6" />
<line x1="330.20" y1="864.50" x2="330.20" y2="866.30" stroke="#231f20" stroke-width="0.6" />
<line x1="349.80" y1="864.50" x2="349.80" y2="866.30" stroke="#231f20" stroke-width="0.6" />
<line x1="369.40" y1="864.50" x2="369.40" y2="866.30" stroke="#231f20" stroke-width="0.6" />
<text x="330.20" y="886.50" font-size="7.4" text-anchor="middle" fill="#1c1a1b" font-weight="normal" font-style="normal" >Time (hour)</text>
<line x1="281.20" y1="743.50" x2="378.22" y2="743.50" stroke="#231f20" stroke-width="0.9" stroke-dasharray="1,1.1"/>
<path d="M281.20,743.50 L282.18,745.24 L283.16,746.96 L284.14,748.65 L285.12,750.30 L286.10,751.94 L287.08,753.54 L288.06,755.12 L289.04,756.67 L290.02,758.20 L291.00,759.70 L291.98,761.17 L292.96,762.63 L293.94,764.05 L294.92,765.46 L295.90,766.84 L296.88,768.20 L297.86,769.53 L298.84,770.85 L299.82,772.14 L300.80,773.41 L301.78,774.66 L302.76,775.89 L303.74,777.10 L304.72,778.29 L305.70,779.45 L306.68,780.60 L307.66,781.73 L308.64,782.85 L309.62,783.94 L310.60,785.02 L311.58,786.07 L312.56,787.11 L313.54,788.14 L314.52,789.14 L315.50,790.13 L316.48,791.11 L317.46,792.06 L318.44,793.00 L319.42,793.93 L320.40,794.84 L321.38,795.74 L322.36,796.62 L323.34,797.48 L324.32,798.33 L325.30,799.17 L326.28,800.00 L327.26,800.81 L328.24,801.60 L329.22,802.39 L330.20,803.16 L331.18,803.91 L332.16,804.66 L333.14,805.39 L334.12,806.11 L335.10,806.82 L336.08,807.52 L337.06,808.21 L338.04,808.88 L339.02,809.54 L340.00,810.20 L340.98,810.84 L341.96,811.47 L342.94,812.09 L343.92,812.70 L344.90,813.30 L345.88,813.89 L346.86,814.47 L347.84,815.04 L348.82,815.60 L349.80,816.16 L350.78,816.70 L351.76,817.23 L352.74,817.76 L353.72,818.27 L354.70,818.78 L355.68,819.28 L356.66,819.77 L357.64,820.26 L358.62,820.73 L359.60,821.20 L360.58,821.66 L361.56,822.11 L362.54,822.56 L363.52,822.99 L364.50,823.42 L365.48,823.85 L366.46,824.26 L367.44,824.67 L368.42,825.07 L369.40,825.47 L370.38,825.86 L371.36,826.24 L372.34,826.62 L373.32,826.99 L374.30,827.35 L375.28,827.71 L376.26,828.06 L377.24,828.41 L378.22,828.75 L379.20,829.08" fill="none" stroke="#f08e92" stroke-width="1.9" stroke-opacity="0.8"/>
<text x="282.18" y="747.14" font-size="5" text-anchor="middle" fill="#f08e92">+</text>
<text x="284.14" y="750.55" font-size="5" text-anchor="middle" fill="#f08e92">+</text>
<text x="286.10" y="753.84" font-size="5" text-anchor="middle" fill="#f08e92">+</text>
<text x="288.06" y="757.02" font-size="5" text-anchor="middle" fill="#f08e92">+</text>
<text x="290.02" y="760.10" font-size="5" text-anchor="middle" fill="#f08e92">+</text>
<text x="291.98" y="763.07" font-size="5" text-anchor="middle" fill="#f08e92">+</text>
<text x="293.94" y="765.95" font-size="5" text-anchor="middle" fill="#f08e92">+</text>
<text x="295.90" y="768.74" font-size="5" text-anchor="middle" fill="#f08e92">+</text>
<text x="297.86" y="771.43" font-size="5" text-anchor="middle" fill="#f08e92">+</text>
<text x="299.82" y="774.04" font-size="5" text-anchor="middle" fill="#f08e92">+</text>
<text x="301.78" y="776.56" font-size="5" text-anchor="middle" fill="#f08e92">+</text>
<text x="303.74" y="779.00" font-size="5" text-anchor="middle" fill="#f08e92">+</text>
<text x="305.70" y="781.35" font-size="5" text-anchor="middle" fill="#f08e92">+</text>
<text x="307.66" y="783.63" font-size="5" text-anchor="middle" fill="#f08e92">+</text>
<text x="309.62" y="785.84" font-size="5" text-anchor="middle" fill="#f08e92">+</text>
<text x="311.58" y="787.97" font-size="5" text-anchor="middle" fill="#f08e92">+</text>
<text x="313.54" y="790.04" font-size="5" text-anchor="middle" fill="#f08e92">+</text>
<text x="315.50" y="792.03" font-size="5" text-anchor="middle" fill="#f08e92">+</text>
<text x="317.46" y="793.96" font-size="5" text-anchor="middle" fill="#f08e92">+</text>
<text x="319.42" y="795.83" font-size="5" text-anchor="middle" fill="#f08e92">+</text>
<text x="321.38" y="797.64" font-size="5" text-anchor="middle" fill="#f08e92">+</text>
<text x="323.34" y="799.38" font-size="5" text-anchor="middle" fill="#f08e92">+</text>
<text x="325.30" y="801.07" font-size="5" text-anchor="middle" fill="#f08e92">+</text>
<text x="327.26" y="802.71" font-size="5" text-anchor="middle" fill="#f08e92">+</text>
<text x="329.22" y="804.29" font-size="5" text-anchor="middle" fill="#f08e92">+</text>
<text x="331.18" y="805.81" font-size="5" text-anchor="middle" fill="#f08e92">+</text>
<text x="333.14" y="807.29" font-size="5" text-anchor="middle" fill="#f08e92">+</text>
<text x="335.10" y="808.72" font-size="5" text-anchor="middle" fill="#f08e92">+</text>
<text x="337.06" y="810.11" font-size="5" text-anchor="middle" fill="#f08e92">+</text>
<text x="339.02" y="811.44" font-size="5" text-anchor="middle" fill="#f08e92">+</text>
<text x="340.98" y="812.74" font-size="5" text-anchor="middle" fill="#f08e92">+</text>
<text x="342.94" y="813.99" font-size="5" text-anchor="middle" fill="#f08e92">+</text>
<text x="344.90" y="815.20" font-size="5" text-anchor="middle" fill="#f08e92">+</text>
<text x="346.86" y="816.37" font-size="5" text-anchor="middle" fill="#f08e92">+</text>
<text x="348.82" y="817.50" font-size="5" text-anchor="middle" fill="#f08e92">+</text>
<text x="350.78" y="818.60" font-size="5" text-anchor="middle" fill="#f08e92">+</text>
<text x="352.74" y="819.66" font-size="5" text-anchor="middle" fill="#f08e92">+</text>
<text x="354.70" y="820.68" font-size="5" text-anchor="middle" fill="#f08e92">+</text>
<text x="356.66" y="821.67" font-size="5" text-anchor="middle" fill="#f08e92">+</text>
<text x="358.62" y="822.63" font-size="5" text-anchor="middle" fill="#f08e92">+</text>
<text x="360.58" y="823.56" font-size="5" text-anchor="middle" fill="#f08e92">+</text>
<text x="362.54" y="824.46" font-size="5" text-anchor="middle" fill="#f08e92">+</text>
<text x="364.50" y="825.32" font-size="5" text-anchor="middle" fill="#f08e92">+</text>
<text x="366.46" y="826.16" font-size="5" text-anchor="middle" fill="#f08e92">+</text>
<text x="368.42" y="826.97" font-size="5" text-anchor="middle" fill="#f08e92">+</text>
<text x="370.38" y="827.76" font-size="5" text-anchor="middle" fill="#f08e92">+</text>
<text x="372.34" y="828.52" font-size="5" text-anchor="middle" fill="#f08e92">+</text>
<text x="374.30" y="829.25" font-size="5" text-anchor="middle" fill="#f08e92">+</text>
<text x="376.26" y="829.96" font-size="5" text-anchor="middle" fill="#f08e92">+</text>
<text x="378.22" y="830.65" font-size="5" text-anchor="middle" fill="#f08e92">+</text>
<path d="M281.20,743.50 L282.18,743.79 L283.16,744.08 L284.14,744.37 L285.12,744.66 L286.10,744.94 L287.08,745.22 L288.06,745.50 L289.04,745.78 L290.02,746.06 L291.00,746.34 L291.98,746.61 L292.96,746.88 L293.94,747.15 L294.92,747.42 L295.90,747.69 L296.88,747.96 L297.86,748.22 L298.84,748.48 L299.82,748.74 L300.80,749.00 L301.78,749.26 L302.76,749.52 L303.74,749.77 L304.72,750.02 L305.70,750.27 L306.68,750.52 L307.66,750.77 L308.64,751.02 L309.62,751.26 L310.60,751.51 L311.58,751.75 L312.56,751.99 L313.54,752.23 L314.52,752.46 L315.50,752.70 L316.48,752.93 L317.46,753.17 L318.44,753.40 L319.42,753.63 L320.40,753.86 L321.38,754.09 L322.36,754.31 L323.34,754.54 L324.32,754.76 L325.30,754.98 L326.28,755.20 L327.26,755.42 L328.24,755.64 L329.22,755.85 L330.20,756.07 L331.18,756.28 L332.16,756.49 L333.14,756.70 L334.12,756.91 L335.10,757.12 L336.08,757.33 L337.06,757.53 L338.04,757.74 L339.02,757.94 L340.00,758.14 L340.98,758.34 L341.96,758.54 L342.94,758.74 L343.92,758.94 L344.90,759.13 L345.88,759.33 L346.86,759.52 L347.84,759.71 L348.82,759.90 L349.80,760.09 L350.78,760.28 L351.76,760.47 L352.74,760.65 L353.72,760.84 L354.70,761.02 L355.68,761.21 L356.66,761.39 L357.64,761.57 L358.62,761.75 L359.60,761.92 L360.58,762.10 L361.56,762.28 L362.54,762.45 L363.52,762.63 L364.50,762.80 L365.48,762.97 L366.46,763.14 L367.44,763.31 L368.42,763.48 L369.40,763.65 L370.38,763.81 L371.36,763.98 L372.34,764.14 L373.32,764.30 L374.30,764.47 L375.28,764.63 L376.26,764.79 L377.24,764.95 L378.22,765.11 L379.20,765.26" fill="none" stroke="#6cbf4e" stroke-width="2.2" />
<text x="281.38" y="747.58" font-size="5.5" text-anchor="middle" fill="#5cc06e" fill-opacity="0.75">+</text>
<text x="283.34" y="750.22" font-size="5.5" text-anchor="middle" fill="#5cc06e" fill-opacity="0.75">+</text>
<text x="285.30" y="753.73" font-size="5.5" text-anchor="middle" fill="#5cc06e" fill-opacity="0.75">+</text>
<text x="287.26" y="757.80" font-size="5.5" text-anchor="middle" fill="#5cc06e" fill-opacity="0.75">+</text>
<text x="289.22" y="762.23" font-size="5.5" text-anchor="middle" fill="#5cc06e" fill-opacity="0.75">+</text>
<text x="291.18" y="766.88" font-size="5.5" text-anchor="middle" fill="#5cc06e" fill-opacity="0.75">+</text>
<text x="293.14" y="771.65" font-size="5.5" text-anchor="middle" fill="#5cc06e" fill-opacity="0.75">+</text>
<text x="295.10" y="776.47" font-size="5.5" text-anchor="middle" fill="#5cc06e" fill-opacity="0.75">+</text>
<text x="297.06" y="781.26" font-size="5.5" text-anchor="middle" fill="#5cc06e" fill-opacity="0.75">+</text>
<text x="299.02" y="785.99" font-size="5.5" text-anchor="middle" fill="#5cc06e" fill-opacity="0.75">+</text>
<text x="300.98" y="790.60" font-size="5.5" text-anchor="middle" fill="#5cc06e" fill-opacity="0.75">+</text>
<text x="302.94" y="795.06" font-size="5.5" text-anchor="middle" fill="#5cc06e" fill-opacity="0.75">+</text>
<text x="304.90" y="799.36" font-size="5.5" text-anchor="middle" fill="#5cc06e" fill-opacity="0.75">+</text>
<text x="306.86" y="803.47" font-size="5.5" text-anchor="middle" fill="#5cc06e" fill-opacity="0.75">+</text>
<text x="308.82" y="807.37" font-size="5.5" text-anchor="middle" fill="#5cc06e" fill-opacity="0.75">+</text>
<text x="310.78" y="811.07" font-size="5.5" text-anchor="middle" fill="#5cc06e" fill-opacity="0.75">+</text>
<text x="312.74" y="814.54" font-size="5.5" text-anchor="middle" fill="#5cc06e" fill-opacity="0.75">+</text>
<text x="314.70" y="817.80" font-size="5.5" text-anchor="middle" fill="#5cc06e" fill-opacity="0.75">+</text>
<text x="316.66" y="820.85" font-size="5.5" text-anchor="middle" fill="#5cc06e" fill-opacity="0.75">+</text>
<text x="318.62" y="823.68" font-size="5.5" text-anchor="middle" fill="#5cc06e" fill-opacity="0.75">+</text>
<text x="320.58" y="826.30" font-size="5.5" text-anchor="middle" fill="#5cc06e" fill-opacity="0.75">+</text>
<text x="322.54" y="828.73" font-size="5.5" text-anchor="middle" fill="#5cc06e" fill-opacity="0.75">+</text>
<text x="324.50" y="830.96" font-size="5.5" text-anchor="middle" fill="#5cc06e" fill-opacity="0.75">+</text>
<text x="326.46" y="833.01" font-size="5.5" text-anchor="middle" fill="#5cc06e" fill-opacity="0.75">+</text>
<text x="328.42" y="834.88" font-size="5.5" text-anchor="middle" fill="#5cc06e" fill-opacity="0.75">+</text>
<text x="330.38" y="836.59" font-size="5.5" text-anchor="middle" fill="#5cc06e" fill-opacity="0.75">+</text>
<text x="332.34" y="838.15" font-size="5.5" text-anchor="middle" fill="#5cc06e" fill-opacity="0.75">+</text>
<text x="334.30" y="839.56" font-size="5.5" text-anchor="middle" fill="#5cc06e" fill-opacity="0.75">+</text>
<text x="336.26" y="840.85" font-size="5.5" text-anchor="middle" fill="#5cc06e" fill-opacity="0.75">+</text>
<text x="338.22" y="842.00" font-size="5.5" text-anchor="middle" fill="#5cc06e" fill-opacity="0.75">+</text>
<text x="340.18" y="843.04" font-size="5.5" text-anchor="middle" fill="#5cc06e" fill-opacity="0.75">+</text>
<text x="342.14" y="843.98" font-size="5.5" text-anchor="middle" fill="#5cc06e" fill-opacity="0.75">+</text>
<text x="344.10" y="844.82" font-size="5.5" text-anchor="middle" fill="#5cc06e" fill-opacity="0.75">+</text>
<text x="346.06" y="845.58" font-size="5.5" text-anchor="middle" fill="#5cc06e" fill-opacity="0.75">+</text>
<text x="348.02" y="846.25" font-size="5.5" text-anchor="middle" fill="#5cc06e" fill-opacity="0.75">+</text>
<text x="349.98" y="846.85" font-size="5.5" text-anchor="middle" fill="#5cc06e" fill-opacity="0.75">+</text>
<text x="351.94" y="847.38" font-size="5.5" text-anchor="middle" fill="#5cc06e" fill-opacity="0.75">+</text>
<text x="353.90" y="847.85" font-size="5.5" text-anchor="middle" fill="#5cc06e" fill-opacity="0.75">+</text>
<text x="355.86" y="848.27" font-size="5.5" text-anchor="middle" fill="#5cc06e" fill-opacity="0.75">+</text>
<text x="357.82" y="848.64" font-size="5.5" text-anchor="middle" fill="#5cc06e" fill-opacity="0.75">+</text>
<text x="359.78" y="848.97" font-size="5.5" text-anchor="middle" fill="#5cc06e" fill-opacity="0.75">+</text>
<text x="361.74" y="849.26" font-size="5.5" text-anchor="middle" fill="#5cc06e" fill-opacity="0.75">+</text>
<text x="363.70" y="849.51" font-size="5.5" text-anchor="middle" fill="#5cc06e" fill-opacity="0.75">+</text>
<text x="365.66" y="849.74" font-size="5.5" text-anchor="middle" fill="#5cc06e" fill-opacity="0.75">+</text>
<text x="367.62" y="849.93" font-size="5.5" text-anchor="middle" fill="#5cc06e" fill-opacity="0.75">+</text>
<text x="369.58" y="850.10" font-size="5.5" text-anchor="middle" fill="#5cc06e" fill-opacity="0.75">+</text>
<text x="371.54" y="850.25" font-size="5.5" text-anchor="middle" fill="#5cc06e" fill-opacity="0.75">+</text>
<text x="373.50" y="850.38" font-size="5.5" text-anchor="middle" fill="#5cc06e" fill-opacity="0.75">+</text>
<text x="375.46" y="850.49" font-size="5.5" text-anchor="middle" fill="#5cc06e" fill-opacity="0.75">+</text>
<text x="377.42" y="850.59" font-size="5.5" text-anchor="middle" fill="#5cc06e" fill-opacity="0.75">+</text>
<path d="M281.20,743.50 L282.18,744.18 L283.16,745.36 L284.14,746.82 L285.12,748.49 L286.10,750.33 L287.08,752.31 L288.06,754.40 L289.04,756.58 L290.02,758.83 L291.00,761.13 L291.98,763.48 L292.96,765.85 L293.94,768.25 L294.92,770.66 L295.90,773.07 L296.88,775.47 L297.86,777.86 L298.84,780.24 L299.82,782.59 L300.80,784.91 L301.78,787.20 L302.76,789.45 L303.74,791.66 L304.72,793.84 L305.70,795.96 L306.68,798.04 L307.66,800.07 L308.64,802.05 L309.62,803.97 L310.60,805.85 L311.58,807.67 L312.56,809.43 L313.54,811.14 L314.52,812.80 L315.50,814.40 L316.48,815.95 L317.46,817.45 L318.44,818.89 L319.42,820.28 L320.40,821.62 L321.38,822.90 L322.36,824.14 L323.34,825.33 L324.32,826.47 L325.30,827.56 L326.28,828.60 L327.26,829.61 L328.24,830.57 L329.22,831.48 L330.20,832.36 L331.18,833.19 L332.16,833.99 L333.14,834.75 L334.12,835.48 L335.10,836.16 L336.08,836.82 L337.06,837.45 L338.04,838.04 L339.02,838.60 L340.00,839.14 L340.98,839.64 L341.96,840.13 L342.94,840.58 L343.92,841.01 L344.90,841.42 L345.88,841.81 L346.86,842.18 L347.84,842.52 L348.82,842.85 L349.80,843.16 L350.78,843.45 L351.76,843.72 L352.74,843.98 L353.72,844.22 L354.70,844.45 L355.68,844.67 L356.66,844.87 L357.64,845.06 L358.62,845.24 L359.60,845.41 L360.58,845.57 L361.56,845.72 L362.54,845.86 L363.52,845.99 L364.50,846.11 L365.48,846.23 L366.46,846.34 L367.44,846.44 L368.42,846.53 L369.40,846.62 L370.38,846.70 L371.36,846.78 L372.34,846.85 L373.32,846.92 L374.30,846.98 L375.28,847.04 L376.26,847.09 L377.24,847.15 L378.22,847.19 L379.20,847.24" fill="none" stroke="#1e7c3a" stroke-width="1.3" />
<text x="282.18" y="746.08" font-size="5" text-anchor="middle" fill="#1e7c3a">+</text>
<text x="284.14" y="748.72" font-size="5" text-anchor="middle" fill="#1e7c3a">+</text>
<text x="286.10" y="752.23" font-size="5" text-anchor="middle" fill="#1e7c3a">+</text>
<text x="288.06" y="756.30" font-size="5" text-anchor="middle" fill="#1e7c3a">+</text>
<text x="290.02" y="760.73" font-size="5" text-anchor="middle" fill="#1e7c3a">+</text>
<text x="291.98" y="765.38" font-size="5" text-anchor="middle" fill="#1e7c3a">+</text>
<text x="293.94" y="770.15" font-size="5" text-anchor="middle" fill="#1e7c3a">+</text>
<text x="295.90" y="774.97" font-size="5" text-anchor="middle" fill="#1e7c3a">+</text>
<text x="297.86" y="779.76" font-size="5" text-anchor="middle" fill="#1e7c3a">+</text>
<text x="299.82" y="784.49" font-size="5" text-anchor="middle" fill="#1e7c3a">+</text>
<text x="301.78" y="789.10" font-size="5" text-anchor="middle" fill="#1e7c3a">+</text>
<text x="303.74" y="793.56" font-size="5" text-anchor="middle" fill="#1e7c3a">+</text>
<text x="305.70" y="797.86" font-size="5" text-anchor="middle" fill="#1e7c3a">+</text>
<text x="307.66" y="801.97" font-size="5" text-anchor="middle" fill="#1e7c3a">+</text>
<text x="309.62" y="805.87" font-size="5" text-anchor="middle" fill="#1e7c3a">+</text>
<text x="311.58" y="809.57" font-size="5" text-anchor="middle" fill="#1e7c3a">+</text>
<text x="313.54" y="813.04" font-size="5" text-anchor="middle" fill="#1e7c3a">+</text>
<text x="315.50" y="816.30" font-size="5" text-anchor="middle" fill="#1e7c3a">+</text>
<text x="317.46" y="819.35" font-size="5" text-anchor="middle" fill="#1e7c3a">+</text>
<text x="319.42" y="822.18" font-size="5" text-anchor="middle" fill="#1e7c3a">+</text>
<text x="321.38" y="824.80" font-size="5" text-anchor="middle" fill="#1e7c3a">+</text>
<text x="323.34" y="827.23" font-size="5" text-anchor="middle" fill="#1e7c3a">+</text>
<text x="325.30" y="829.46" font-size="5" text-anchor="middle" fill="#1e7c3a">+</text>
<text x="327.26" y="831.51" font-size="5" text-anchor="middle" fill="#1e7c3a">+</text>
<text x="329.22" y="833.38" font-size="5" text-anchor="middle" fill="#1e7c3a">+</text>
<text x="331.18" y="835.09" font-size="5" text-anchor="middle" fill="#1e7c3a">+</text>
<text x="333.14" y="836.65" font-size="5" text-anchor="middle" fill="#1e7c3a">+</text>
<text x="335.10" y="838.06" font-size="5" text-anchor="middle" fill="#1e7c3a">+</text>
<text x="337.06" y="839.35" font-size="5" text-anchor="middle" fill="#1e7c3a">+</text>
<text x="339.02" y="840.50" font-size="5" text-anchor="middle" fill="#1e7c3a">+</text>
<text x="340.98" y="841.54" font-size="5" text-anchor="middle" fill="#1e7c3a">+</text>
<text x="342.94" y="842.48" font-size="5" text-anchor="middle" fill="#1e7c3a">+</text>
<text x="344.90" y="843.32" font-size="5" text-anchor="middle" fill="#1e7c3a">+</text>
<text x="346.86" y="844.08" font-size="5" text-anchor="middle" fill="#1e7c3a">+</text>
<text x="348.82" y="844.75" font-size="5" text-anchor="middle" fill="#1e7c3a">+</text>
<text x="350.78" y="845.35" font-size="5" text-anchor="middle" fill="#1e7c3a">+</text>
<text x="352.74" y="845.88" font-size="5" text-anchor="middle" fill="#1e7c3a">+</text>
<text x="354.70" y="846.35" font-size="5" text-anchor="middle" fill="#1e7c3a">+</text>
<text x="356.66" y="846.77" font-size="5" text-anchor="middle" fill="#1e7c3a">+</text>
<text x="358.62" y="847.14" font-size="5" text-anchor="middle" fill="#1e7c3a">+</text>
<text x="360.58" y="847.47" font-size="5" text-anchor="middle" fill="#1e7c3a">+</text>
<text x="362.54" y="847.76" font-size="5" text-anchor="middle" fill="#1e7c3a">+</text>
<text x="364.50" y="848.01" font-size="5" text-anchor="middle" fill="#1e7c3a">+</text>
<text x="366.46" y="848.24" font-size="5" text-anchor="middle" fill="#1e7c3a">+</text>
<text x="368.42" y="848.43" font-size="5" text-anchor="middle" fill="#1e7c3a">+</text>
<text x="370.38" y="848.60" font-size="5" text-anchor="middle" fill="#1e7c3a">+</text>
<text x="372.34" y="848.75" font-size="5" text-anchor="middle" fill="#1e7c3a">+</text>
<text x="374.30" y="848.88" font-size="5" text-anchor="middle" fill="#1e7c3a">+</text>
<text x="376.26" y="848.99" font-size="5" text-anchor="middle" fill="#1e7c3a">+</text>
<text x="378.22" y="849.09" font-size="5" text-anchor="middle" fill="#1e7c3a">+</text>
<path d="M281.20,743.50 L282.18,744.13 L283.16,745.20 L284.14,746.54 L285.12,748.08 L286.10,749.78 L287.08,751.60 L288.06,753.53 L289.04,755.54 L290.02,757.63 L291.00,759.77 L291.98,761.95 L292.96,764.17 L293.94,766.41 L294.92,768.67 L295.90,770.94 L296.88,773.21 L297.86,775.47 L298.84,777.72 L299.82,779.96 L300.80,782.17 L301.78,784.37 L302.76,786.53 L303.74,788.66 L304.72,790.76 L305.70,792.82 L306.68,794.84 L307.66,796.82 L308.64,798.76 L309.62,800.66 L310.60,802.50 L311.58,804.31 L312.56,806.06 L313.54,807.77 L314.52,809.43 L315.50,811.04 L316.48,812.61 L317.46,814.12 L318.44,815.59 L319.42,817.01 L320.40,818.39 L321.38,819.71 L322.36,820.99 L323.34,822.23 L324.32,823.42 L325.30,824.56 L326.28,825.67 L327.26,826.73 L328.24,827.75 L329.22,828.72 L330.20,829.66 L331.18,830.57 L332.16,831.43 L333.14,832.26 L334.12,833.05 L335.10,833.81 L336.08,834.53 L337.06,835.22 L338.04,835.89 L339.02,836.52 L340.00,837.12 L340.98,837.69 L341.96,838.24 L342.94,838.76 L343.92,839.26 L344.90,839.73 L345.88,840.18 L346.86,840.61 L347.84,841.01 L348.82,841.40 L349.80,841.76 L350.78,842.11 L351.76,842.44 L352.74,842.75 L353.72,843.05 L354.70,843.33 L355.68,843.59 L356.66,843.84 L357.64,844.08 L358.62,844.31 L359.60,844.52 L360.58,844.72 L361.56,844.91 L362.54,845.08 L363.52,845.25 L364.50,845.41 L365.48,845.56 L366.46,845.70 L367.44,845.83 L368.42,845.96 L369.40,846.08 L370.38,846.19 L371.36,846.29 L372.34,846.39 L373.32,846.48 L374.30,846.57 L375.28,846.65 L376.26,846.72 L377.24,846.80 L378.22,846.86 L379.20,846.93" fill="none" stroke="#c8202f" stroke-width="1.0" stroke-dasharray="1.2,0.9"/>
<line x1="286.30" y1="703.70" x2="291.30" y2="703.70" stroke="#1e7c3a" stroke-width="0.8" />
<text x="295.30" y="706.20" font-size="7.2" text-anchor="start" fill="#1e7c3a" font-weight="normal" font-style="normal" >R140Q</text>
<line x1="286.30" y1="711.55" x2="291.30" y2="711.55" stroke="#c8202f" stroke-width="0.8" />
<text x="295.30" y="714.05" font-size="7.2" text-anchor="start" fill="#c8202f" font-weight="normal" font-style="normal" >R140Q + Q316E</text>
<line x1="286.30" y1="719.40" x2="291.30" y2="719.40" stroke="#5fbf5f" stroke-width="0.8" />
<text x="295.30" y="721.90" font-size="7.2" text-anchor="start" fill="#5fbf5f" font-weight="normal" font-style="normal" >R140Q</text>
<line x1="286.30" y1="727.25" x2="291.30" y2="727.25" stroke="#ec7f86" stroke-width="0.8" />
<text x="295.30" y="729.75" font-size="7.2" text-anchor="start" fill="#ec7f86" font-weight="normal" font-style="normal" >R140Q + Q316E</text>
<line x1="354.40" y1="702.10" x2="354.40" y2="713.20" stroke="#231f20" stroke-width="0.8" />
<line x1="354.40" y1="718.10" x2="354.40" y2="730.20" stroke="#231f20" stroke-width="0.8" />
<text x="356.60" y="710.90" font-size="7.5" text-anchor="start" fill="#1c1a1b" font-weight="normal" font-style="normal" >+ DMSO</text>
<text x="356.60" y="727.00" font-size="7.5" text-anchor="start" fill="#1c1a1b" font-weight="normal" font-style="normal" >+ AG-221</text>
<line x1="411.20" y1="864.50" x2="411.20" y2="731.40" stroke="#231f20" stroke-width="0.8" />
<line x1="408.20" y1="864.50" x2="411.20" y2="864.50" stroke="#231f20" stroke-width="0.6" />
<line x1="409.40" y1="852.40" x2="411.20" y2="852.40" stroke="#231f20" stroke-width="0.6" />
<line x1="409.40" y1="840.30" x2="411.20" y2="840.30" stroke="#231f20" stroke-width="0.6" />
<line x1="409.40" y1="828.20" x2="411.20" y2="828.20" stroke="#231f20" stroke-width="0.6" />
<line x1="409.40" y1="816.10" x2="411.20" y2="816.10" stroke="#231f20" stroke-width="0.6" />
<line x1="408.20" y1="804.00" x2="411.20" y2="804.00" stroke="#231f20" stroke-width="0.6" />
<line x1="409.40" y1="791.90" x2="411.20" y2="791.90" stroke="#231f20" stroke-width="0.6" />
<line x1="409.40" y1="779.80" x2="411.20" y2="779.80" stroke="#231f20" stroke-width="0.6" />
<line x1="409.40" y1="767.70" x2="411.20" y2="767.70" stroke="#231f20" stroke-width="0.6" />
<line x1="409.40" y1="755.60" x2="411.20" y2="755.60" stroke="#231f20" stroke-width="0.6" />
<line x1="408.20" y1="743.50" x2="411.20" y2="743.50" stroke="#231f20" stroke-width="0.6" />
<text x="405.70" y="746.00" font-size="7.2" text-anchor="end" fill="#1c1a1b" font-weight="normal" font-style="normal" >0</text>
<text x="405.70" y="806.50" font-size="7.2" text-anchor="end" fill="#1c1a1b" font-weight="normal" font-style="normal" >−0.05</text>
<text x="405.70" y="867.00" font-size="7.2" text-anchor="end" fill="#1c1a1b" font-weight="normal" font-style="normal" >−0.10</text>
<line x1="411.20" y1="864.50" x2="512.14" y2="864.50" stroke="#231f20" stroke-width="0.8" />
<line x1="411.20" y1="864.50" x2="411.20" y2="867.50" stroke="#231f20" stroke-width="0.7" />
<text x="411.20" y="875.50" font-size="7.2" text-anchor="middle" fill="#1c1a1b" font-weight="normal" font-style="normal" >0</text>
<line x1="430.80" y1="864.50" x2="430.80" y2="867.50" stroke="#231f20" stroke-width="0.7" />
<text x="430.80" y="875.50" font-size="7.2" text-anchor="middle" fill="#1c1a1b" font-weight="normal" font-style="normal" >1</text>
<line x1="450.40" y1="864.50" x2="450.40" y2="867.50" stroke="#231f20" stroke-width="0.7" />
<text x="450.40" y="875.50" font-size="7.2" text-anchor="middle" fill="#1c1a1b" font-weight="normal" font-style="normal" >2</text>
<line x1="470.00" y1="864.50" x2="470.00" y2="867.50" stroke="#231f20" stroke-width="0.7" />
<text x="470.00" y="875.50" font-size="7.2" text-anchor="middle" fill="#1c1a1b" font-weight="normal" font-style="normal" >3</text>
<line x1="489.60" y1="864.50" x2="489.60" y2="867.50" stroke="#231f20" stroke-width="0.7" />
<text x="489.60" y="875.50" font-size="7.2" text-anchor="middle" fill="#1c1a1b" font-weight="normal" font-style="normal" >4</text>
<line x1="509.20" y1="864.50" x2="509.20" y2="867.50" stroke="#231f20" stroke-width="0.7" />
<text x="509.20" y="875.50" font-size="7.2" text-anchor="middle" fill="#1c1a1b" font-weight="normal" font-style="normal" >5</text>
<line x1="421.00" y1="864.50" x2="421.00" y2="866.30" stroke="#231f20" stroke-width="0.6" />
<line x1="440.60" y1="864.50" x2="440.60" y2="866.30" stroke="#231f20" stroke-width="0.6" />
<line x1="460.20" y1="864.50" x2="460.20" y2="866.30" stroke="#231f20" stroke-width="0.6" />
<line x1="479.80" y1="864.50" x2="479.80" y2="866.30" stroke="#231f20" stroke-width="0.6" />
<line x1="499.40" y1="864.50" x2="499.40" y2="866.30" stroke="#231f20" stroke-width="0.6" />
<text x="460.20" y="886.50" font-size="7.4" text-anchor="middle" fill="#1c1a1b" font-weight="normal" font-style="normal" >Time (hour)</text>
<line x1="411.20" y1="743.50" x2="508.22" y2="743.50" stroke="#231f20" stroke-width="0.9" stroke-dasharray="1,1.1"/>
<path d="M411.20,743.50 L412.18,744.43 L413.16,745.70 L414.14,747.12 L415.12,748.65 L416.10,750.26 L417.08,751.91 L418.06,753.61 L419.04,755.34 L420.02,757.09 L421.00,758.85 L421.98,760.63 L422.96,762.41 L423.94,764.18 L424.92,765.96 L425.90,767.72 L426.88,769.48 L427.86,771.23 L428.84,772.96 L429.82,774.68 L430.80,776.38 L431.78,778.05 L432.76,779.71 L433.74,781.35 L434.72,782.97 L435.70,784.56 L436.68,786.13 L437.66,787.67 L438.64,789.19 L439.62,790.69 L440.60,792.15 L441.58,793.60 L442.56,795.01 L443.54,796.40 L444.52,797.76 L445.50,799.10 L446.48,800.41 L447.46,801.69 L448.44,802.95 L449.42,804.18 L450.40,805.38 L451.38,806.56 L452.36,807.71 L453.34,808.84 L454.32,809.94 L455.30,811.01 L456.28,812.06 L457.26,813.09 L458.24,814.09 L459.22,815.06 L460.20,816.02 L461.18,816.95 L462.16,817.85 L463.14,818.74 L464.12,819.60 L465.10,820.44 L466.08,821.26 L467.06,822.05 L468.04,822.83 L469.02,823.58 L470.00,824.32 L470.98,825.04 L471.96,825.73 L472.94,826.41 L473.92,827.07 L474.90,827.71 L475.88,828.34 L476.86,828.94 L477.84,829.53 L478.82,830.10 L479.80,830.66 L480.78,831.20 L481.76,831.73 L482.74,832.24 L483.72,832.73 L484.70,833.21 L485.68,833.68 L486.66,834.13 L487.64,834.57 L488.62,835.00 L489.60,835.41 L490.58,835.81 L491.56,836.20 L492.54,836.58 L493.52,836.95 L494.50,837.30 L495.48,837.65 L496.46,837.98 L497.44,838.30 L498.42,838.62 L499.40,838.92 L500.38,839.21 L501.36,839.50 L502.34,839.77 L503.32,840.04 L504.30,840.30 L505.28,840.55 L506.26,840.79 L507.24,841.03 L508.22,841.25 L509.20,841.47" fill="none" stroke="#b3b5e6" stroke-width="3.4" stroke-opacity="0.8"/>
<text x="412.18" y="746.33" font-size="5" text-anchor="middle" fill="#b3b5e6">+</text>
<text x="414.14" y="749.02" font-size="5" text-anchor="middle" fill="#b3b5e6">+</text>
<text x="416.10" y="752.16" font-size="5" text-anchor="middle" fill="#b3b5e6">+</text>
<text x="418.06" y="755.51" font-size="5" text-anchor="middle" fill="#b3b5e6">+</text>
<text x="420.02" y="758.99" font-size="5" text-anchor="middle" fill="#b3b5e6">+</text>
<text x="421.98" y="762.53" font-size="5" text-anchor="middle" fill="#b3b5e6">+</text>
<text x="423.94" y="766.08" font-size="5" text-anchor="middle" fill="#b3b5e6">+</text>
<text x="425.90" y="769.62" font-size="5" text-anchor="middle" fill="#b3b5e6">+</text>
<text x="427.86" y="773.13" font-size="5" text-anchor="middle" fill="#b3b5e6">+</text>
<text x="429.82" y="776.58" font-size="5" text-anchor="middle" fill="#b3b5e6">+</text>
<text x="431.78" y="779.95" font-size="5" text-anchor="middle" fill="#b3b5e6">+</text>
<text x="433.74" y="783.25" font-size="5" text-anchor="middle" fill="#b3b5e6">+</text>
<text x="435.70" y="786.46" font-size="5" text-anchor="middle" fill="#b3b5e6">+</text>
<text x="437.66" y="789.57" font-size="5" text-anchor="middle" fill="#b3b5e6">+</text>
<text x="439.62" y="792.59" font-size="5" text-anchor="middle" fill="#b3b5e6">+</text>
<text x="441.58" y="795.50" font-size="5" text-anchor="middle" fill="#b3b5e6">+</text>
<text x="443.54" y="798.30" font-size="5" text-anchor="middle" fill="#b3b5e6">+</text>
<text x="445.50" y="801.00" font-size="5" text-anchor="middle" fill="#b3b5e6">+</text>
<text x="447.46" y="803.59" font-size="5" text-anchor="middle" fill="#b3b5e6">+</text>
<text x="449.42" y="806.08" font-size="5" text-anchor="middle" fill="#b3b5e6">+</text>
<text x="451.38" y="808.46" font-size="5" text-anchor="middle" fill="#b3b5e6">+</text>
<text x="453.34" y="810.74" font-size="5" text-anchor="middle" fill="#b3b5e6">+</text>
<text x="455.30" y="812.91" font-size="5" text-anchor="middle" fill="#b3b5e6">+</text>
<text x="457.26" y="814.99" font-size="5" text-anchor="middle" fill="#b3b5e6">+</text>
<text x="459.22" y="816.96" font-size="5" text-anchor="middle" fill="#b3b5e6">+</text>
<text x="461.18" y="818.85" font-size="5" text-anchor="middle" fill="#b3b5e6">+</text>
<text x="463.14" y="820.64" font-size="5" text-anchor="middle" fill="#b3b5e6">+</text>
<text x="465.10" y="822.34" font-size="5" text-anchor="middle" fill="#b3b5e6">+</text>
<text x="467.06" y="823.95" font-size="5" text-anchor="middle" fill="#b3b5e6">+</text>
<text x="469.02" y="825.48" font-size="5" text-anchor="middle" fill="#b3b5e6">+</text>
<text x="470.98" y="826.94" font-size="5" text-anchor="middle" fill="#b3b5e6">+</text>
<text x="472.94" y="828.31" font-size="5" text-anchor="middle" fill="#b3b5e6">+</text>
<text x="474.90" y="829.61" font-size="5" text-anchor="middle" fill="#b3b5e6">+</text>
<text x="476.86" y="830.84" font-size="5" text-anchor="middle" fill="#b3b5e6">+</text>
<text x="478.82" y="832.00" font-size="5" text-anchor="middle" fill="#b3b5e6">+</text>
<text x="480.78" y="833.10" font-size="5" text-anchor="middle" fill="#b3b5e6">+</text>
<text x="482.74" y="834.14" font-size="5" text-anchor="middle" fill="#b3b5e6">+</text>
<text x="484.70" y="835.11" font-size="5" text-anchor="middle" fill="#b3b5e6">+</text>
<text x="486.66" y="836.03" font-size="5" text-anchor="middle" fill="#b3b5e6">+</text>
<text x="488.62" y="836.90" font-size="5" text-anchor="middle" fill="#b3b5e6">+</text>
<text x="490.58" y="837.71" font-size="5" text-anchor="middle" fill="#b3b5e6">+</text>
<text x="492.54" y="838.48" font-size="5" text-anchor="middle" fill="#b3b5e6">+</text>
<text x="494.50" y="839.20" font-size="5" text-anchor="middle" fill="#b3b5e6">+</text>
<text x="496.46" y="839.88" font-size="5" text-anchor="middle" fill="#b3b5e6">+</text>
<text x="498.42" y="840.52" font-size="5" text-anchor="middle" fill="#b3b5e6">+</text>
<text x="500.38" y="841.11" font-size="5" text-anchor="middle" fill="#b3b5e6">+</text>
<text x="502.34" y="841.67" font-size="5" text-anchor="middle" fill="#b3b5e6">+</text>
<text x="504.30" y="842.20" font-size="5" text-anchor="middle" fill="#b3b5e6">+</text>
<text x="506.26" y="842.69" font-size="5" text-anchor="middle" fill="#b3b5e6">+</text>
<text x="508.22" y="843.15" font-size="5" text-anchor="middle" fill="#b3b5e6">+</text>
<path d="M411.20,743.50 L412.18,743.79 L413.16,744.08 L414.14,744.37 L415.12,744.66 L416.10,744.94 L417.08,745.22 L418.06,745.50 L419.04,745.78 L420.02,746.06 L421.00,746.34 L421.98,746.61 L422.96,746.88 L423.94,747.15 L424.92,747.42 L425.90,747.69 L426.88,747.96 L427.86,748.22 L428.84,748.48 L429.82,748.74 L430.80,749.00 L431.78,749.26 L432.76,749.52 L433.74,749.77 L434.72,750.02 L435.70,750.27 L436.68,750.52 L437.66,750.77 L438.64,751.02 L439.62,751.26 L440.60,751.51 L441.58,751.75 L442.56,751.99 L443.54,752.23 L444.52,752.46 L445.50,752.70 L446.48,752.93 L447.46,753.17 L448.44,753.40 L449.42,753.63 L450.40,753.86 L451.38,754.09 L452.36,754.31 L453.34,754.54 L454.32,754.76 L455.30,754.98 L456.28,755.20 L457.26,755.42 L458.24,755.64 L459.22,755.85 L460.20,756.07 L461.18,756.28 L462.16,756.49 L463.14,756.70 L464.12,756.91 L465.10,757.12 L466.08,757.33 L467.06,757.53 L468.04,757.74 L469.02,757.94 L470.00,758.14 L470.98,758.34 L471.96,758.54 L472.94,758.74 L473.92,758.94 L474.90,759.13 L475.88,759.33 L476.86,759.52 L477.84,759.71 L478.82,759.90 L479.80,760.09 L480.78,760.28 L481.76,760.47 L482.74,760.65 L483.72,760.84 L484.70,761.02 L485.68,761.21 L486.66,761.39 L487.64,761.57 L488.62,761.75 L489.60,761.92 L490.58,762.10 L491.56,762.28 L492.54,762.45 L493.52,762.63 L494.50,762.80 L495.48,762.97 L496.46,763.14 L497.44,763.31 L498.42,763.48 L499.40,763.65 L500.38,763.81 L501.36,763.98 L502.34,764.14 L503.32,764.30 L504.30,764.47 L505.28,764.63 L506.26,764.79 L507.24,764.95 L508.22,765.11 L509.20,765.26" fill="none" stroke="#6cbf4e" stroke-width="2.2" />
<text x="411.38" y="747.58" font-size="5.5" text-anchor="middle" fill="#5cc06e" fill-opacity="0.75">+</text>
<text x="413.34" y="750.22" font-size="5.5" text-anchor="middle" fill="#5cc06e" fill-opacity="0.75">+</text>
<text x="415.30" y="753.73" font-size="5.5" text-anchor="middle" fill="#5cc06e" fill-opacity="0.75">+</text>
<text x="417.26" y="757.80" font-size="5.5" text-anchor="middle" fill="#5cc06e" fill-opacity="0.75">+</text>
<text x="419.22" y="762.23" font-size="5.5" text-anchor="middle" fill="#5cc06e" fill-opacity="0.75">+</text>
<text x="421.18" y="766.88" font-size="5.5" text-anchor="middle" fill="#5cc06e" fill-opacity="0.75">+</text>
<text x="423.14" y="771.65" font-size="5.5" text-anchor="middle" fill="#5cc06e" fill-opacity="0.75">+</text>
<text x="425.10" y="776.47" font-size="5.5" text-anchor="middle" fill="#5cc06e" fill-opacity="0.75">+</text>
<text x="427.06" y="781.26" font-size="5.5" text-anchor="middle" fill="#5cc06e" fill-opacity="0.75">+</text>
<text x="429.02" y="785.99" font-size="5.5" text-anchor="middle" fill="#5cc06e" fill-opacity="0.75">+</text>
<text x="430.98" y="790.60" font-size="5.5" text-anchor="middle" fill="#5cc06e" fill-opacity="0.75">+</text>
<text x="432.94" y="795.06" font-size="5.5" text-anchor="middle" fill="#5cc06e" fill-opacity="0.75">+</text>
<text x="434.90" y="799.36" font-size="5.5" text-anchor="middle" fill="#5cc06e" fill-opacity="0.75">+</text>
<text x="436.86" y="803.47" font-size="5.5" text-anchor="middle" fill="#5cc06e" fill-opacity="0.75">+</text>
<text x="438.82" y="807.37" font-size="5.5" text-anchor="middle" fill="#5cc06e" fill-opacity="0.75">+</text>
<text x="440.78" y="811.07" font-size="5.5" text-anchor="middle" fill="#5cc06e" fill-opacity="0.75">+</text>
<text x="442.74" y="814.54" font-size="5.5" text-anchor="middle" fill="#5cc06e" fill-opacity="0.75">+</text>
<text x="444.70" y="817.80" font-size="5.5" text-anchor="middle" fill="#5cc06e" fill-opacity="0.75">+</text>
<text x="446.66" y="820.85" font-size="5.5" text-anchor="middle" fill="#5cc06e" fill-opacity="0.75">+</text>
<text x="448.62" y="823.68" font-size="5.5" text-anchor="middle" fill="#5cc06e" fill-opacity="0.75">+</text>
<text x="450.58" y="826.30" font-size="5.5" text-anchor="middle" fill="#5cc06e" fill-opacity="0.75">+</text>
<text x="452.54" y="828.73" font-size="5.5" text-anchor="middle" fill="#5cc06e" fill-opacity="0.75">+</text>
<text x="454.50" y="830.96" font-size="5.5" text-anchor="middle" fill="#5cc06e" fill-opacity="0.75">+</text>
<text x="456.46" y="833.01" font-size="5.5" text-anchor="middle" fill="#5cc06e" fill-opacity="0.75">+</text>
<text x="458.42" y="834.88" font-size="5.5" text-anchor="middle" fill="#5cc06e" fill-opacity="0.75">+</text>
<text x="460.38" y="836.59" font-size="5.5" text-anchor="middle" fill="#5cc06e" fill-opacity="0.75">+</text>
<text x="462.34" y="838.15" font-size="5.5" text-anchor="middle" fill="#5cc06e" fill-opacity="0.75">+</text>
<text x="464.30" y="839.56" font-size="5.5" text-anchor="middle" fill="#5cc06e" fill-opacity="0.75">+</text>
<text x="466.26" y="840.85" font-size="5.5" text-anchor="middle" fill="#5cc06e" fill-opacity="0.75">+</text>
<text x="468.22" y="842.00" font-size="5.5" text-anchor="middle" fill="#5cc06e" fill-opacity="0.75">+</text>
<text x="470.18" y="843.04" font-size="5.5" text-anchor="middle" fill="#5cc06e" fill-opacity="0.75">+</text>
<text x="472.14" y="843.98" font-size="5.5" text-anchor="middle" fill="#5cc06e" fill-opacity="0.75">+</text>
<text x="474.10" y="844.82" font-size="5.5" text-anchor="middle" fill="#5cc06e" fill-opacity="0.75">+</text>
<text x="476.06" y="845.58" font-size="5.5" text-anchor="middle" fill="#5cc06e" fill-opacity="0.75">+</text>
<text x="478.02" y="846.25" font-size="5.5" text-anchor="middle" fill="#5cc06e" fill-opacity="0.75">+</text>
<text x="479.98" y="846.85" font-size="5.5" text-anchor="middle" fill="#5cc06e" fill-opacity="0.75">+</text>
<text x="481.94" y="847.38" font-size="5.5" text-anchor="middle" fill="#5cc06e" fill-opacity="0.75">+</text>
<text x="483.90" y="847.85" font-size="5.5" text-anchor="middle" fill="#5cc06e" fill-opacity="0.75">+</text>
<text x="485.86" y="848.27" font-size="5.5" text-anchor="middle" fill="#5cc06e" fill-opacity="0.75">+</text>
<text x="487.82" y="848.64" font-size="5.5" text-anchor="middle" fill="#5cc06e" fill-opacity="0.75">+</text>
<text x="489.78" y="848.97" font-size="5.5" text-anchor="middle" fill="#5cc06e" fill-opacity="0.75">+</text>
<text x="491.74" y="849.26" font-size="5.5" text-anchor="middle" fill="#5cc06e" fill-opacity="0.75">+</text>
<text x="493.70" y="849.51" font-size="5.5" text-anchor="middle" fill="#5cc06e" fill-opacity="0.75">+</text>
<text x="495.66" y="849.74" font-size="5.5" text-anchor="middle" fill="#5cc06e" fill-opacity="0.75">+</text>
<text x="497.62" y="849.93" font-size="5.5" text-anchor="middle" fill="#5cc06e" fill-opacity="0.75">+</text>
<text x="499.58" y="850.10" font-size="5.5" text-anchor="middle" fill="#5cc06e" fill-opacity="0.75">+</text>
<text x="501.54" y="850.25" font-size="5.5" text-anchor="middle" fill="#5cc06e" fill-opacity="0.75">+</text>
<text x="503.50" y="850.38" font-size="5.5" text-anchor="middle" fill="#5cc06e" fill-opacity="0.75">+</text>
<text x="505.46" y="850.49" font-size="5.5" text-anchor="middle" fill="#5cc06e" fill-opacity="0.75">+</text>
<text x="507.42" y="850.59" font-size="5.5" text-anchor="middle" fill="#5cc06e" fill-opacity="0.75">+</text>
<path d="M411.20,743.50 L412.18,744.18 L413.16,745.36 L414.14,746.82 L415.12,748.49 L416.10,750.33 L417.08,752.31 L418.06,754.40 L419.04,756.58 L420.02,758.83 L421.00,761.13 L421.98,763.48 L422.96,765.85 L423.94,768.25 L424.92,770.66 L425.90,773.07 L426.88,775.47 L427.86,777.86 L428.84,780.24 L429.82,782.59 L430.80,784.91 L431.78,787.20 L432.76,789.45 L433.74,791.66 L434.72,793.84 L435.70,795.96 L436.68,798.04 L437.66,800.07 L438.64,802.05 L439.62,803.97 L440.60,805.85 L441.58,807.67 L442.56,809.43 L443.54,811.14 L444.52,812.80 L445.50,814.40 L446.48,815.95 L447.46,817.45 L448.44,818.89 L449.42,820.28 L450.40,821.62 L451.38,822.90 L452.36,824.14 L453.34,825.33 L454.32,826.47 L455.30,827.56 L456.28,828.60 L457.26,829.61 L458.24,830.57 L459.22,831.48 L460.20,832.36 L461.18,833.19 L462.16,833.99 L463.14,834.75 L464.12,835.48 L465.10,836.16 L466.08,836.82 L467.06,837.45 L468.04,838.04 L469.02,838.60 L470.00,839.14 L470.98,839.64 L471.96,840.13 L472.94,840.58 L473.92,841.01 L474.90,841.42 L475.88,841.81 L476.86,842.18 L477.84,842.52 L478.82,842.85 L479.80,843.16 L480.78,843.45 L481.76,843.72 L482.74,843.98 L483.72,844.22 L484.70,844.45 L485.68,844.67 L486.66,844.87 L487.64,845.06 L488.62,845.24 L489.60,845.41 L490.58,845.57 L491.56,845.72 L492.54,845.86 L493.52,845.99 L494.50,846.11 L495.48,846.23 L496.46,846.34 L497.44,846.44 L498.42,846.53 L499.40,846.62 L500.38,846.70 L501.36,846.78 L502.34,846.85 L503.32,846.92 L504.30,846.98 L505.28,847.04 L506.26,847.09 L507.24,847.15 L508.22,847.19 L509.20,847.24" fill="none" stroke="#1e7c3a" stroke-width="1.3" />
<text x="412.18" y="746.08" font-size="5" text-anchor="middle" fill="#1e7c3a">+</text>
<text x="414.14" y="748.72" font-size="5" text-anchor="middle" fill="#1e7c3a">+</text>
<text x="416.10" y="752.23" font-size="5" text-anchor="middle" fill="#1e7c3a">+</text>
<text x="418.06" y="756.30" font-size="5" text-anchor="middle" fill="#1e7c3a">+</text>
<text x="420.02" y="760.73" font-size="5" text-anchor="middle" fill="#1e7c3a">+</text>
<text x="421.98" y="765.38" font-size="5" text-anchor="middle" fill="#1e7c3a">+</text>
<text x="423.94" y="770.15" font-size="5" text-anchor="middle" fill="#1e7c3a">+</text>
<text x="425.90" y="774.97" font-size="5" text-anchor="middle" fill="#1e7c3a">+</text>
<text x="427.86" y="779.76" font-size="5" text-anchor="middle" fill="#1e7c3a">+</text>
<text x="429.82" y="784.49" font-size="5" text-anchor="middle" fill="#1e7c3a">+</text>
<text x="431.78" y="789.10" font-size="5" text-anchor="middle" fill="#1e7c3a">+</text>
<text x="433.74" y="793.56" font-size="5" text-anchor="middle" fill="#1e7c3a">+</text>
<text x="435.70" y="797.86" font-size="5" text-anchor="middle" fill="#1e7c3a">+</text>
<text x="437.66" y="801.97" font-size="5" text-anchor="middle" fill="#1e7c3a">+</text>
<text x="439.62" y="805.87" font-size="5" text-anchor="middle" fill="#1e7c3a">+</text>
<text x="441.58" y="809.57" font-size="5" text-anchor="middle" fill="#1e7c3a">+</text>
<text x="443.54" y="813.04" font-size="5" text-anchor="middle" fill="#1e7c3a">+</text>
<text x="445.50" y="816.30" font-size="5" text-anchor="middle" fill="#1e7c3a">+</text>
<text x="447.46" y="819.35" font-size="5" text-anchor="middle" fill="#1e7c3a">+</text>
<text x="449.42" y="822.18" font-size="5" text-anchor="middle" fill="#1e7c3a">+</text>
<text x="451.38" y="824.80" font-size="5" text-anchor="middle" fill="#1e7c3a">+</text>
<text x="453.34" y="827.23" font-size="5" text-anchor="middle" fill="#1e7c3a">+</text>
<text x="455.30" y="829.46" font-size="5" text-anchor="middle" fill="#1e7c3a">+</text>
<text x="457.26" y="831.51" font-size="5" text-anchor="middle" fill="#1e7c3a">+</text>
<text x="459.22" y="833.38" font-size="5" text-anchor="middle" fill="#1e7c3a">+</text>
<text x="461.18" y="835.09" font-size="5" text-anchor="middle" fill="#1e7c3a">+</text>
<text x="463.14" y="836.65" font-size="5" text-anchor="middle" fill="#1e7c3a">+</text>
<text x="465.10" y="838.06" font-size="5" text-anchor="middle" fill="#1e7c3a">+</text>
<text x="467.06" y="839.35" font-size="5" text-anchor="middle" fill="#1e7c3a">+</text>
<text x="469.02" y="840.50" font-size="5" text-anchor="middle" fill="#1e7c3a">+</text>
<text x="470.98" y="841.54" font-size="5" text-anchor="middle" fill="#1e7c3a">+</text>
<text x="472.94" y="842.48" font-size="5" text-anchor="middle" fill="#1e7c3a">+</text>
<text x="474.90" y="843.32" font-size="5" text-anchor="middle" fill="#1e7c3a">+</text>
<text x="476.86" y="844.08" font-size="5" text-anchor="middle" fill="#1e7c3a">+</text>
<text x="478.82" y="844.75" font-size="5" text-anchor="middle" fill="#1e7c3a">+</text>
<text x="480.78" y="845.35" font-size="5" text-anchor="middle" fill="#1e7c3a">+</text>
<text x="482.74" y="845.88" font-size="5" text-anchor="middle" fill="#1e7c3a">+</text>
<text x="484.70" y="846.35" font-size="5" text-anchor="middle" fill="#1e7c3a">+</text>
<text x="486.66" y="846.77" font-size="5" text-anchor="middle" fill="#1e7c3a">+</text>
<text x="488.62" y="847.14" font-size="5" text-anchor="middle" fill="#1e7c3a">+</text>
<text x="490.58" y="847.47" font-size="5" text-anchor="middle" fill="#1e7c3a">+</text>
<text x="492.54" y="847.76" font-size="5" text-anchor="middle" fill="#1e7c3a">+</text>
<text x="494.50" y="848.01" font-size="5" text-anchor="middle" fill="#1e7c3a">+</text>
<text x="496.46" y="848.24" font-size="5" text-anchor="middle" fill="#1e7c3a">+</text>
<text x="498.42" y="848.43" font-size="5" text-anchor="middle" fill="#1e7c3a">+</text>
<text x="500.38" y="848.60" font-size="5" text-anchor="middle" fill="#1e7c3a">+</text>
<text x="502.34" y="848.75" font-size="5" text-anchor="middle" fill="#1e7c3a">+</text>
<text x="504.30" y="848.88" font-size="5" text-anchor="middle" fill="#1e7c3a">+</text>
<text x="506.26" y="848.99" font-size="5" text-anchor="middle" fill="#1e7c3a">+</text>
<text x="508.22" y="849.09" font-size="5" text-anchor="middle" fill="#1e7c3a">+</text>
<path d="M411.20,743.50 L412.18,744.14 L413.16,745.23 L414.14,746.59 L415.12,748.16 L416.10,749.88 L417.08,751.74 L418.06,753.69 L419.04,755.74 L420.02,757.85 L421.00,760.03 L421.98,762.24 L422.96,764.49 L423.94,766.76 L424.92,769.05 L425.90,771.34 L426.88,773.64 L427.86,775.93 L428.84,778.20 L429.82,780.46 L430.80,782.70 L431.78,784.91 L432.76,787.09 L433.74,789.24 L434.72,791.35 L435.70,793.43 L436.68,795.46 L437.66,797.45 L438.64,799.40 L439.62,801.30 L440.60,803.15 L441.58,804.96 L442.56,806.72 L443.54,808.43 L444.52,810.09 L445.50,811.70 L446.48,813.26 L447.46,814.78 L448.44,816.24 L449.42,817.66 L450.40,819.02 L451.38,820.34 L452.36,821.62 L453.34,822.84 L454.32,824.02 L455.30,825.16 L456.28,826.25 L457.26,827.30 L458.24,828.31 L459.22,829.28 L460.20,830.21 L461.18,831.09 L462.16,831.95 L463.14,832.76 L464.12,833.54 L465.10,834.28 L466.08,835.00 L467.06,835.68 L468.04,836.32 L469.02,836.94 L470.00,837.53 L470.98,838.09 L471.96,838.63 L472.94,839.14 L473.92,839.62 L474.90,840.08 L475.88,840.52 L476.86,840.93 L477.84,841.33 L478.82,841.70 L479.80,842.06 L480.78,842.39 L481.76,842.71 L482.74,843.01 L483.72,843.30 L484.70,843.57 L485.68,843.82 L486.66,844.06 L487.64,844.29 L488.62,844.51 L489.60,844.71 L490.58,844.90 L491.56,845.08 L492.54,845.25 L493.52,845.41 L494.50,845.56 L495.48,845.71 L496.46,845.84 L497.44,845.97 L498.42,846.08 L499.40,846.20 L500.38,846.30 L501.36,846.40 L502.34,846.49 L503.32,846.58 L504.30,846.66 L505.28,846.74 L506.26,846.81 L507.24,846.87 L508.22,846.94 L509.20,847.00" fill="none" stroke="#2b3d8e" stroke-width="1.0" />
<line x1="417.60" y1="703.70" x2="422.60" y2="703.70" stroke="#1e7c3a" stroke-width="0.8" />
<text x="426.60" y="706.20" font-size="7.2" text-anchor="start" fill="#1e7c3a" font-weight="normal" font-style="normal" >R140Q</text>
<line x1="417.60" y1="711.55" x2="422.60" y2="711.55" stroke="#2b3d8e" stroke-width="0.8" />
<text x="426.60" y="714.05" font-size="7.2" text-anchor="start" fill="#2b3d8e" font-weight="normal" font-style="normal" >R140Q + I319M</text>
<line x1="417.60" y1="719.40" x2="422.60" y2="719.40" stroke="#5fbf5f" stroke-width="0.8" />
<text x="426.60" y="721.90" font-size="7.2" text-anchor="start" fill="#5fbf5f" font-weight="normal" font-style="normal" >R140Q</text>
<line x1="417.60" y1="727.25" x2="422.60" y2="727.25" stroke="#9a9cd8" stroke-width="0.8" />
<text x="426.60" y="729.75" font-size="7.2" text-anchor="start" fill="#9a9cd8" font-weight="normal" font-style="normal" >R140Q + I319M</text>
<line x1="481.80" y1="702.10" x2="481.80" y2="713.20" stroke="#231f20" stroke-width="0.8" />
<line x1="481.80" y1="718.10" x2="481.80" y2="730.20" stroke="#231f20" stroke-width="0.8" />
<text x="484.00" y="710.90" font-size="7.5" text-anchor="start" fill="#1c1a1b" font-weight="normal" font-style="normal" >+ DMSO</text>
<text x="484.00" y="727.00" font-size="7.5" text-anchor="start" fill="#1c1a1b" font-weight="normal" font-style="normal" >+ AG-221</text>
<line x1="281.20" y1="1063.60" x2="281.20" y2="930.50" stroke="#231f20" stroke-width="0.8" />
<line x1="278.20" y1="1063.60" x2="281.20" y2="1063.60" stroke="#231f20" stroke-width="0.6" />
<line x1="279.40" y1="1051.50" x2="281.20" y2="1051.50" stroke="#231f20" stroke-width="0.6" />
<line x1="279.40" y1="1039.40" x2="281.20" y2="1039.40" stroke="#231f20" stroke-width="0.6" />
<line x1="279.40" y1="1027.30" x2="281.20" y2="1027.30" stroke="#231f20" stroke-width="0.6" />
<line x1="279.40" y1="1015.20" x2="281.20" y2="1015.20" stroke="#231f20" stroke-width="0.6" />
<line x1="278.20" y1="1003.10" x2="281.20" y2="1003.10" stroke="#231f20" stroke-width="0.6" />
<line x1="279.40" y1="991.00" x2="281.20" y2="991.00" stroke="#231f20" stroke-width="0.6" />
<line x1="279.40" y1="978.90" x2="281.20" y2="978.90" stroke="#231f20" stroke-width="0.6" />
<line x1="279.40" y1="966.80" x2="281.20" y2="966.80" stroke="#231f20" stroke-width="0.6" />
<line x1="279.40" y1="954.70" x2="281.20" y2="954.70" stroke="#231f20" stroke-width="0.6" />
<line x1="278.20" y1="942.60" x2="281.20" y2="942.60" stroke="#231f20" stroke-width="0.6" />
<text x="275.70" y="945.10" font-size="7.2" text-anchor="end" fill="#1c1a1b" font-weight="normal" font-style="normal" >0</text>
<text x="275.70" y="1005.60" font-size="7.2" text-anchor="end" fill="#1c1a1b" font-weight="normal" font-style="normal" >−0.05</text>
<text x="275.70" y="1066.10" font-size="7.2" text-anchor="end" fill="#1c1a1b" font-weight="normal" font-style="normal" >−0.10</text>
<line x1="281.20" y1="1063.60" x2="382.14" y2="1063.60" stroke="#231f20" stroke-width="0.8" />
<line x1="281.20" y1="1063.60" x2="281.20" y2="1066.60" stroke="#231f20" stroke-width="0.7" />
<text x="281.20" y="1074.60" font-size="7.2" text-anchor="middle" fill="#1c1a1b" font-weight="normal" font-style="normal" >0</text>
<line x1="300.80" y1="1063.60" x2="300.80" y2="1066.60" stroke="#231f20" stroke-width="0.7" />
<text x="300.80" y="1074.60" font-size="7.2" text-anchor="middle" fill="#1c1a1b" font-weight="normal" font-style="normal" >1</text>
<line x1="320.40" y1="1063.60" x2="320.40" y2="1066.60" stroke="#231f20" stroke-width="0.7" />
<text x="320.40" y="1074.60" font-size="7.2" text-anchor="middle" fill="#1c1a1b" font-weight="normal" font-style="normal" >2</text>
<line x1="340.00" y1="1063.60" x2="340.00" y2="1066.60" stroke="#231f20" stroke-width="0.7" />
<text x="340.00" y="1074.60" font-size="7.2" text-anchor="middle" fill="#1c1a1b" font-weight="normal" font-style="normal" >3</text>
<line x1="359.60" y1="1063.60" x2="359.60" y2="1066.60" stroke="#231f20" stroke-width="0.7" />
<text x="359.60" y="1074.60" font-size="7.2" text-anchor="middle" fill="#1c1a1b" font-weight="normal" font-style="normal" >4</text>
<line x1="379.20" y1="1063.60" x2="379.20" y2="1066.60" stroke="#231f20" stroke-width="0.7" />
<text x="379.20" y="1074.60" font-size="7.2" text-anchor="middle" fill="#1c1a1b" font-weight="normal" font-style="normal" >5</text>
<line x1="291.00" y1="1063.60" x2="291.00" y2="1065.40" stroke="#231f20" stroke-width="0.6" />
<line x1="310.60" y1="1063.60" x2="310.60" y2="1065.40" stroke="#231f20" stroke-width="0.6" />
<line x1="330.20" y1="1063.60" x2="330.20" y2="1065.40" stroke="#231f20" stroke-width="0.6" />
<line x1="349.80" y1="1063.60" x2="349.80" y2="1065.40" stroke="#231f20" stroke-width="0.6" />
<line x1="369.40" y1="1063.60" x2="369.40" y2="1065.40" stroke="#231f20" stroke-width="0.6" />
<text x="330.20" y="1085.60" font-size="7.4" text-anchor="middle" fill="#1c1a1b" font-weight="normal" font-style="normal" >Time (hour)</text>
<line x1="281.20" y1="942.60" x2="378.22" y2="942.60" stroke="#231f20" stroke-width="0.9" stroke-dasharray="1,1.1"/>
<path d="M281.20,942.60 L282.18,943.27 L283.16,944.24 L284.14,945.37 L285.12,946.60 L286.10,947.91 L287.08,949.29 L288.06,950.71 L289.04,952.18 L290.02,953.68 L291.00,955.21 L291.98,956.76 L292.96,958.32 L293.94,959.89 L294.92,961.48 L295.90,963.07 L296.88,964.66 L297.86,966.25 L298.84,967.84 L299.82,969.43 L300.80,971.01 L301.78,972.58 L302.76,974.14 L303.74,975.69 L304.72,977.22 L305.70,978.75 L306.68,980.26 L307.66,981.75 L308.64,983.23 L309.62,984.69 L310.60,986.13 L311.58,987.56 L312.56,988.96 L313.54,990.35 L314.52,991.72 L315.50,993.06 L316.48,994.39 L317.46,995.69 L318.44,996.98 L319.42,998.24 L320.40,999.48 L321.38,1000.71 L322.36,1001.90 L323.34,1003.08 L324.32,1004.24 L325.30,1005.37 L326.28,1006.49 L327.26,1007.58 L328.24,1008.65 L329.22,1009.70 L330.20,1010.73 L331.18,1011.74 L332.16,1012.72 L333.14,1013.69 L334.12,1014.64 L335.10,1015.56 L336.08,1016.47 L337.06,1017.35 L338.04,1018.22 L339.02,1019.07 L340.00,1019.90 L340.98,1020.70 L341.96,1021.50 L342.94,1022.27 L343.92,1023.02 L344.90,1023.76 L345.88,1024.48 L346.86,1025.18 L347.84,1025.86 L348.82,1026.53 L349.80,1027.18 L350.78,1027.82 L351.76,1028.44 L352.74,1029.04 L353.72,1029.63 L354.70,1030.20 L355.68,1030.76 L356.66,1031.30 L357.64,1031.83 L358.62,1032.35 L359.60,1032.85 L360.58,1033.34 L361.56,1033.82 L362.54,1034.28 L363.52,1034.73 L364.50,1035.17 L365.48,1035.60 L366.46,1036.02 L367.44,1036.42 L368.42,1036.81 L369.40,1037.19 L370.38,1037.57 L371.36,1037.93 L372.34,1038.28 L373.32,1038.62 L374.30,1038.95 L375.28,1039.27 L376.26,1039.58 L377.24,1039.88 L378.22,1040.18 L379.20,1040.47" fill="none" stroke="#f8c088" stroke-width="3.6" stroke-opacity="0.8"/>
<text x="282.18" y="945.17" font-size="5" text-anchor="middle" fill="#f8c088">+</text>
<text x="284.14" y="947.27" font-size="5" text-anchor="middle" fill="#f8c088">+</text>
<text x="286.10" y="949.81" font-size="5" text-anchor="middle" fill="#f8c088">+</text>
<text x="288.06" y="952.61" font-size="5" text-anchor="middle" fill="#f8c088">+</text>
<text x="290.02" y="955.58" font-size="5" text-anchor="middle" fill="#f8c088">+</text>
<text x="291.98" y="958.66" font-size="5" text-anchor="middle" fill="#f8c088">+</text>
<text x="293.94" y="961.79" font-size="5" text-anchor="middle" fill="#f8c088">+</text>
<text x="295.90" y="964.97" font-size="5" text-anchor="middle" fill="#f8c088">+</text>
<text x="297.86" y="968.15" font-size="5" text-anchor="middle" fill="#f8c088">+</text>
<text x="299.82" y="971.33" font-size="5" text-anchor="middle" fill="#f8c088">+</text>
<text x="301.78" y="974.48" font-size="5" text-anchor="middle" fill="#f8c088">+</text>
<text x="303.74" y="977.59" font-size="5" text-anchor="middle" fill="#f8c088">+</text>
<text x="305.70" y="980.65" font-size="5" text-anchor="middle" fill="#f8c088">+</text>
<text x="307.66" y="983.65" font-size="5" text-anchor="middle" fill="#f8c088">+</text>
<text x="309.62" y="986.59" font-size="5" text-anchor="middle" fill="#f8c088">+</text>
<text x="311.58" y="989.46" font-size="5" text-anchor="middle" fill="#f8c088">+</text>
<text x="313.54" y="992.25" font-size="5" text-anchor="middle" fill="#f8c088">+</text>
<text x="315.50" y="994.96" font-size="5" text-anchor="middle" fill="#f8c088">+</text>
<text x="317.46" y="997.59" font-size="5" text-anchor="middle" fill="#f8c088">+</text>
<text x="319.42" y="1000.14" font-size="5" text-anchor="middle" fill="#f8c088">+</text>
<text x="321.38" y="1002.61" font-size="5" text-anchor="middle" fill="#f8c088">+</text>
<text x="323.34" y="1004.98" font-size="5" text-anchor="middle" fill="#f8c088">+</text>
<text x="325.30" y="1007.27" font-size="5" text-anchor="middle" fill="#f8c088">+</text>
<text x="327.26" y="1009.48" font-size="5" text-anchor="middle" fill="#f8c088">+</text>
<text x="329.22" y="1011.60" font-size="5" text-anchor="middle" fill="#f8c088">+</text>
<text x="331.18" y="1013.64" font-size="5" text-anchor="middle" fill="#f8c088">+</text>
<text x="333.14" y="1015.59" font-size="5" text-anchor="middle" fill="#f8c088">+</text>
<text x="335.10" y="1017.46" font-size="5" text-anchor="middle" fill="#f8c088">+</text>
<text x="337.06" y="1019.25" font-size="5" text-anchor="middle" fill="#f8c088">+</text>
<text x="339.02" y="1020.97" font-size="5" text-anchor="middle" fill="#f8c088">+</text>
<text x="340.98" y="1022.60" font-size="5" text-anchor="middle" fill="#f8c088">+</text>
<text x="342.94" y="1024.17" font-size="5" text-anchor="middle" fill="#f8c088">+</text>
<text x="344.90" y="1025.66" font-size="5" text-anchor="middle" fill="#f8c088">+</text>
<text x="346.86" y="1027.08" font-size="5" text-anchor="middle" fill="#f8c088">+</text>
<text x="348.82" y="1028.43" font-size="5" text-anchor="middle" fill="#f8c088">+</text>
<text x="350.78" y="1029.72" font-size="5" text-anchor="middle" fill="#f8c088">+</text>
<text x="352.74" y="1030.94" font-size="5" text-anchor="middle" fill="#f8c088">+</text>
<text x="354.70" y="1032.10" font-size="5" text-anchor="middle" fill="#f8c088">+</text>
<text x="356.66" y="1033.20" font-size="5" text-anchor="middle" fill="#f8c088">+</text>
<text x="358.62" y="1034.25" font-size="5" text-anchor="middle" fill="#f8c088">+</text>
<text x="360.58" y="1035.24" font-size="5" text-anchor="middle" fill="#f8c088">+</text>
<text x="362.54" y="1036.18" font-size="5" text-anchor="middle" fill="#f8c088">+</text>
<text x="364.50" y="1037.07" font-size="5" text-anchor="middle" fill="#f8c088">+</text>
<text x="366.46" y="1037.92" font-size="5" text-anchor="middle" fill="#f8c088">+</text>
<text x="368.42" y="1038.71" font-size="5" text-anchor="middle" fill="#f8c088">+</text>
<text x="370.38" y="1039.47" font-size="5" text-anchor="middle" fill="#f8c088">+</text>
<text x="372.34" y="1040.18" font-size="5" text-anchor="middle" fill="#f8c088">+</text>
<text x="374.30" y="1040.85" font-size="5" text-anchor="middle" fill="#f8c088">+</text>
<text x="376.26" y="1041.48" font-size="5" text-anchor="middle" fill="#f8c088">+</text>
<text x="378.22" y="1042.08" font-size="5" text-anchor="middle" fill="#f8c088">+</text>
<path d="M281.20,942.60 L282.18,942.89 L283.16,943.18 L284.14,943.47 L285.12,943.76 L286.10,944.04 L287.08,944.32 L288.06,944.60 L289.04,944.88 L290.02,945.16 L291.00,945.44 L291.98,945.71 L292.96,945.98 L293.94,946.25 L294.92,946.52 L295.90,946.79 L296.88,947.06 L297.86,947.32 L298.84,947.58 L299.82,947.84 L300.80,948.10 L301.78,948.36 L302.76,948.62 L303.74,948.87 L304.72,949.12 L305.70,949.37 L306.68,949.62 L307.66,949.87 L308.64,950.12 L309.62,950.36 L310.60,950.61 L311.58,950.85 L312.56,951.09 L313.54,951.33 L314.52,951.56 L315.50,951.80 L316.48,952.03 L317.46,952.27 L318.44,952.50 L319.42,952.73 L320.40,952.96 L321.38,953.19 L322.36,953.41 L323.34,953.64 L324.32,953.86 L325.30,954.08 L326.28,954.30 L327.26,954.52 L328.24,954.74 L329.22,954.95 L330.20,955.17 L331.18,955.38 L332.16,955.59 L333.14,955.80 L334.12,956.01 L335.10,956.22 L336.08,956.43 L337.06,956.63 L338.04,956.84 L339.02,957.04 L340.00,957.24 L340.98,957.44 L341.96,957.64 L342.94,957.84 L343.92,958.04 L344.90,958.23 L345.88,958.43 L346.86,958.62 L347.84,958.81 L348.82,959.00 L349.80,959.19 L350.78,959.38 L351.76,959.57 L352.74,959.75 L353.72,959.94 L354.70,960.12 L355.68,960.31 L356.66,960.49 L357.64,960.67 L358.62,960.85 L359.60,961.02 L360.58,961.20 L361.56,961.38 L362.54,961.55 L363.52,961.73 L364.50,961.90 L365.48,962.07 L366.46,962.24 L367.44,962.41 L368.42,962.58 L369.40,962.75 L370.38,962.91 L371.36,963.08 L372.34,963.24 L373.32,963.40 L374.30,963.57 L375.28,963.73 L376.26,963.89 L377.24,964.05 L378.22,964.21 L379.20,964.36" fill="none" stroke="#6cbf4e" stroke-width="2.2" />
<text x="281.38" y="946.68" font-size="5.5" text-anchor="middle" fill="#5cc06e" fill-opacity="0.75">+</text>
<text x="283.34" y="949.32" font-size="5.5" text-anchor="middle" fill="#5cc06e" fill-opacity="0.75">+</text>
<text x="285.30" y="952.83" font-size="5.5" text-anchor="middle" fill="#5cc06e" fill-opacity="0.75">+</text>
<text x="287.26" y="956.90" font-size="5.5" text-anchor="middle" fill="#5cc06e" fill-opacity="0.75">+</text>
<text x="289.22" y="961.33" font-size="5.5" text-anchor="middle" fill="#5cc06e" fill-opacity="0.75">+</text>
<text x="291.18" y="965.98" font-size="5.5" text-anchor="middle" fill="#5cc06e" fill-opacity="0.75">+</text>
<text x="293.14" y="970.75" font-size="5.5" text-anchor="middle" fill="#5cc06e" fill-opacity="0.75">+</text>
<text x="295.10" y="975.57" font-size="5.5" text-anchor="middle" fill="#5cc06e" fill-opacity="0.75">+</text>
<text x="297.06" y="980.36" font-size="5.5" text-anchor="middle" fill="#5cc06e" fill-opacity="0.75">+</text>
<text x="299.02" y="985.09" font-size="5.5" text-anchor="middle" fill="#5cc06e" fill-opacity="0.75">+</text>
<text x="300.98" y="989.70" font-size="5.5" text-anchor="middle" fill="#5cc06e" fill-opacity="0.75">+</text>
<text x="302.94" y="994.16" font-size="5.5" text-anchor="middle" fill="#5cc06e" fill-opacity="0.75">+</text>
<text x="304.90" y="998.46" font-size="5.5" text-anchor="middle" fill="#5cc06e" fill-opacity="0.75">+</text>
<text x="306.86" y="1002.57" font-size="5.5" text-anchor="middle" fill="#5cc06e" fill-opacity="0.75">+</text>
<text x="308.82" y="1006.47" font-size="5.5" text-anchor="middle" fill="#5cc06e" fill-opacity="0.75">+</text>
<text x="310.78" y="1010.17" font-size="5.5" text-anchor="middle" fill="#5cc06e" fill-opacity="0.75">+</text>
<text x="312.74" y="1013.64" font-size="5.5" text-anchor="middle" fill="#5cc06e" fill-opacity="0.75">+</text>
<text x="314.70" y="1016.90" font-size="5.5" text-anchor="middle" fill="#5cc06e" fill-opacity="0.75">+</text>
<text x="316.66" y="1019.95" font-size="5.5" text-anchor="middle" fill="#5cc06e" fill-opacity="0.75">+</text>
<text x="318.62" y="1022.78" font-size="5.5" text-anchor="middle" fill="#5cc06e" fill-opacity="0.75">+</text>
<text x="320.58" y="1025.40" font-size="5.5" text-anchor="middle" fill="#5cc06e" fill-opacity="0.75">+</text>
<text x="322.54" y="1027.83" font-size="5.5" text-anchor="middle" fill="#5cc06e" fill-opacity="0.75">+</text>
<text x="324.50" y="1030.06" font-size="5.5" text-anchor="middle" fill="#5cc06e" fill-opacity="0.75">+</text>
<text x="326.46" y="1032.11" font-size="5.5" text-anchor="middle" fill="#5cc06e" fill-opacity="0.75">+</text>
<text x="328.42" y="1033.98" font-size="5.5" text-anchor="middle" fill="#5cc06e" fill-opacity="0.75">+</text>
<text x="330.38" y="1035.69" font-size="5.5" text-anchor="middle" fill="#5cc06e" fill-opacity="0.75">+</text>
<text x="332.34" y="1037.25" font-size="5.5" text-anchor="middle" fill="#5cc06e" fill-opacity="0.75">+</text>
<text x="334.30" y="1038.66" font-size="5.5" text-anchor="middle" fill="#5cc06e" fill-opacity="0.75">+</text>
<text x="336.26" y="1039.95" font-size="5.5" text-anchor="middle" fill="#5cc06e" fill-opacity="0.75">+</text>
<text x="338.22" y="1041.10" font-size="5.5" text-anchor="middle" fill="#5cc06e" fill-opacity="0.75">+</text>
<text x="340.18" y="1042.14" font-size="5.5" text-anchor="middle" fill="#5cc06e" fill-opacity="0.75">+</text>
<text x="342.14" y="1043.08" font-size="5.5" text-anchor="middle" fill="#5cc06e" fill-opacity="0.75">+</text>
<text x="344.10" y="1043.92" font-size="5.5" text-anchor="middle" fill="#5cc06e" fill-opacity="0.75">+</text>
<text x="346.06" y="1044.68" font-size="5.5" text-anchor="middle" fill="#5cc06e" fill-opacity="0.75">+</text>
<text x="348.02" y="1045.35" font-size="5.5" text-anchor="middle" fill="#5cc06e" fill-opacity="0.75">+</text>
<text x="349.98" y="1045.95" font-size="5.5" text-anchor="middle" fill="#5cc06e" fill-opacity="0.75">+</text>
<text x="351.94" y="1046.48" font-size="5.5" text-anchor="middle" fill="#5cc06e" fill-opacity="0.75">+</text>
<text x="353.90" y="1046.95" font-size="5.5" text-anchor="middle" fill="#5cc06e" fill-opacity="0.75">+</text>
<text x="355.86" y="1047.37" font-size="5.5" text-anchor="middle" fill="#5cc06e" fill-opacity="0.75">+</text>
<text x="357.82" y="1047.74" font-size="5.5" text-anchor="middle" fill="#5cc06e" fill-opacity="0.75">+</text>
<text x="359.78" y="1048.07" font-size="5.5" text-anchor="middle" fill="#5cc06e" fill-opacity="0.75">+</text>
<text x="361.74" y="1048.36" font-size="5.5" text-anchor="middle" fill="#5cc06e" fill-opacity="0.75">+</text>
<text x="363.70" y="1048.61" font-size="5.5" text-anchor="middle" fill="#5cc06e" fill-opacity="0.75">+</text>
<text x="365.66" y="1048.84" font-size="5.5" text-anchor="middle" fill="#5cc06e" fill-opacity="0.75">+</text>
<text x="367.62" y="1049.03" font-size="5.5" text-anchor="middle" fill="#5cc06e" fill-opacity="0.75">+</text>
<text x="369.58" y="1049.20" font-size="5.5" text-anchor="middle" fill="#5cc06e" fill-opacity="0.75">+</text>
<text x="371.54" y="1049.35" font-size="5.5" text-anchor="middle" fill="#5cc06e" fill-opacity="0.75">+</text>
<text x="373.50" y="1049.48" font-size="5.5" text-anchor="middle" fill="#5cc06e" fill-opacity="0.75">+</text>
<text x="375.46" y="1049.59" font-size="5.5" text-anchor="middle" fill="#5cc06e" fill-opacity="0.75">+</text>
<text x="377.42" y="1049.69" font-size="5.5" text-anchor="middle" fill="#5cc06e" fill-opacity="0.75">+</text>
<path d="M281.20,942.60 L282.18,943.28 L283.16,944.46 L284.14,945.92 L285.12,947.59 L286.10,949.43 L287.08,951.41 L288.06,953.50 L289.04,955.68 L290.02,957.93 L291.00,960.23 L291.98,962.58 L292.96,964.95 L293.94,967.35 L294.92,969.76 L295.90,972.17 L296.88,974.57 L297.86,976.96 L298.84,979.34 L299.82,981.69 L300.80,984.01 L301.78,986.30 L302.76,988.55 L303.74,990.76 L304.72,992.94 L305.70,995.06 L306.68,997.14 L307.66,999.17 L308.64,1001.15 L309.62,1003.07 L310.60,1004.95 L311.58,1006.77 L312.56,1008.53 L313.54,1010.24 L314.52,1011.90 L315.50,1013.50 L316.48,1015.05 L317.46,1016.55 L318.44,1017.99 L319.42,1019.38 L320.40,1020.72 L321.38,1022.00 L322.36,1023.24 L323.34,1024.43 L324.32,1025.57 L325.30,1026.66 L326.28,1027.70 L327.26,1028.71 L328.24,1029.67 L329.22,1030.58 L330.20,1031.46 L331.18,1032.29 L332.16,1033.09 L333.14,1033.85 L334.12,1034.58 L335.10,1035.26 L336.08,1035.92 L337.06,1036.55 L338.04,1037.14 L339.02,1037.70 L340.00,1038.24 L340.98,1038.74 L341.96,1039.23 L342.94,1039.68 L343.92,1040.11 L344.90,1040.52 L345.88,1040.91 L346.86,1041.28 L347.84,1041.62 L348.82,1041.95 L349.80,1042.26 L350.78,1042.55 L351.76,1042.82 L352.74,1043.08 L353.72,1043.32 L354.70,1043.55 L355.68,1043.77 L356.66,1043.97 L357.64,1044.16 L358.62,1044.34 L359.60,1044.51 L360.58,1044.67 L361.56,1044.82 L362.54,1044.96 L363.52,1045.09 L364.50,1045.21 L365.48,1045.33 L366.46,1045.44 L367.44,1045.54 L368.42,1045.63 L369.40,1045.72 L370.38,1045.80 L371.36,1045.88 L372.34,1045.95 L373.32,1046.02 L374.30,1046.08 L375.28,1046.14 L376.26,1046.19 L377.24,1046.25 L378.22,1046.29 L379.20,1046.34" fill="none" stroke="#1e7c3a" stroke-width="1.8" />
<text x="282.18" y="945.18" font-size="6" text-anchor="middle" fill="#1e7c3a">+</text>
<text x="284.14" y="947.82" font-size="6" text-anchor="middle" fill="#1e7c3a">+</text>
<text x="286.10" y="951.33" font-size="6" text-anchor="middle" fill="#1e7c3a">+</text>
<text x="288.06" y="955.40" font-size="6" text-anchor="middle" fill="#1e7c3a">+</text>
<text x="290.02" y="959.83" font-size="6" text-anchor="middle" fill="#1e7c3a">+</text>
<text x="291.98" y="964.48" font-size="6" text-anchor="middle" fill="#1e7c3a">+</text>
<text x="293.94" y="969.25" font-size="6" text-anchor="middle" fill="#1e7c3a">+</text>
<text x="295.90" y="974.07" font-size="6" text-anchor="middle" fill="#1e7c3a">+</text>
<text x="297.86" y="978.86" font-size="6" text-anchor="middle" fill="#1e7c3a">+</text>
<text x="299.82" y="983.59" font-size="6" text-anchor="middle" fill="#1e7c3a">+</text>
<text x="301.78" y="988.20" font-size="6" text-anchor="middle" fill="#1e7c3a">+</text>
<text x="303.74" y="992.66" font-size="6" text-anchor="middle" fill="#1e7c3a">+</text>
<text x="305.70" y="996.96" font-size="6" text-anchor="middle" fill="#1e7c3a">+</text>
<text x="307.66" y="1001.07" font-size="6" text-anchor="middle" fill="#1e7c3a">+</text>
<text x="309.62" y="1004.97" font-size="6" text-anchor="middle" fill="#1e7c3a">+</text>
<text x="311.58" y="1008.67" font-size="6" text-anchor="middle" fill="#1e7c3a">+</text>
<text x="313.54" y="1012.14" font-size="6" text-anchor="middle" fill="#1e7c3a">+</text>
<text x="315.50" y="1015.40" font-size="6" text-anchor="middle" fill="#1e7c3a">+</text>
<text x="317.46" y="1018.45" font-size="6" text-anchor="middle" fill="#1e7c3a">+</text>
<text x="319.42" y="1021.28" font-size="6" text-anchor="middle" fill="#1e7c3a">+</text>
<text x="321.38" y="1023.90" font-size="6" text-anchor="middle" fill="#1e7c3a">+</text>
<text x="323.34" y="1026.33" font-size="6" text-anchor="middle" fill="#1e7c3a">+</text>
<text x="325.30" y="1028.56" font-size="6" text-anchor="middle" fill="#1e7c3a">+</text>
<text x="327.26" y="1030.61" font-size="6" text-anchor="middle" fill="#1e7c3a">+</text>
<text x="329.22" y="1032.48" font-size="6" text-anchor="middle" fill="#1e7c3a">+</text>
<text x="331.18" y="1034.19" font-size="6" text-anchor="middle" fill="#1e7c3a">+</text>
<text x="333.14" y="1035.75" font-size="6" text-anchor="middle" fill="#1e7c3a">+</text>
<text x="335.10" y="1037.16" font-size="6" text-anchor="middle" fill="#1e7c3a">+</text>
<text x="337.06" y="1038.45" font-size="6" text-anchor="middle" fill="#1e7c3a">+</text>
<text x="339.02" y="1039.60" font-size="6" text-anchor="middle" fill="#1e7c3a">+</text>
<text x="340.98" y="1040.64" font-size="6" text-anchor="middle" fill="#1e7c3a">+</text>
<text x="342.94" y="1041.58" font-size="6" text-anchor="middle" fill="#1e7c3a">+</text>
<text x="344.90" y="1042.42" font-size="6" text-anchor="middle" fill="#1e7c3a">+</text>
<text x="346.86" y="1043.18" font-size="6" text-anchor="middle" fill="#1e7c3a">+</text>
<text x="348.82" y="1043.85" font-size="6" text-anchor="middle" fill="#1e7c3a">+</text>
<text x="350.78" y="1044.45" font-size="6" text-anchor="middle" fill="#1e7c3a">+</text>
<text x="352.74" y="1044.98" font-size="6" text-anchor="middle" fill="#1e7c3a">+</text>
<text x="354.70" y="1045.45" font-size="6" text-anchor="middle" fill="#1e7c3a">+</text>
<text x="356.66" y="1045.87" font-size="6" text-anchor="middle" fill="#1e7c3a">+</text>
<text x="358.62" y="1046.24" font-size="6" text-anchor="middle" fill="#1e7c3a">+</text>
<text x="360.58" y="1046.57" font-size="6" text-anchor="middle" fill="#1e7c3a">+</text>
<text x="362.54" y="1046.86" font-size="6" text-anchor="middle" fill="#1e7c3a">+</text>
<text x="364.50" y="1047.11" font-size="6" text-anchor="middle" fill="#1e7c3a">+</text>
<text x="366.46" y="1047.34" font-size="6" text-anchor="middle" fill="#1e7c3a">+</text>
<text x="368.42" y="1047.53" font-size="6" text-anchor="middle" fill="#1e7c3a">+</text>
<text x="370.38" y="1047.70" font-size="6" text-anchor="middle" fill="#1e7c3a">+</text>
<text x="372.34" y="1047.85" font-size="6" text-anchor="middle" fill="#1e7c3a">+</text>
<text x="374.30" y="1047.98" font-size="6" text-anchor="middle" fill="#1e7c3a">+</text>
<text x="376.26" y="1048.09" font-size="6" text-anchor="middle" fill="#1e7c3a">+</text>
<text x="378.22" y="1048.19" font-size="6" text-anchor="middle" fill="#1e7c3a">+</text>
<path d="M281.20,942.60 L282.18,943.28 L283.16,944.46 L284.14,945.92 L285.12,947.59 L286.10,949.43 L287.08,951.41 L288.06,953.50 L289.04,955.68 L290.02,957.93 L291.00,960.23 L291.98,962.58 L292.96,964.95 L293.94,967.35 L294.92,969.76 L295.90,972.17 L296.88,974.57 L297.86,976.96 L298.84,979.34 L299.82,981.69 L300.80,984.01 L301.78,986.30 L302.76,988.55 L303.74,990.76 L304.72,992.94 L305.70,995.06 L306.68,997.14 L307.66,999.17 L308.64,1001.15 L309.62,1003.07 L310.60,1004.95 L311.58,1006.77 L312.56,1008.53 L313.54,1010.24 L314.52,1011.90 L315.50,1013.50 L316.48,1015.05 L317.46,1016.55 L318.44,1017.99 L319.42,1019.38 L320.40,1020.72 L321.38,1022.00 L322.36,1023.24 L323.34,1024.43 L324.32,1025.57 L325.30,1026.66 L326.28,1027.70 L327.26,1028.71 L328.24,1029.67 L329.22,1030.58 L330.20,1031.46 L331.18,1032.29 L332.16,1033.09 L333.14,1033.85 L334.12,1034.58 L335.10,1035.26 L336.08,1035.92 L337.06,1036.55 L338.04,1037.14 L339.02,1037.70 L340.00,1038.24 L340.98,1038.74 L341.96,1039.23 L342.94,1039.68 L343.92,1040.11 L344.90,1040.52 L345.88,1040.91 L346.86,1041.28 L347.84,1041.62 L348.82,1041.95 L349.80,1042.26 L350.78,1042.55 L351.76,1042.82 L352.74,1043.08 L353.72,1043.32 L354.70,1043.55 L355.68,1043.77 L356.66,1043.97 L357.64,1044.16 L358.62,1044.34 L359.60,1044.51 L360.58,1044.67 L361.56,1044.82 L362.54,1044.96 L363.52,1045.09 L364.50,1045.21 L365.48,1045.33 L366.46,1045.44 L367.44,1045.54 L368.42,1045.63 L369.40,1045.72 L370.38,1045.80 L371.36,1045.88 L372.34,1045.95 L373.32,1046.02 L374.30,1046.08 L375.28,1046.14 L376.26,1046.19 L377.24,1046.25 L378.22,1046.29 L379.20,1046.34" fill="none" stroke="#d36b3b" stroke-width="1.0" />
<line x1="284.30" y1="902.90" x2="289.30" y2="902.90" stroke="#1e7c3a" stroke-width="0.8" />
<text x="293.30" y="905.40" font-size="7.2" text-anchor="start" fill="#1e7c3a" font-weight="normal" font-style="normal" >R140Q</text>
<line x1="284.30" y1="910.75" x2="289.30" y2="910.75" stroke="#d36b3b" stroke-width="0.8" />
<text x="293.30" y="913.25" font-size="7.2" text-anchor="start" fill="#d36b3b" font-weight="normal" font-style="normal" >R140Q + E343V</text>
<line x1="284.30" y1="918.60" x2="289.30" y2="918.60" stroke="#5fbf5f" stroke-width="0.8" />
<text x="293.30" y="921.10" font-size="7.2" text-anchor="start" fill="#5fbf5f" font-weight="normal" font-style="normal" >R140Q</text>
<line x1="284.30" y1="926.45" x2="289.30" y2="926.45" stroke="#f2a860" stroke-width="0.8" />
<text x="293.30" y="928.95" font-size="7.2" text-anchor="start" fill="#f2a860" font-weight="normal" font-style="normal" >R140Q + E343V</text>
<line x1="349.60" y1="901.30" x2="349.60" y2="912.40" stroke="#231f20" stroke-width="0.8" />
<line x1="349.60" y1="917.30" x2="349.60" y2="929.40" stroke="#231f20" stroke-width="0.8" />
<text x="351.80" y="910.10" font-size="7.5" text-anchor="start" fill="#1c1a1b" font-weight="normal" font-style="normal" >+ DMSO</text>
<text x="351.80" y="926.20" font-size="7.5" text-anchor="start" fill="#1c1a1b" font-weight="normal" font-style="normal" >+ AG-221</text>
<line x1="411.20" y1="1063.60" x2="411.20" y2="930.50" stroke="#231f20" stroke-width="0.8" />
<line x1="408.20" y1="1063.60" x2="411.20" y2="1063.60" stroke="#231f20" stroke-width="0.6" />
<line x1="409.40" y1="1051.50" x2="411.20" y2="1051.50" stroke="#231f20" stroke-width="0.6" />
<line x1="409.40" y1="1039.40" x2="411.20" y2="1039.40" stroke="#231f20" stroke-width="0.6" />
<line x1="409.40" y1="1027.30" x2="411.20" y2="1027.30" stroke="#231f20" stroke-width="0.6" />
<line x1="409.40" y1="1015.20" x2="411.20" y2="1015.20" stroke="#231f20" stroke-width="0.6" />
<line x1="408.20" y1="1003.10" x2="411.20" y2="1003.10" stroke="#231f20" stroke-width="0.6" />
<line x1="409.40" y1="991.00" x2="411.20" y2="991.00" stroke="#231f20" stroke-width="0.6" />
<line x1="409.40" y1="978.90" x2="411.20" y2="978.90" stroke="#231f20" stroke-width="0.6" />
<line x1="409.40" y1="966.80" x2="411.20" y2="966.80" stroke="#231f20" stroke-width="0.6" />
<line x1="409.40" y1="954.70" x2="411.20" y2="954.70" stroke="#231f20" stroke-width="0.6" />
<line x1="408.20" y1="942.60" x2="411.20" y2="942.60" stroke="#231f20" stroke-width="0.6" />
<text x="405.70" y="945.10" font-size="7.2" text-anchor="end" fill="#1c1a1b" font-weight="normal" font-style="normal" >0</text>
<text x="405.70" y="1005.60" font-size="7.2" text-anchor="end" fill="#1c1a1b" font-weight="normal" font-style="normal" >−0.05</text>
<text x="405.70" y="1066.10" font-size="7.2" text-anchor="end" fill="#1c1a1b" font-weight="normal" font-style="normal" >−0.10</text>
<line x1="411.20" y1="1063.60" x2="512.14" y2="1063.60" stroke="#231f20" stroke-width="0.8" />
<line x1="411.20" y1="1063.60" x2="411.20" y2="1066.60" stroke="#231f20" stroke-width="0.7" />
<text x="411.20" y="1074.60" font-size="7.2" text-anchor="middle" fill="#1c1a1b" font-weight="normal" font-style="normal" >0</text>
<line x1="430.80" y1="1063.60" x2="430.80" y2="1066.60" stroke="#231f20" stroke-width="0.7" />
<text x="430.80" y="1074.60" font-size="7.2" text-anchor="middle" fill="#1c1a1b" font-weight="normal" font-style="normal" >1</text>
<line x1="450.40" y1="1063.60" x2="450.40" y2="1066.60" stroke="#231f20" stroke-width="0.7" />
<text x="450.40" y="1074.60" font-size="7.2" text-anchor="middle" fill="#1c1a1b" font-weight="normal" font-style="normal" >2</text>
<line x1="470.00" y1="1063.60" x2="470.00" y2="1066.60" stroke="#231f20" stroke-width="0.7" />
<text x="470.00" y="1074.60" font-size="7.2" text-anchor="middle" fill="#1c1a1b" font-weight="normal" font-style="normal" >3</text>
<line x1="489.60" y1="1063.60" x2="489.60" y2="1066.60" stroke="#231f20" stroke-width="0.7" />
<text x="489.60" y="1074.60" font-size="7.2" text-anchor="middle" fill="#1c1a1b" font-weight="normal" font-style="normal" >4</text>
<line x1="509.20" y1="1063.60" x2="509.20" y2="1066.60" stroke="#231f20" stroke-width="0.7" />
<text x="509.20" y="1074.60" font-size="7.2" text-anchor="middle" fill="#1c1a1b" font-weight="normal" font-style="normal" >5</text>
<line x1="421.00" y1="1063.60" x2="421.00" y2="1065.40" stroke="#231f20" stroke-width="0.6" />
<line x1="440.60" y1="1063.60" x2="440.60" y2="1065.40" stroke="#231f20" stroke-width="0.6" />
<line x1="460.20" y1="1063.60" x2="460.20" y2="1065.40" stroke="#231f20" stroke-width="0.6" />
<line x1="479.80" y1="1063.60" x2="479.80" y2="1065.40" stroke="#231f20" stroke-width="0.6" />
<line x1="499.40" y1="1063.60" x2="499.40" y2="1065.40" stroke="#231f20" stroke-width="0.6" />
<text x="460.20" y="1085.60" font-size="7.4" text-anchor="middle" fill="#1c1a1b" font-weight="normal" font-style="normal" >Time (hour)</text>
<line x1="411.20" y1="942.60" x2="508.22" y2="942.60" stroke="#231f20" stroke-width="0.9" stroke-dasharray="1,1.1"/>
<path d="M411.20,942.60 L412.18,943.26 L413.16,944.21 L414.14,945.31 L415.12,946.52 L416.10,947.81 L417.08,949.15 L418.06,950.55 L419.04,951.99 L420.02,953.46 L421.00,954.96 L421.98,956.48 L422.96,958.02 L423.94,959.57 L424.92,961.12 L425.90,962.69 L426.88,964.25 L427.86,965.82 L428.84,967.39 L429.82,968.95 L430.80,970.50 L431.78,972.05 L432.76,973.59 L433.74,975.12 L434.72,976.64 L435.70,978.14 L436.68,979.63 L437.66,981.11 L438.64,982.57 L439.62,984.01 L440.60,985.44 L441.58,986.85 L442.56,988.25 L443.54,989.62 L444.52,990.98 L445.50,992.31 L446.48,993.63 L447.46,994.92 L448.44,996.20 L449.42,997.46 L450.40,998.69 L451.38,999.91 L452.36,1001.10 L453.34,1002.27 L454.32,1003.43 L455.30,1004.56 L456.28,1005.67 L457.26,1006.76 L458.24,1007.83 L459.22,1008.88 L460.20,1009.91 L461.18,1010.92 L462.16,1011.90 L463.14,1012.87 L464.12,1013.82 L465.10,1014.75 L466.08,1015.66 L467.06,1016.55 L468.04,1017.42 L469.02,1018.27 L470.00,1019.10 L470.98,1019.92 L471.96,1020.71 L472.94,1021.49 L473.92,1022.25 L474.90,1022.99 L475.88,1023.72 L476.86,1024.42 L477.84,1025.12 L478.82,1025.79 L479.80,1026.45 L480.78,1027.09 L481.76,1027.72 L482.74,1028.33 L483.72,1028.93 L484.70,1029.51 L485.68,1030.08 L486.66,1030.63 L487.64,1031.17 L488.62,1031.70 L489.60,1032.21 L490.58,1032.71 L491.56,1033.19 L492.54,1033.66 L493.52,1034.13 L494.50,1034.57 L495.48,1035.01 L496.46,1035.43 L497.44,1035.85 L498.42,1036.25 L499.40,1036.64 L500.38,1037.02 L501.36,1037.39 L502.34,1037.75 L503.32,1038.10 L504.30,1038.44 L505.28,1038.77 L506.26,1039.09 L507.24,1039.41 L508.22,1039.71 L509.20,1040.00" fill="none" stroke="#d7a6e0" stroke-width="3.6" stroke-opacity="0.8"/>
<text x="412.18" y="945.16" font-size="5" text-anchor="middle" fill="#d7a6e0">+</text>
<text x="414.14" y="947.21" font-size="5" text-anchor="middle" fill="#d7a6e0">+</text>
<text x="416.10" y="949.71" font-size="5" text-anchor="middle" fill="#d7a6e0">+</text>
<text x="418.06" y="952.45" font-size="5" text-anchor="middle" fill="#d7a6e0">+</text>
<text x="420.02" y="955.36" font-size="5" text-anchor="middle" fill="#d7a6e0">+</text>
<text x="421.98" y="958.38" font-size="5" text-anchor="middle" fill="#d7a6e0">+</text>
<text x="423.94" y="961.47" font-size="5" text-anchor="middle" fill="#d7a6e0">+</text>
<text x="425.90" y="964.59" font-size="5" text-anchor="middle" fill="#d7a6e0">+</text>
<text x="427.86" y="967.72" font-size="5" text-anchor="middle" fill="#d7a6e0">+</text>
<text x="429.82" y="970.85" font-size="5" text-anchor="middle" fill="#d7a6e0">+</text>
<text x="431.78" y="973.95" font-size="5" text-anchor="middle" fill="#d7a6e0">+</text>
<text x="433.74" y="977.02" font-size="5" text-anchor="middle" fill="#d7a6e0">+</text>
<text x="435.70" y="980.04" font-size="5" text-anchor="middle" fill="#d7a6e0">+</text>
<text x="437.66" y="983.01" font-size="5" text-anchor="middle" fill="#d7a6e0">+</text>
<text x="439.62" y="985.91" font-size="5" text-anchor="middle" fill="#d7a6e0">+</text>
<text x="441.58" y="988.75" font-size="5" text-anchor="middle" fill="#d7a6e0">+</text>
<text x="443.54" y="991.52" font-size="5" text-anchor="middle" fill="#d7a6e0">+</text>
<text x="445.50" y="994.21" font-size="5" text-anchor="middle" fill="#d7a6e0">+</text>
<text x="447.46" y="996.82" font-size="5" text-anchor="middle" fill="#d7a6e0">+</text>
<text x="449.42" y="999.36" font-size="5" text-anchor="middle" fill="#d7a6e0">+</text>
<text x="451.38" y="1001.81" font-size="5" text-anchor="middle" fill="#d7a6e0">+</text>
<text x="453.34" y="1004.17" font-size="5" text-anchor="middle" fill="#d7a6e0">+</text>
<text x="455.30" y="1006.46" font-size="5" text-anchor="middle" fill="#d7a6e0">+</text>
<text x="457.26" y="1008.66" font-size="5" text-anchor="middle" fill="#d7a6e0">+</text>
<text x="459.22" y="1010.78" font-size="5" text-anchor="middle" fill="#d7a6e0">+</text>
<text x="461.18" y="1012.82" font-size="5" text-anchor="middle" fill="#d7a6e0">+</text>
<text x="463.14" y="1014.77" font-size="5" text-anchor="middle" fill="#d7a6e0">+</text>
<text x="465.10" y="1016.65" font-size="5" text-anchor="middle" fill="#d7a6e0">+</text>
<text x="467.06" y="1018.45" font-size="5" text-anchor="middle" fill="#d7a6e0">+</text>
<text x="469.02" y="1020.17" font-size="5" text-anchor="middle" fill="#d7a6e0">+</text>
<text x="470.98" y="1021.82" font-size="5" text-anchor="middle" fill="#d7a6e0">+</text>
<text x="472.94" y="1023.39" font-size="5" text-anchor="middle" fill="#d7a6e0">+</text>
<text x="474.90" y="1024.89" font-size="5" text-anchor="middle" fill="#d7a6e0">+</text>
<text x="476.86" y="1026.32" font-size="5" text-anchor="middle" fill="#d7a6e0">+</text>
<text x="478.82" y="1027.69" font-size="5" text-anchor="middle" fill="#d7a6e0">+</text>
<text x="480.78" y="1028.99" font-size="5" text-anchor="middle" fill="#d7a6e0">+</text>
<text x="482.74" y="1030.23" font-size="5" text-anchor="middle" fill="#d7a6e0">+</text>
<text x="484.70" y="1031.41" font-size="5" text-anchor="middle" fill="#d7a6e0">+</text>
<text x="486.66" y="1032.53" font-size="5" text-anchor="middle" fill="#d7a6e0">+</text>
<text x="488.62" y="1033.60" font-size="5" text-anchor="middle" fill="#d7a6e0">+</text>
<text x="490.58" y="1034.61" font-size="5" text-anchor="middle" fill="#d7a6e0">+</text>
<text x="492.54" y="1035.56" font-size="5" text-anchor="middle" fill="#d7a6e0">+</text>
<text x="494.50" y="1036.47" font-size="5" text-anchor="middle" fill="#d7a6e0">+</text>
<text x="496.46" y="1037.33" font-size="5" text-anchor="middle" fill="#d7a6e0">+</text>
<text x="498.42" y="1038.15" font-size="5" text-anchor="middle" fill="#d7a6e0">+</text>
<text x="500.38" y="1038.92" font-size="5" text-anchor="middle" fill="#d7a6e0">+</text>
<text x="502.34" y="1039.65" font-size="5" text-anchor="middle" fill="#d7a6e0">+</text>
<text x="504.30" y="1040.34" font-size="5" text-anchor="middle" fill="#d7a6e0">+</text>
<text x="506.26" y="1040.99" font-size="5" text-anchor="middle" fill="#d7a6e0">+</text>
<text x="508.22" y="1041.61" font-size="5" text-anchor="middle" fill="#d7a6e0">+</text>
<path d="M411.20,942.60 L412.18,942.89 L413.16,943.18 L414.14,943.47 L415.12,943.76 L416.10,944.04 L417.08,944.32 L418.06,944.60 L419.04,944.88 L420.02,945.16 L421.00,945.44 L421.98,945.71 L422.96,945.98 L423.94,946.25 L424.92,946.52 L425.90,946.79 L426.88,947.06 L427.86,947.32 L428.84,947.58 L429.82,947.84 L430.80,948.10 L431.78,948.36 L432.76,948.62 L433.74,948.87 L434.72,949.12 L435.70,949.37 L436.68,949.62 L437.66,949.87 L438.64,950.12 L439.62,950.36 L440.60,950.61 L441.58,950.85 L442.56,951.09 L443.54,951.33 L444.52,951.56 L445.50,951.80 L446.48,952.03 L447.46,952.27 L448.44,952.50 L449.42,952.73 L450.40,952.96 L451.38,953.19 L452.36,953.41 L453.34,953.64 L454.32,953.86 L455.30,954.08 L456.28,954.30 L457.26,954.52 L458.24,954.74 L459.22,954.95 L460.20,955.17 L461.18,955.38 L462.16,955.59 L463.14,955.80 L464.12,956.01 L465.10,956.22 L466.08,956.43 L467.06,956.63 L468.04,956.84 L469.02,957.04 L470.00,957.24 L470.98,957.44 L471.96,957.64 L472.94,957.84 L473.92,958.04 L474.90,958.23 L475.88,958.43 L476.86,958.62 L477.84,958.81 L478.82,959.00 L479.80,959.19 L480.78,959.38 L481.76,959.57 L482.74,959.75 L483.72,959.94 L484.70,960.12 L485.68,960.31 L486.66,960.49 L487.64,960.67 L488.62,960.85 L489.60,961.02 L490.58,961.20 L491.56,961.38 L492.54,961.55 L493.52,961.73 L494.50,961.90 L495.48,962.07 L496.46,962.24 L497.44,962.41 L498.42,962.58 L499.40,962.75 L500.38,962.91 L501.36,963.08 L502.34,963.24 L503.32,963.40 L504.30,963.57 L505.28,963.73 L506.26,963.89 L507.24,964.05 L508.22,964.21 L509.20,964.36" fill="none" stroke="#6cbf4e" stroke-width="2.2" />
<text x="411.38" y="946.68" font-size="5.5" text-anchor="middle" fill="#5cc06e" fill-opacity="0.75">+</text>
<text x="413.34" y="949.32" font-size="5.5" text-anchor="middle" fill="#5cc06e" fill-opacity="0.75">+</text>
<text x="415.30" y="952.83" font-size="5.5" text-anchor="middle" fill="#5cc06e" fill-opacity="0.75">+</text>
<text x="417.26" y="956.90" font-size="5.5" text-anchor="middle" fill="#5cc06e" fill-opacity="0.75">+</text>
<text x="419.22" y="961.33" font-size="5.5" text-anchor="middle" fill="#5cc06e" fill-opacity="0.75">+</text>
<text x="421.18" y="965.98" font-size="5.5" text-anchor="middle" fill="#5cc06e" fill-opacity="0.75">+</text>
<text x="423.14" y="970.75" font-size="5.5" text-anchor="middle" fill="#5cc06e" fill-opacity="0.75">+</text>
<text x="425.10" y="975.57" font-size="5.5" text-anchor="middle" fill="#5cc06e" fill-opacity="0.75">+</text>
<text x="427.06" y="980.36" font-size="5.5" text-anchor="middle" fill="#5cc06e" fill-opacity="0.75">+</text>
<text x="429.02" y="985.09" font-size="5.5" text-anchor="middle" fill="#5cc06e" fill-opacity="0.75">+</text>
<text x="430.98" y="989.70" font-size="5.5" text-anchor="middle" fill="#5cc06e" fill-opacity="0.75">+</text>
<text x="432.94" y="994.16" font-size="5.5" text-anchor="middle" fill="#5cc06e" fill-opacity="0.75">+</text>
<text x="434.90" y="998.46" font-size="5.5" text-anchor="middle" fill="#5cc06e" fill-opacity="0.75">+</text>
<text x="436.86" y="1002.57" font-size="5.5" text-anchor="middle" fill="#5cc06e" fill-opacity="0.75">+</text>
<text x="438.82" y="1006.47" font-size="5.5" text-anchor="middle" fill="#5cc06e" fill-opacity="0.75">+</text>
<text x="440.78" y="1010.17" font-size="5.5" text-anchor="middle" fill="#5cc06e" fill-opacity="0.75">+</text>
<text x="442.74" y="1013.64" font-size="5.5" text-anchor="middle" fill="#5cc06e" fill-opacity="0.75">+</text>
<text x="444.70" y="1016.90" font-size="5.5" text-anchor="middle" fill="#5cc06e" fill-opacity="0.75">+</text>
<text x="446.66" y="1019.95" font-size="5.5" text-anchor="middle" fill="#5cc06e" fill-opacity="0.75">+</text>
<text x="448.62" y="1022.78" font-size="5.5" text-anchor="middle" fill="#5cc06e" fill-opacity="0.75">+</text>
<text x="450.58" y="1025.40" font-size="5.5" text-anchor="middle" fill="#5cc06e" fill-opacity="0.75">+</text>
<text x="452.54" y="1027.83" font-size="5.5" text-anchor="middle" fill="#5cc06e" fill-opacity="0.75">+</text>
<text x="454.50" y="1030.06" font-size="5.5" text-anchor="middle" fill="#5cc06e" fill-opacity="0.75">+</text>
<text x="456.46" y="1032.11" font-size="5.5" text-anchor="middle" fill="#5cc06e" fill-opacity="0.75">+</text>
<text x="458.42" y="1033.98" font-size="5.5" text-anchor="middle" fill="#5cc06e" fill-opacity="0.75">+</text>
<text x="460.38" y="1035.69" font-size="5.5" text-anchor="middle" fill="#5cc06e" fill-opacity="0.75">+</text>
<text x="462.34" y="1037.25" font-size="5.5" text-anchor="middle" fill="#5cc06e" fill-opacity="0.75">+</text>
<text x="464.30" y="1038.66" font-size="5.5" text-anchor="middle" fill="#5cc06e" fill-opacity="0.75">+</text>
<text x="466.26" y="1039.95" font-size="5.5" text-anchor="middle" fill="#5cc06e" fill-opacity="0.75">+</text>
<text x="468.22" y="1041.10" font-size="5.5" text-anchor="middle" fill="#5cc06e" fill-opacity="0.75">+</text>
<text x="470.18" y="1042.14" font-size="5.5" text-anchor="middle" fill="#5cc06e" fill-opacity="0.75">+</text>
<text x="472.14" y="1043.08" font-size="5.5" text-anchor="middle" fill="#5cc06e" fill-opacity="0.75">+</text>
<text x="474.10" y="1043.92" font-size="5.5" text-anchor="middle" fill="#5cc06e" fill-opacity="0.75">+</text>
<text x="476.06" y="1044.68" font-size="5.5" text-anchor="middle" fill="#5cc06e" fill-opacity="0.75">+</text>
<text x="478.02" y="1045.35" font-size="5.5" text-anchor="middle" fill="#5cc06e" fill-opacity="0.75">+</text>
<text x="479.98" y="1045.95" font-size="5.5" text-anchor="middle" fill="#5cc06e" fill-opacity="0.75">+</text>
<text x="481.94" y="1046.48" font-size="5.5" text-anchor="middle" fill="#5cc06e" fill-opacity="0.75">+</text>
<text x="483.90" y="1046.95" font-size="5.5" text-anchor="middle" fill="#5cc06e" fill-opacity="0.75">+</text>
<text x="485.86" y="1047.37" font-size="5.5" text-anchor="middle" fill="#5cc06e" fill-opacity="0.75">+</text>
<text x="487.82" y="1047.74" font-size="5.5" text-anchor="middle" fill="#5cc06e" fill-opacity="0.75">+</text>
<text x="489.78" y="1048.07" font-size="5.5" text-anchor="middle" fill="#5cc06e" fill-opacity="0.75">+</text>
<text x="491.74" y="1048.36" font-size="5.5" text-anchor="middle" fill="#5cc06e" fill-opacity="0.75">+</text>
<text x="493.70" y="1048.61" font-size="5.5" text-anchor="middle" fill="#5cc06e" fill-opacity="0.75">+</text>
<text x="495.66" y="1048.84" font-size="5.5" text-anchor="middle" fill="#5cc06e" fill-opacity="0.75">+</text>
<text x="497.62" y="1049.03" font-size="5.5" text-anchor="middle" fill="#5cc06e" fill-opacity="0.75">+</text>
<text x="499.58" y="1049.20" font-size="5.5" text-anchor="middle" fill="#5cc06e" fill-opacity="0.75">+</text>
<text x="501.54" y="1049.35" font-size="5.5" text-anchor="middle" fill="#5cc06e" fill-opacity="0.75">+</text>
<text x="503.50" y="1049.48" font-size="5.5" text-anchor="middle" fill="#5cc06e" fill-opacity="0.75">+</text>
<text x="505.46" y="1049.59" font-size="5.5" text-anchor="middle" fill="#5cc06e" fill-opacity="0.75">+</text>
<text x="507.42" y="1049.69" font-size="5.5" text-anchor="middle" fill="#5cc06e" fill-opacity="0.75">+</text>
<path d="M411.20,942.60 L412.18,943.28 L413.16,944.46 L414.14,945.92 L415.12,947.59 L416.10,949.43 L417.08,951.41 L418.06,953.50 L419.04,955.68 L420.02,957.93 L421.00,960.23 L421.98,962.58 L422.96,964.95 L423.94,967.35 L424.92,969.76 L425.90,972.17 L426.88,974.57 L427.86,976.96 L428.84,979.34 L429.82,981.69 L430.80,984.01 L431.78,986.30 L432.76,988.55 L433.74,990.76 L434.72,992.94 L435.70,995.06 L436.68,997.14 L437.66,999.17 L438.64,1001.15 L439.62,1003.07 L440.60,1004.95 L441.58,1006.77 L442.56,1008.53 L443.54,1010.24 L444.52,1011.90 L445.50,1013.50 L446.48,1015.05 L447.46,1016.55 L448.44,1017.99 L449.42,1019.38 L450.40,1020.72 L451.38,1022.00 L452.36,1023.24 L453.34,1024.43 L454.32,1025.57 L455.30,1026.66 L456.28,1027.70 L457.26,1028.71 L458.24,1029.67 L459.22,1030.58 L460.20,1031.46 L461.18,1032.29 L462.16,1033.09 L463.14,1033.85 L464.12,1034.58 L465.10,1035.26 L466.08,1035.92 L467.06,1036.55 L468.04,1037.14 L469.02,1037.70 L470.00,1038.24 L470.98,1038.74 L471.96,1039.23 L472.94,1039.68 L473.92,1040.11 L474.90,1040.52 L475.88,1040.91 L476.86,1041.28 L477.84,1041.62 L478.82,1041.95 L479.80,1042.26 L480.78,1042.55 L481.76,1042.82 L482.74,1043.08 L483.72,1043.32 L484.70,1043.55 L485.68,1043.77 L486.66,1043.97 L487.64,1044.16 L488.62,1044.34 L489.60,1044.51 L490.58,1044.67 L491.56,1044.82 L492.54,1044.96 L493.52,1045.09 L494.50,1045.21 L495.48,1045.33 L496.46,1045.44 L497.44,1045.54 L498.42,1045.63 L499.40,1045.72 L500.38,1045.80 L501.36,1045.88 L502.34,1045.95 L503.32,1046.02 L504.30,1046.08 L505.28,1046.14 L506.26,1046.19 L507.24,1046.25 L508.22,1046.29 L509.20,1046.34" fill="none" stroke="#1e7c3a" stroke-width="1.8" />
<text x="412.18" y="945.18" font-size="6" text-anchor="middle" fill="#1e7c3a">+</text>
<text x="414.14" y="947.82" font-size="6" text-anchor="middle" fill="#1e7c3a">+</text>
<text x="416.10" y="951.33" font-size="6" text-anchor="middle" fill="#1e7c3a">+</text>
<text x="418.06" y="955.40" font-size="6" text-anchor="middle" fill="#1e7c3a">+</text>
<text x="420.02" y="959.83" font-size="6" text-anchor="middle" fill="#1e7c3a">+</text>
<text x="421.98" y="964.48" font-size="6" text-anchor="middle" fill="#1e7c3a">+</text>
<text x="423.94" y="969.25" font-size="6" text-anchor="middle" fill="#1e7c3a">+</text>
<text x="425.90" y="974.07" font-size="6" text-anchor="middle" fill="#1e7c3a">+</text>
<text x="427.86" y="978.86" font-size="6" text-anchor="middle" fill="#1e7c3a">+</text>
<text x="429.82" y="983.59" font-size="6" text-anchor="middle" fill="#1e7c3a">+</text>
<text x="431.78" y="988.20" font-size="6" text-anchor="middle" fill="#1e7c3a">+</text>
<text x="433.74" y="992.66" font-size="6" text-anchor="middle" fill="#1e7c3a">+</text>
<text x="435.70" y="996.96" font-size="6" text-anchor="middle" fill="#1e7c3a">+</text>
<text x="437.66" y="1001.07" font-size="6" text-anchor="middle" fill="#1e7c3a">+</text>
<text x="439.62" y="1004.97" font-size="6" text-anchor="middle" fill="#1e7c3a">+</text>
<text x="441.58" y="1008.67" font-size="6" text-anchor="middle" fill="#1e7c3a">+</text>
<text x="443.54" y="1012.14" font-size="6" text-anchor="middle" fill="#1e7c3a">+</text>
<text x="445.50" y="1015.40" font-size="6" text-anchor="middle" fill="#1e7c3a">+</text>
<text x="447.46" y="1018.45" font-size="6" text-anchor="middle" fill="#1e7c3a">+</text>
<text x="449.42" y="1021.28" font-size="6" text-anchor="middle" fill="#1e7c3a">+</text>
<text x="451.38" y="1023.90" font-size="6" text-anchor="middle" fill="#1e7c3a">+</text>
<text x="453.34" y="1026.33" font-size="6" text-anchor="middle" fill="#1e7c3a">+</text>
<text x="455.30" y="1028.56" font-size="6" text-anchor="middle" fill="#1e7c3a">+</text>
<text x="457.26" y="1030.61" font-size="6" text-anchor="middle" fill="#1e7c3a">+</text>
<text x="459.22" y="1032.48" font-size="6" text-anchor="middle" fill="#1e7c3a">+</text>
<text x="461.18" y="1034.19" font-size="6" text-anchor="middle" fill="#1e7c3a">+</text>
<text x="463.14" y="1035.75" font-size="6" text-anchor="middle" fill="#1e7c3a">+</text>
<text x="465.10" y="1037.16" font-size="6" text-anchor="middle" fill="#1e7c3a">+</text>
<text x="467.06" y="1038.45" font-size="6" text-anchor="middle" fill="#1e7c3a">+</text>
<text x="469.02" y="1039.60" font-size="6" text-anchor="middle" fill="#1e7c3a">+</text>
<text x="470.98" y="1040.64" font-size="6" text-anchor="middle" fill="#1e7c3a">+</text>
<text x="472.94" y="1041.58" font-size="6" text-anchor="middle" fill="#1e7c3a">+</text>
<text x="474.90" y="1042.42" font-size="6" text-anchor="middle" fill="#1e7c3a">+</text>
<text x="476.86" y="1043.18" font-size="6" text-anchor="middle" fill="#1e7c3a">+</text>
<text x="478.82" y="1043.85" font-size="6" text-anchor="middle" fill="#1e7c3a">+</text>
<text x="480.78" y="1044.45" font-size="6" text-anchor="middle" fill="#1e7c3a">+</text>
<text x="482.74" y="1044.98" font-size="6" text-anchor="middle" fill="#1e7c3a">+</text>
<text x="484.70" y="1045.45" font-size="6" text-anchor="middle" fill="#1e7c3a">+</text>
<text x="486.66" y="1045.87" font-size="6" text-anchor="middle" fill="#1e7c3a">+</text>
<text x="488.62" y="1046.24" font-size="6" text-anchor="middle" fill="#1e7c3a">+</text>
<text x="490.58" y="1046.57" font-size="6" text-anchor="middle" fill="#1e7c3a">+</text>
<text x="492.54" y="1046.86" font-size="6" text-anchor="middle" fill="#1e7c3a">+</text>
<text x="494.50" y="1047.11" font-size="6" text-anchor="middle" fill="#1e7c3a">+</text>
<text x="496.46" y="1047.34" font-size="6" text-anchor="middle" fill="#1e7c3a">+</text>
<text x="498.42" y="1047.53" font-size="6" text-anchor="middle" fill="#1e7c3a">+</text>
<text x="500.38" y="1047.70" font-size="6" text-anchor="middle" fill="#1e7c3a">+</text>
<text x="502.34" y="1047.85" font-size="6" text-anchor="middle" fill="#1e7c3a">+</text>
<text x="504.30" y="1047.98" font-size="6" text-anchor="middle" fill="#1e7c3a">+</text>
<text x="506.26" y="1048.09" font-size="6" text-anchor="middle" fill="#1e7c3a">+</text>
<text x="508.22" y="1048.19" font-size="6" text-anchor="middle" fill="#1e7c3a">+</text>
<path d="M411.20,942.60 L412.18,943.20 L413.16,944.13 L414.14,945.24 L415.12,946.47 L416.10,947.79 L417.08,949.19 L418.06,950.66 L419.04,952.18 L420.02,953.75 L421.00,955.35 L421.98,956.98 L422.96,958.63 L423.94,960.30 L424.92,961.99 L425.90,963.69 L426.88,965.39 L427.86,967.10 L428.84,968.81 L429.82,970.51 L430.80,972.21 L431.78,973.91 L432.76,975.59 L433.74,977.27 L434.72,978.93 L435.70,980.58 L436.68,982.22 L437.66,983.84 L438.64,985.44 L439.62,987.02 L440.60,988.58 L441.58,990.13 L442.56,991.65 L443.54,993.15 L444.52,994.63 L445.50,996.08 L446.48,997.52 L447.46,998.92 L448.44,1000.31 L449.42,1001.67 L450.40,1003.01 L451.38,1004.32 L452.36,1005.61 L453.34,1006.87 L454.32,1008.11 L455.30,1009.32 L456.28,1010.51 L457.26,1011.67 L458.24,1012.81 L459.22,1013.92 L460.20,1015.01 L461.18,1016.08 L462.16,1017.12 L463.14,1018.13 L464.12,1019.13 L465.10,1020.10 L466.08,1021.04 L467.06,1021.97 L468.04,1022.87 L469.02,1023.75 L470.00,1024.61 L470.98,1025.44 L471.96,1026.26 L472.94,1027.05 L473.92,1027.82 L474.90,1028.57 L475.88,1029.31 L476.86,1030.02 L477.84,1030.71 L478.82,1031.38 L479.80,1032.04 L480.78,1032.68 L481.76,1033.30 L482.74,1033.90 L483.72,1034.48 L484.70,1035.05 L485.68,1035.60 L486.66,1036.14 L487.64,1036.66 L488.62,1037.16 L489.60,1037.65 L490.58,1038.13 L491.56,1038.59 L492.54,1039.03 L493.52,1039.47 L494.50,1039.88 L495.48,1040.29 L496.46,1040.69 L497.44,1041.07 L498.42,1041.44 L499.40,1041.79 L500.38,1042.14 L501.36,1042.48 L502.34,1042.80 L503.32,1043.11 L504.30,1043.42 L505.28,1043.71 L506.26,1044.00 L507.24,1044.27 L508.22,1044.54 L509.20,1044.79" fill="none" stroke="#6a1f8a" stroke-width="1.7" />
<text x="412.18" y="945.10" font-size="5" text-anchor="middle" fill="#6a1f8a">+</text>
<text x="414.14" y="947.14" font-size="5" text-anchor="middle" fill="#6a1f8a">+</text>
<text x="416.10" y="949.69" font-size="5" text-anchor="middle" fill="#6a1f8a">+</text>
<text x="418.06" y="952.56" font-size="5" text-anchor="middle" fill="#6a1f8a">+</text>
<text x="420.02" y="955.65" font-size="5" text-anchor="middle" fill="#6a1f8a">+</text>
<text x="421.98" y="958.88" font-size="5" text-anchor="middle" fill="#6a1f8a">+</text>
<text x="423.94" y="962.20" font-size="5" text-anchor="middle" fill="#6a1f8a">+</text>
<text x="425.90" y="965.59" font-size="5" text-anchor="middle" fill="#6a1f8a">+</text>
<text x="427.86" y="969.00" font-size="5" text-anchor="middle" fill="#6a1f8a">+</text>
<text x="429.82" y="972.41" font-size="5" text-anchor="middle" fill="#6a1f8a">+</text>
<text x="431.78" y="975.81" font-size="5" text-anchor="middle" fill="#6a1f8a">+</text>
<text x="433.74" y="979.17" font-size="5" text-anchor="middle" fill="#6a1f8a">+</text>
<text x="435.70" y="982.48" font-size="5" text-anchor="middle" fill="#6a1f8a">+</text>
<text x="437.66" y="985.74" font-size="5" text-anchor="middle" fill="#6a1f8a">+</text>
<text x="439.62" y="988.92" font-size="5" text-anchor="middle" fill="#6a1f8a">+</text>
<text x="441.58" y="992.03" font-size="5" text-anchor="middle" fill="#6a1f8a">+</text>
<text x="443.54" y="995.05" font-size="5" text-anchor="middle" fill="#6a1f8a">+</text>
<text x="445.50" y="997.98" font-size="5" text-anchor="middle" fill="#6a1f8a">+</text>
<text x="447.46" y="1000.82" font-size="5" text-anchor="middle" fill="#6a1f8a">+</text>
<text x="449.42" y="1003.57" font-size="5" text-anchor="middle" fill="#6a1f8a">+</text>
<text x="451.38" y="1006.22" font-size="5" text-anchor="middle" fill="#6a1f8a">+</text>
<text x="453.34" y="1008.77" font-size="5" text-anchor="middle" fill="#6a1f8a">+</text>
<text x="455.30" y="1011.22" font-size="5" text-anchor="middle" fill="#6a1f8a">+</text>
<text x="457.26" y="1013.57" font-size="5" text-anchor="middle" fill="#6a1f8a">+</text>
<text x="459.22" y="1015.82" font-size="5" text-anchor="middle" fill="#6a1f8a">+</text>
<text x="461.18" y="1017.98" font-size="5" text-anchor="middle" fill="#6a1f8a">+</text>
<text x="463.14" y="1020.03" font-size="5" text-anchor="middle" fill="#6a1f8a">+</text>
<text x="465.10" y="1022.00" font-size="5" text-anchor="middle" fill="#6a1f8a">+</text>
<text x="467.06" y="1023.87" font-size="5" text-anchor="middle" fill="#6a1f8a">+</text>
<text x="469.02" y="1025.65" font-size="5" text-anchor="middle" fill="#6a1f8a">+</text>
<text x="470.98" y="1027.34" font-size="5" text-anchor="middle" fill="#6a1f8a">+</text>
<text x="472.94" y="1028.95" font-size="5" text-anchor="middle" fill="#6a1f8a">+</text>
<text x="474.90" y="1030.47" font-size="5" text-anchor="middle" fill="#6a1f8a">+</text>
<text x="476.86" y="1031.92" font-size="5" text-anchor="middle" fill="#6a1f8a">+</text>
<text x="478.82" y="1033.28" font-size="5" text-anchor="middle" fill="#6a1f8a">+</text>
<text x="480.78" y="1034.58" font-size="5" text-anchor="middle" fill="#6a1f8a">+</text>
<text x="482.74" y="1035.80" font-size="5" text-anchor="middle" fill="#6a1f8a">+</text>
<text x="484.70" y="1036.95" font-size="5" text-anchor="middle" fill="#6a1f8a">+</text>
<text x="486.66" y="1038.04" font-size="5" text-anchor="middle" fill="#6a1f8a">+</text>
<text x="488.62" y="1039.06" font-size="5" text-anchor="middle" fill="#6a1f8a">+</text>
<text x="490.58" y="1040.03" font-size="5" text-anchor="middle" fill="#6a1f8a">+</text>
<text x="492.54" y="1040.93" font-size="5" text-anchor="middle" fill="#6a1f8a">+</text>
<text x="494.50" y="1041.78" font-size="5" text-anchor="middle" fill="#6a1f8a">+</text>
<text x="496.46" y="1042.59" font-size="5" text-anchor="middle" fill="#6a1f8a">+</text>
<text x="498.42" y="1043.34" font-size="5" text-anchor="middle" fill="#6a1f8a">+</text>
<text x="500.38" y="1044.04" font-size="5" text-anchor="middle" fill="#6a1f8a">+</text>
<text x="502.34" y="1044.70" font-size="5" text-anchor="middle" fill="#6a1f8a">+</text>
<text x="504.30" y="1045.32" font-size="5" text-anchor="middle" fill="#6a1f8a">+</text>
<text x="506.26" y="1045.90" font-size="5" text-anchor="middle" fill="#6a1f8a">+</text>
<text x="508.22" y="1046.44" font-size="5" text-anchor="middle" fill="#6a1f8a">+</text>
<line x1="418.30" y1="902.90" x2="423.30" y2="902.90" stroke="#1e7c3a" stroke-width="0.8" />
<text x="427.30" y="905.40" font-size="7.2" text-anchor="start" fill="#1e7c3a" font-weight="normal" font-style="normal" >R140Q</text>
<line x1="418.30" y1="910.75" x2="423.30" y2="910.75" stroke="#6a1f8a" stroke-width="0.8" />
<text x="427.30" y="913.25" font-size="7.2" text-anchor="start" fill="#6a1f8a" font-weight="normal" font-style="normal" >R140Q + A347T</text>
<line x1="418.30" y1="918.60" x2="423.30" y2="918.60" stroke="#5fbf5f" stroke-width="0.8" />
<text x="427.30" y="921.10" font-size="7.2" text-anchor="start" fill="#5fbf5f" font-weight="normal" font-style="normal" >R140Q</text>
<line x1="418.30" y1="926.45" x2="423.30" y2="926.45" stroke="#c98fd6" stroke-width="0.8" />
<text x="427.30" y="928.95" font-size="7.2" text-anchor="start" fill="#c98fd6" font-weight="normal" font-style="normal" >R140Q + A347T</text>
<line x1="483.30" y1="901.30" x2="483.30" y2="912.40" stroke="#231f20" stroke-width="0.8" />
<line x1="483.30" y1="917.30" x2="483.30" y2="929.40" stroke="#231f20" stroke-width="0.8" />
<text x="485.50" y="910.10" font-size="7.5" text-anchor="start" fill="#1c1a1b" font-weight="normal" font-style="normal" >+ DMSO</text>
<text x="485.50" y="926.20" font-size="7.5" text-anchor="start" fill="#1c1a1b" font-weight="normal" font-style="normal" >+ AG-221</text>
<text transform="translate(243.30,798.4) rotate(-90)" font-size="7.7" text-anchor="middle" fill="#231f20">Enzyme activity</text>
<text transform="translate(253.00,800.0) rotate(-90)" font-size="7.5" text-anchor="middle" fill="#231f20">(NADPH consumption ΔOD<tspan font-size="4.8" dy="1.6">340</tspan><tspan dy="-1.6">)</tspan></text>
<text transform="translate(243.30,997.4) rotate(-90)" font-size="7.7" text-anchor="middle" fill="#231f20">Enzyme activity</text>
<text transform="translate(253.00,999.0) rotate(-90)" font-size="7.5" text-anchor="middle" fill="#231f20">(NADPH consumption ΔOD<tspan font-size="4.8" dy="1.6">340</tspan><tspan dy="-1.6">)</tspan></text>
</svg></body></html>
